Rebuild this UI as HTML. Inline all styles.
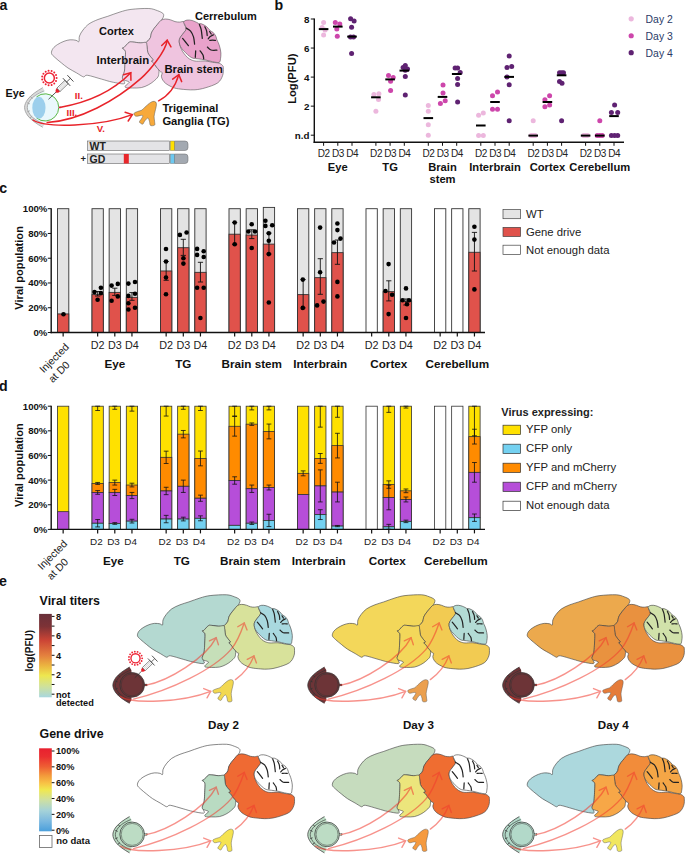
<!DOCTYPE html><html><head><meta charset="utf-8"><style>html,body{margin:0;padding:0;background:#fff;}svg{display:block;}</style></head><body><svg width="685" height="854" viewBox="0 0 685 854" font-family="Liberation Sans, sans-serif"><rect width="685" height="854" fill="#fff"/><text x="-0.60" y="10.30" font-size="14.2" font-weight="bold" text-anchor="start" fill="#111" >a</text><text x="274.60" y="10.00" font-size="14.2" font-weight="bold" text-anchor="start" fill="#111" >b</text><text x="-0.80" y="193.40" font-size="14.2" font-weight="bold" text-anchor="start" fill="#111" >c</text><text x="-0.90" y="391.20" font-size="14.2" font-weight="bold" text-anchor="start" fill="#111" >d</text><text x="-0.90" y="585.80" font-size="14.2" font-weight="bold" text-anchor="start" fill="#111" >e</text><path d="M51.50,53.40 C51.17,51.90 51.98,49.98 53.00,48.50 C54.02,47.02 55.77,45.70 57.60,44.50 C59.43,43.30 61.92,42.08 64.00,41.30 C66.08,40.52 68.10,39.97 70.10,39.80 C72.10,39.63 74.53,40.00 76.00,40.30 C77.47,40.60 78.32,42.32 78.90,41.60 C79.48,40.88 78.82,37.93 79.50,36.00 C80.18,34.07 81.42,32.02 83.00,30.00 C84.58,27.98 86.50,25.65 89.00,23.90 C91.50,22.15 94.87,20.77 98.00,19.50 C101.13,18.23 104.13,17.55 107.80,16.30 C111.47,15.05 116.13,13.15 120.00,12.00 C123.87,10.85 126.20,9.98 131.00,9.40 C135.80,8.82 144.38,8.28 148.80,8.50 C153.22,8.72 155.17,9.90 157.50,10.70 C159.83,11.50 161.78,12.42 162.80,13.30 C163.82,14.18 163.75,14.97 163.60,16.00 C163.45,17.03 162.92,18.12 161.90,19.50 C160.88,20.88 158.82,22.78 157.50,24.30 C156.18,25.82 155.02,27.15 154.00,28.60 C152.98,30.05 151.98,31.53 151.40,33.00 C150.82,34.47 151.08,36.08 150.50,37.40 C149.92,38.72 148.77,40.02 147.90,40.90 C147.03,41.78 146.55,42.37 145.30,42.70 C144.05,43.03 142.53,43.02 140.40,42.90 C138.27,42.78 134.40,42.08 132.50,42.00 C130.60,41.92 130.38,41.52 129.00,42.40 C127.62,43.28 125.30,46.35 124.20,47.30 C123.10,48.25 122.33,47.67 122.40,48.10 C122.47,48.53 124.08,49.17 124.60,49.90 C125.12,50.63 125.42,50.60 125.50,52.50 C125.58,54.40 125.25,58.38 125.10,61.30 C124.95,64.22 124.82,67.97 124.60,70.00 C124.38,72.03 124.17,72.33 123.80,73.50 C123.43,74.67 122.48,75.97 122.40,77.00 C122.32,78.03 123.03,78.57 123.30,79.70 C123.57,80.83 125.88,83.42 124.00,83.80 C122.12,84.18 115.75,82.78 112.00,82.00 C108.25,81.22 105.55,80.22 101.50,79.10 C97.45,77.98 90.53,75.73 87.70,75.30 C84.87,74.87 85.33,76.28 84.50,76.50 C83.67,76.72 84.05,77.22 82.70,76.60 C81.35,75.98 78.85,74.23 76.40,72.80 C73.95,71.37 70.52,69.67 68.00,68.00 C65.48,66.33 63.47,64.55 61.30,62.80 C59.13,61.05 56.63,59.07 55.00,57.50 C53.37,55.93 51.83,54.90 51.50,53.40 Z" fill="#f3e6f0" stroke="#555" stroke-width="0.6"/><path d="M161.00,20.30 C162.32,19.42 163.78,19.07 165.40,19.00 C167.02,18.93 169.10,19.47 170.70,19.90 C172.30,20.33 173.55,21.23 175.00,21.60 C176.45,21.97 177.93,22.10 179.40,22.10 C180.87,22.10 182.97,21.20 183.80,21.60 C184.63,22.00 184.00,23.28 184.40,24.50 C184.80,25.72 186.27,27.57 186.20,28.90 C186.13,30.23 184.85,31.28 184.00,32.50 C183.15,33.72 181.88,34.98 181.10,36.20 C180.32,37.42 179.55,38.47 179.30,39.80 C179.05,41.13 179.23,42.58 179.60,44.20 C179.97,45.82 180.77,47.95 181.50,49.50 C182.23,51.05 183.00,52.17 184.00,53.50 C185.00,54.83 186.25,56.42 187.50,57.50 C188.75,58.58 190.00,59.38 191.50,60.00 C193.00,60.62 194.22,61.03 196.50,61.20 C198.78,61.37 202.53,60.82 205.20,61.00 C207.87,61.18 210.18,61.93 212.50,62.30 C214.82,62.67 217.43,62.67 219.10,63.20 C220.77,63.73 221.80,64.73 222.50,65.50 C223.20,66.27 223.27,66.17 223.30,67.80 C223.33,69.43 223.63,72.78 222.70,75.30 C221.77,77.82 220.63,80.80 217.70,82.90 C214.77,85.00 208.88,86.75 205.10,87.90 C201.32,89.05 198.18,89.52 195.00,89.80 C191.82,90.08 189.08,89.82 186.00,89.60 C182.92,89.38 178.98,89.00 176.50,88.50 C174.02,88.00 172.88,87.43 171.10,86.60 C169.32,85.77 167.20,84.60 165.80,83.50 C164.40,82.40 163.43,81.22 162.70,80.00 C161.97,78.78 161.47,77.42 161.40,76.20 C161.33,74.98 162.45,73.43 162.30,72.70 C162.15,71.97 161.08,72.25 160.50,71.80 C159.92,71.35 159.52,70.80 158.80,70.00 C158.08,69.20 157.08,68.17 156.20,67.00 C155.32,65.83 154.32,63.98 153.50,63.00 C152.68,62.02 151.37,61.60 151.30,61.10 C151.23,60.60 153.32,60.85 153.10,60.00 C152.88,59.15 150.88,57.25 150.00,56.00 C149.12,54.75 148.30,54.10 147.80,52.50 C147.30,50.90 147.28,48.08 147.00,46.40 C146.72,44.72 145.95,43.32 146.10,42.40 C146.25,41.48 147.17,41.73 147.90,40.90 C148.63,40.07 149.92,38.72 150.50,37.40 C151.08,36.08 150.82,34.47 151.40,33.00 C151.98,31.53 152.98,30.05 154.00,28.60 C155.02,27.15 156.33,25.68 157.50,24.30 C158.67,22.92 159.68,21.18 161.00,20.30 Z" fill="#efc4df" stroke="#555" stroke-width="0.6"/><path d="M122.40,48.10 C122.33,47.67 123.10,48.25 124.20,47.30 C125.30,46.35 127.62,43.28 129.00,42.40 C130.38,41.52 130.60,41.92 132.50,42.00 C134.40,42.08 138.13,42.83 140.40,42.90 C142.67,42.97 145.00,41.82 146.10,42.40 C147.20,42.98 146.72,44.72 147.00,46.40 C147.28,48.08 147.30,50.90 147.80,52.50 C148.30,54.10 149.12,54.75 150.00,56.00 C150.88,57.25 152.88,59.15 153.10,60.00 C153.32,60.85 151.23,60.60 151.30,61.10 C151.37,61.60 152.68,62.02 153.50,63.00 C154.32,63.98 155.32,65.83 156.20,67.00 C157.08,68.17 158.37,68.92 158.80,70.00 C159.23,71.08 158.95,72.33 158.80,73.50 C158.65,74.67 158.78,75.68 157.90,77.00 C157.02,78.32 155.10,80.08 153.50,81.40 C151.90,82.72 150.33,83.87 148.30,84.90 C146.27,85.93 143.93,87.08 141.30,87.60 C138.67,88.12 135.05,88.00 132.50,88.00 C129.95,88.00 127.17,87.97 126.00,87.60 C124.83,87.23 125.00,86.62 125.50,85.80 C126.00,84.98 128.57,83.43 129.00,82.70 C129.43,81.97 129.05,81.90 128.10,81.40 C127.15,80.90 124.25,80.43 123.30,79.70 C122.35,78.97 122.32,78.03 122.40,77.00 C122.48,75.97 123.43,74.67 123.80,73.50 C124.17,72.33 124.38,72.03 124.60,70.00 C124.82,67.97 124.95,64.22 125.10,61.30 C125.25,58.38 125.58,54.40 125.50,52.50 C125.42,50.60 125.12,50.63 124.60,49.90 C124.08,49.17 122.47,48.53 122.40,48.10 Z" fill="#f2d4e7" stroke="#555" stroke-width="0.6"/><path d="M183.70,21.90 C184.03,21.08 185.60,20.33 187.00,20.10 C188.40,19.87 190.28,20.02 192.10,20.50 C193.92,20.98 196.82,22.45 197.90,23.00 C198.98,23.55 198.00,23.67 198.60,23.80 C199.20,23.93 200.15,23.32 201.50,23.80 C202.85,24.28 205.23,25.55 206.70,26.70 C208.17,27.85 209.22,29.73 210.30,30.70 C211.38,31.67 212.28,31.58 213.20,32.50 C214.12,33.42 215.18,34.98 215.80,36.20 C216.42,37.42 216.48,38.72 216.90,39.80 C217.32,40.88 217.82,41.48 218.30,42.70 C218.78,43.92 219.37,45.38 219.80,47.10 C220.23,48.82 220.78,51.05 220.90,53.00 C221.02,54.95 220.80,57.23 220.50,58.80 C220.20,60.37 220.43,61.92 219.10,62.40 C217.77,62.88 214.82,62.12 212.50,61.70 C210.18,61.28 207.63,60.38 205.20,59.90 C202.77,59.42 199.93,59.08 197.90,58.80 C195.87,58.52 194.40,58.62 193.00,58.20 C191.60,57.78 190.75,57.23 189.50,56.30 C188.25,55.37 186.78,53.88 185.50,52.60 C184.22,51.32 182.78,50.00 181.80,48.60 C180.82,47.20 180.02,45.67 179.60,44.20 C179.18,42.73 179.05,41.13 179.30,39.80 C179.55,38.47 180.32,37.42 181.10,36.20 C181.88,34.98 183.15,33.72 184.00,32.50 C184.85,31.28 186.03,30.15 186.20,28.90 C186.37,27.65 185.42,26.17 185.00,25.00 C184.58,23.83 183.37,22.72 183.70,21.90 Z" fill="#e9a2cb" stroke="#555" stroke-width="0.6"/><path d="M186.20,28.10 C186.93,28.60 189.38,29.63 190.60,31.10 C191.82,32.57 192.83,34.72 193.50,36.90 C194.17,39.08 194.42,42.98 194.60,44.20" fill="none" stroke="#222" stroke-width="1.25" stroke-linecap="round"/><path d="M182.60,38.40 C183.08,39.00 184.53,40.78 185.50,42.00 C186.47,43.22 187.92,45.08 188.40,45.70" fill="none" stroke="#222" stroke-width="1.25" stroke-linecap="round"/><path d="M199.40,24.50 C199.70,25.35 200.72,27.28 201.20,29.60 C201.68,31.92 202.12,36.93 202.30,38.40" fill="none" stroke="#222" stroke-width="1.25" stroke-linecap="round"/><path d="M209.80,40.40 C210.25,40.37 211.57,40.20 212.50,40.20 C213.43,40.20 214.92,40.37 215.40,40.40" fill="none" stroke="#222" stroke-width="1.25" stroke-linecap="round"/><path d="M207.40,47.10 C208.00,47.58 209.42,49.48 211.00,50.00 C212.58,50.52 215.92,50.17 216.90,50.20" fill="none" stroke="#222" stroke-width="1.25" stroke-linecap="round"/><path d="M195.70,50.80 C195.63,51.88 195.37,56.22 195.30,57.30" fill="none" stroke="#222" stroke-width="1.25" stroke-linecap="round"/><path d="M200.10,50.80 C200.58,51.52 202.40,53.77 203.00,55.10 C203.60,56.43 203.58,58.18 203.70,58.80" fill="none" stroke="#222" stroke-width="1.25" stroke-linecap="round"/><path d="M209.60,31.50 C209.87,31.92 210.93,33.58 211.20,34.00" fill="none" stroke="#222" stroke-width="1.25" stroke-linecap="round"/><path d="M204.80,26.80 C205.10,27.47 206.20,29.35 206.60,30.80 C207.00,32.25 207.10,34.72 207.20,35.50" fill="none" stroke="#222" stroke-width="1.25" stroke-linecap="round"/><path d="M213.50,34.80 C212.95,35.10 211.08,35.93 210.20,36.60 C209.32,37.27 208.53,38.43 208.20,38.80" fill="none" stroke="#222" stroke-width="1.25" stroke-linecap="round"/><path d="M134.40,112.90 C135.08,112.38 136.97,111.77 138.20,111.30 C139.43,110.83 140.68,110.78 141.80,110.10 C142.92,109.42 143.62,108.35 144.90,107.20 C146.18,106.05 148.15,104.17 149.50,103.20 C150.85,102.23 151.95,101.58 153.00,101.40 C154.05,101.22 155.23,101.47 155.80,102.10 C156.37,102.73 156.52,103.67 156.40,105.20 C156.28,106.73 155.48,109.43 155.10,111.30 C154.72,113.17 154.18,114.70 154.10,116.40 C154.02,118.10 154.52,120.05 154.60,121.50 C154.68,122.95 155.28,124.45 154.60,125.10 C153.92,125.75 151.35,126.00 150.50,125.40 C149.65,124.80 149.85,122.65 149.50,121.50 C149.15,120.35 148.83,119.00 148.40,118.50 C147.97,118.00 147.57,118.00 146.90,118.50 C146.23,119.00 145.08,120.57 144.40,121.50 C143.72,122.43 143.48,123.83 142.80,124.10 C142.12,124.37 140.85,123.53 140.30,123.10 C139.75,122.67 139.33,122.18 139.50,121.50 C139.67,120.82 140.75,119.93 141.30,119.00 C141.85,118.07 142.88,116.50 142.80,115.90 C142.72,115.30 141.73,115.35 140.80,115.40 C139.87,115.45 138.13,116.12 137.20,116.20 C136.27,116.28 135.72,116.20 135.20,115.90 C134.68,115.60 134.23,114.90 134.10,114.40 C133.97,113.90 133.72,113.42 134.40,112.90 Z" fill="#f7a93b" stroke="#555" stroke-width="0.5"/><path d="M42.8,87.6 C37,91 31,95 28,99 C25.5,102.5 24.6,105 24.6,107.4 C24.6,110 25.5,112.5 28,116 C31,120 37,124 42.8,127.3 L44.8,124 L46,107 L44.8,90.8 Z" fill="#eef8fb"/><path d="M43.5,89.2 C37.5,92.2 31.7,96 29.1,99.5 C26.9,102.8 25.9,105 25.9,107.4 C25.9,110 26.9,112.2 29.1,115.5 C31.7,119 37.5,122.8 43.5,125.6" fill="none" stroke="#dadada" stroke-width="2.6"/><path d="M42.8,87.6 C37,91 31,95 28,99 C25.5,102.5 24.6,105 24.6,107.4 C24.6,110 25.5,112.5 28,116 C31,120 37,124 42.8,127.3" fill="none" stroke="#999" stroke-width="0.8"/><path d="M44.2,90.9 C38,93.3 32.5,97 30.3,100 C28.3,103 27.3,105 27.3,107.4 C27.3,110 28.3,112 30.3,115 C32.5,118 38,121.5 44.2,123.9" fill="none" stroke="#999" stroke-width="0.8"/><path d="M30.5,96.8 L32.6,98.6 M27.3,102.8 L29.8,103.8 M27.3,111.8 L29.8,110.8 M30,118 L32.2,116.2" stroke="#999" stroke-width="0.8"/><circle cx="45.3" cy="107.4" r="13.6" fill="#eaf8fc"/><path d="M36.5,96.9 A13.6,13.6 0 1,1 36.5,117.9" fill="none" stroke="#5cb848" stroke-width="1"/><ellipse cx="38.9" cy="107.7" rx="6.6" ry="11" fill="#9ccfec"/><rect x="58.6" y="106.4" width="2.6" height="1.8" fill="#aaa"/><g><circle cx="49.35" cy="78.0" r="5.0" fill="none" stroke="#ee2233" stroke-width="1.5"/><circle cx="56.65" cy="78.00" r="1.0" fill="#ee2233"/><circle cx="56.02" cy="80.97" r="1.0" fill="#ee2233"/><circle cx="54.23" cy="83.42" r="1.0" fill="#ee2233"/><circle cx="51.61" cy="84.94" r="1.0" fill="#ee2233"/><circle cx="48.59" cy="85.26" r="1.0" fill="#ee2233"/><circle cx="45.70" cy="84.32" r="1.0" fill="#ee2233"/><circle cx="43.44" cy="82.29" r="1.0" fill="#ee2233"/><circle cx="42.21" cy="79.52" r="1.0" fill="#ee2233"/><circle cx="42.21" cy="76.48" r="1.0" fill="#ee2233"/><circle cx="43.44" cy="73.71" r="1.0" fill="#ee2233"/><circle cx="45.70" cy="71.68" r="1.0" fill="#ee2233"/><circle cx="48.59" cy="70.74" r="1.0" fill="#ee2233"/><circle cx="51.61" cy="71.06" r="1.0" fill="#ee2233"/><circle cx="54.23" cy="72.58" r="1.0" fill="#ee2233"/><circle cx="56.02" cy="75.03" r="1.0" fill="#ee2233"/></g><g transform="translate(48.5,99.3) rotate(-43.70)"><line x1="0" y1="0" x2="10.5" y2="0" stroke="#333" stroke-width="0.75"/><path d="M10,0 Q11,-2.3 13.8,-2.3 L13.8,2.3 Q11,2.3 10,0 Z" fill="#e8202a"/><rect x="13.8" y="-2.3" width="11.2" height="4.6" fill="#fafafa" stroke="#444" stroke-width="0.6"/><line x1="15" y1="-0.8" x2="24" y2="-0.8" stroke="#aaa" stroke-width="0.45"/><line x1="15" y1="0.8" x2="24" y2="0.8" stroke="#aaa" stroke-width="0.45"/><line x1="25" y1="-5.3" x2="25" y2="5.3" stroke="#444" stroke-width="0.9"/><line x1="25" y1="0" x2="30.3" y2="0" stroke="#444" stroke-width="0.8"/><line x1="30.3" y1="-4.4" x2="30.3" y2="4.4" stroke="#444" stroke-width="0.9"/></g><path d="M59.6,107.4 C85,103 112,92 130.8,72.7" fill="none" stroke="#e8232a" stroke-width="1.5" stroke-linecap="round"/><path d="M123.46,74.66 L130.80,72.70 L130.93,80.30" fill="none" stroke="#e8232a" stroke-width="1.5" stroke-linecap="round" stroke-linejoin="miter"/><path d="M47.2,122.6 C80,120.5 116,100.5 141,78.4 C148.5,71.8 165.5,52 167.2,40.3" fill="none" stroke="#e8232a" stroke-width="1.5" stroke-linecap="round"/><path d="M161.71,45.55 L167.20,40.30 L170.97,46.90" fill="none" stroke="#e8232a" stroke-width="1.5" stroke-linecap="round" stroke-linejoin="miter"/><path d="M33,120 C45,128 100,127 132.3,114.6" fill="none" stroke="#e8232a" stroke-width="1.5" stroke-linecap="round"/><path d="M125.10,112.18 L132.30,114.60 L128.21,121.01" fill="none" stroke="#e8232a" stroke-width="1.5" stroke-linecap="round" stroke-linejoin="miter"/><path d="M158.6,100.8 C168,96 175,88 178.8,74.6" fill="none" stroke="#e8232a" stroke-width="1.5" stroke-linecap="round"/><path d="M172.66,79.09 L178.80,74.60 L181.67,81.64" fill="none" stroke="#e8232a" stroke-width="1.5" stroke-linecap="round" stroke-linejoin="miter"/><text x="99.00" y="34.50" font-size="11.0" font-weight="bold" text-anchor="start" fill="#111" >Cortex</text><text x="96.60" y="64.40" font-size="11.4" font-weight="bold" text-anchor="start" fill="#111" >Interbrain</text><text x="195.00" y="19.50" font-size="11.0" font-weight="bold" text-anchor="start" fill="#111" >Cerrebulum</text><text x="164.40" y="73.40" font-size="11.3" font-weight="bold" text-anchor="start" fill="#111" >Brain stem</text><text x="5.50" y="97.00" font-size="10.8" font-weight="bold" text-anchor="start" fill="#111" >Eye</text><text x="162.40" y="112.30" font-size="11.2" font-weight="bold" text-anchor="start" fill="#111" >Trigeminal</text><text x="162.40" y="124.60" font-size="11.2" font-weight="bold" text-anchor="start" fill="#111" >Ganglia (TG)</text><text x="74.80" y="98.60" font-size="9.6" font-weight="bold" text-anchor="start" fill="#e8232a" >II.</text><text x="66.60" y="116.10" font-size="9.6" font-weight="bold" text-anchor="start" fill="#e8232a" >III.</text><text x="96.80" y="132.30" font-size="9.6" font-weight="bold" text-anchor="start" fill="#e8232a" >V.</text><path d="M174.5,141 L185,141 Q188,141 188,144 L188,147.5 Q188,150.5 185,150.5 L174.5,150.5 Z" fill="#a3a9b1" stroke="#666" stroke-width="0.5"/><rect x="87.5" y="141" width="82" height="9.5" fill="#e3e3e6" stroke="#666" stroke-width="0.6"/><rect x="170.3" y="141" width="4.2" height="9.5" fill="#ffe000" stroke="#666" stroke-width="0.4"/><text x="89.50" y="149.60" font-size="10.5" font-weight="bold" text-anchor="start" fill="#222" >WT</text><path d="M174.5,154 L185,154 Q188,154 188,157 L188,160.5 Q188,163.5 185,163.5 L174.5,163.5 Z" fill="#a3a9b1" stroke="#666" stroke-width="0.5"/><rect x="87.5" y="154" width="82" height="9.5" fill="#e3e3e6" stroke="#666" stroke-width="0.6"/><rect x="170.3" y="154" width="4.2" height="9.5" fill="#6cc8f0" stroke="#666" stroke-width="0.4"/><rect x="123.8" y="154" width="5" height="9.5" fill="#e8272b"/><text x="89.50" y="162.60" font-size="10.5" font-weight="bold" text-anchor="start" fill="#222" >GD</text><text x="80.60" y="162.00" font-size="9.5" font-weight="bold" text-anchor="start" fill="#222" >+</text><line x1="314.3" y1="18.50" x2="314.3" y2="142.9" stroke="#111" stroke-width="1.4"/><line x1="313.6" y1="142.2" x2="624" y2="142.2" stroke="#111" stroke-width="1.4"/><line x1="310.8" y1="19.00" x2="314.3" y2="19.00" stroke="#111" stroke-width="1"/><text x="309.50" y="22.50" font-size="9.8" font-weight="bold" text-anchor="end" fill="#111" >8</text><line x1="310.8" y1="48.05" x2="314.3" y2="48.05" stroke="#111" stroke-width="1"/><text x="309.50" y="51.55" font-size="9.8" font-weight="bold" text-anchor="end" fill="#111" >6</text><line x1="310.8" y1="77.10" x2="314.3" y2="77.10" stroke="#111" stroke-width="1"/><text x="309.50" y="80.60" font-size="9.8" font-weight="bold" text-anchor="end" fill="#111" >4</text><line x1="310.8" y1="106.15" x2="314.3" y2="106.15" stroke="#111" stroke-width="1"/><text x="309.50" y="109.65" font-size="9.8" font-weight="bold" text-anchor="end" fill="#111" >2</text><line x1="310.8" y1="135.20" x2="314.3" y2="135.20" stroke="#111" stroke-width="1"/><text x="309.50" y="138.70" font-size="9.8" font-weight="bold" text-anchor="end" fill="#111" >n.d</text><text x="0.00" y="0.00" font-size="11.2" font-weight="bold" text-anchor="middle" fill="#111" transform="translate(296.0,78.7) rotate(-90)">Log(PFU)</text><line x1="323.60" y1="142.2" x2="323.60" y2="145.8" stroke="#111" stroke-width="1"/><text x="323.80" y="157.10" font-size="10" text-anchor="middle" fill="#222" letter-spacing="-0.4">D2</text><line x1="337.80" y1="142.2" x2="337.80" y2="145.8" stroke="#111" stroke-width="1"/><text x="338.00" y="157.10" font-size="10" text-anchor="middle" fill="#222" letter-spacing="-0.4">D3</text><line x1="352.00" y1="142.2" x2="352.00" y2="145.8" stroke="#111" stroke-width="1"/><text x="352.20" y="157.10" font-size="10" text-anchor="middle" fill="#222" letter-spacing="-0.4">D4</text><text x="337.80" y="170.70" font-size="11.2" font-weight="bold" text-anchor="middle" fill="#111" >Eye</text><line x1="375.90" y1="142.2" x2="375.90" y2="145.8" stroke="#111" stroke-width="1"/><text x="376.10" y="157.10" font-size="10" text-anchor="middle" fill="#222" letter-spacing="-0.4">D2</text><line x1="390.10" y1="142.2" x2="390.10" y2="145.8" stroke="#111" stroke-width="1"/><text x="390.30" y="157.10" font-size="10" text-anchor="middle" fill="#222" letter-spacing="-0.4">D3</text><line x1="404.30" y1="142.2" x2="404.30" y2="145.8" stroke="#111" stroke-width="1"/><text x="404.50" y="157.10" font-size="10" text-anchor="middle" fill="#222" letter-spacing="-0.4">D4</text><text x="390.10" y="170.70" font-size="11.2" font-weight="bold" text-anchor="middle" fill="#111" >TG</text><line x1="428.30" y1="142.2" x2="428.30" y2="145.8" stroke="#111" stroke-width="1"/><text x="428.50" y="157.10" font-size="10" text-anchor="middle" fill="#222" letter-spacing="-0.4">D2</text><line x1="442.50" y1="142.2" x2="442.50" y2="145.8" stroke="#111" stroke-width="1"/><text x="442.70" y="157.10" font-size="10" text-anchor="middle" fill="#222" letter-spacing="-0.4">D3</text><line x1="456.70" y1="142.2" x2="456.70" y2="145.8" stroke="#111" stroke-width="1"/><text x="456.90" y="157.10" font-size="10" text-anchor="middle" fill="#222" letter-spacing="-0.4">D4</text><text x="442.50" y="170.70" font-size="11.2" font-weight="bold" text-anchor="middle" fill="#111" >Brain</text><line x1="480.80" y1="142.2" x2="480.80" y2="145.8" stroke="#111" stroke-width="1"/><text x="481.00" y="157.10" font-size="10" text-anchor="middle" fill="#222" letter-spacing="-0.4">D2</text><line x1="495.00" y1="142.2" x2="495.00" y2="145.8" stroke="#111" stroke-width="1"/><text x="495.20" y="157.10" font-size="10" text-anchor="middle" fill="#222" letter-spacing="-0.4">D3</text><line x1="509.20" y1="142.2" x2="509.20" y2="145.8" stroke="#111" stroke-width="1"/><text x="509.40" y="157.10" font-size="10" text-anchor="middle" fill="#222" letter-spacing="-0.4">D4</text><text x="495.00" y="170.70" font-size="11.2" font-weight="bold" text-anchor="middle" fill="#111" >Interbrain</text><line x1="533.20" y1="142.2" x2="533.20" y2="145.8" stroke="#111" stroke-width="1"/><text x="533.40" y="157.10" font-size="10" text-anchor="middle" fill="#222" letter-spacing="-0.4">D2</text><line x1="547.40" y1="142.2" x2="547.40" y2="145.8" stroke="#111" stroke-width="1"/><text x="547.60" y="157.10" font-size="10" text-anchor="middle" fill="#222" letter-spacing="-0.4">D3</text><line x1="561.60" y1="142.2" x2="561.60" y2="145.8" stroke="#111" stroke-width="1"/><text x="561.80" y="157.10" font-size="10" text-anchor="middle" fill="#222" letter-spacing="-0.4">D4</text><text x="547.40" y="170.70" font-size="11.2" font-weight="bold" text-anchor="middle" fill="#111" >Cortex</text><line x1="585.60" y1="142.2" x2="585.60" y2="145.8" stroke="#111" stroke-width="1"/><text x="585.80" y="157.10" font-size="10" text-anchor="middle" fill="#222" letter-spacing="-0.4">D2</text><line x1="599.80" y1="142.2" x2="599.80" y2="145.8" stroke="#111" stroke-width="1"/><text x="600.00" y="157.10" font-size="10" text-anchor="middle" fill="#222" letter-spacing="-0.4">D3</text><line x1="614.00" y1="142.2" x2="614.00" y2="145.8" stroke="#111" stroke-width="1"/><text x="614.20" y="157.10" font-size="10" text-anchor="middle" fill="#222" letter-spacing="-0.4">D4</text><text x="599.80" y="170.70" font-size="11.2" font-weight="bold" text-anchor="middle" fill="#111" >Cerebellum</text><text x="442.50" y="183.10" font-size="11.2" font-weight="bold" text-anchor="middle" fill="#111" >stem</text><circle cx="323.60" cy="22.60" r="2.5" fill="#ecb7dd"/><circle cx="322.10" cy="27.60" r="2.5" fill="#ecb7dd"/><circle cx="325.10" cy="30.10" r="2.5" fill="#ecb7dd"/><circle cx="323.60" cy="35.10" r="2.5" fill="#ecb7dd"/><line x1="318.80" y1="29.10" x2="328.40" y2="29.10" stroke="#000" stroke-width="2.0"/><circle cx="335.30" cy="22.60" r="2.5" fill="#cd46ab"/><circle cx="339.80" cy="24.00" r="2.5" fill="#cd46ab"/><circle cx="336.80" cy="29.00" r="2.5" fill="#cd46ab"/><circle cx="337.30" cy="36.30" r="2.5" fill="#cd46ab"/><line x1="333.00" y1="26.60" x2="342.60" y2="26.60" stroke="#000" stroke-width="2.0"/><circle cx="350.60" cy="18.80" r="2.5" fill="#5f2272"/><circle cx="354.10" cy="21.00" r="2.5" fill="#5f2272"/><circle cx="351.60" cy="27.30" r="2.5" fill="#5f2272"/><circle cx="350.50" cy="37.00" r="2.5" fill="#5f2272"/><circle cx="353.50" cy="37.00" r="2.5" fill="#5f2272"/><circle cx="351.60" cy="53.50" r="2.5" fill="#5f2272"/><line x1="347.20" y1="36.60" x2="356.80" y2="36.60" stroke="#000" stroke-width="2.0"/><circle cx="373.90" cy="94.40" r="2.5" fill="#ecb7dd"/><circle cx="378.90" cy="93.70" r="2.5" fill="#ecb7dd"/><circle cx="378.50" cy="99.50" r="2.5" fill="#ecb7dd"/><circle cx="375.90" cy="111.20" r="2.5" fill="#ecb7dd"/><line x1="371.10" y1="97.30" x2="380.70" y2="97.30" stroke="#000" stroke-width="2.0"/><circle cx="388.50" cy="75.40" r="2.5" fill="#cd46ab"/><circle cx="393.20" cy="77.60" r="2.5" fill="#cd46ab"/><circle cx="390.60" cy="81.30" r="2.5" fill="#cd46ab"/><circle cx="390.60" cy="90.50" r="2.5" fill="#cd46ab"/><line x1="385.30" y1="79.40" x2="394.90" y2="79.40" stroke="#000" stroke-width="2.0"/><circle cx="403.10" cy="67.40" r="2.5" fill="#5f2272"/><circle cx="405.30" cy="65.50" r="2.5" fill="#5f2272"/><circle cx="407.50" cy="68.90" r="2.5" fill="#5f2272"/><circle cx="405.30" cy="70.30" r="2.5" fill="#5f2272"/><circle cx="405.30" cy="76.60" r="2.5" fill="#5f2272"/><circle cx="405.30" cy="95.10" r="2.5" fill="#5f2272"/><line x1="399.50" y1="70.60" x2="409.10" y2="70.60" stroke="#000" stroke-width="2.0"/><circle cx="428.30" cy="105.40" r="2.5" fill="#ecb7dd"/><circle cx="428.30" cy="111.20" r="2.5" fill="#ecb7dd"/><circle cx="428.30" cy="124.80" r="2.5" fill="#ecb7dd"/><circle cx="428.30" cy="135.30" r="2.5" fill="#ecb7dd"/><line x1="423.50" y1="118.10" x2="433.10" y2="118.10" stroke="#000" stroke-width="2.0"/><circle cx="443.00" cy="84.90" r="2.5" fill="#cd46ab"/><circle cx="443.00" cy="93.00" r="2.5" fill="#cd46ab"/><circle cx="445.20" cy="100.70" r="2.5" fill="#cd46ab"/><circle cx="440.40" cy="103.60" r="2.5" fill="#cd46ab"/><line x1="437.70" y1="96.90" x2="447.30" y2="96.90" stroke="#000" stroke-width="2.0"/><circle cx="455.10" cy="68.10" r="2.5" fill="#5f2272"/><circle cx="457.60" cy="68.10" r="2.5" fill="#5f2272"/><circle cx="460.20" cy="72.50" r="2.5" fill="#5f2272"/><circle cx="457.60" cy="78.60" r="2.5" fill="#5f2272"/><circle cx="457.60" cy="84.60" r="2.5" fill="#5f2272"/><circle cx="457.60" cy="102.00" r="2.5" fill="#5f2272"/><line x1="451.90" y1="74.00" x2="461.50" y2="74.00" stroke="#000" stroke-width="2.0"/><circle cx="478.60" cy="115.20" r="2.5" fill="#ecb7dd"/><circle cx="483.30" cy="113.00" r="2.5" fill="#ecb7dd"/><circle cx="478.60" cy="135.60" r="2.5" fill="#ecb7dd"/><circle cx="483.30" cy="135.60" r="2.5" fill="#ecb7dd"/><line x1="476.00" y1="125.50" x2="485.60" y2="125.50" stroke="#000" stroke-width="2.0"/><circle cx="492.50" cy="95.70" r="2.5" fill="#cd46ab"/><circle cx="497.50" cy="92.00" r="2.5" fill="#cd46ab"/><circle cx="492.50" cy="109.20" r="2.5" fill="#cd46ab"/><circle cx="497.50" cy="109.20" r="2.5" fill="#cd46ab"/><line x1="490.20" y1="102.00" x2="499.80" y2="102.00" stroke="#000" stroke-width="2.0"/><circle cx="509.20" cy="55.90" r="2.5" fill="#5f2272"/><circle cx="507.00" cy="67.50" r="2.5" fill="#5f2272"/><circle cx="511.70" cy="66.50" r="2.5" fill="#5f2272"/><circle cx="507.00" cy="76.90" r="2.5" fill="#5f2272"/><circle cx="509.20" cy="84.70" r="2.5" fill="#5f2272"/><circle cx="509.20" cy="120.80" r="2.5" fill="#5f2272"/><line x1="504.40" y1="76.90" x2="514.00" y2="76.90" stroke="#000" stroke-width="2.0"/><circle cx="533.20" cy="120.80" r="2.5" fill="#ecb7dd"/><circle cx="531.20" cy="135.60" r="2.5" fill="#ecb7dd"/><circle cx="533.20" cy="135.60" r="2.5" fill="#ecb7dd"/><circle cx="535.20" cy="135.60" r="2.5" fill="#ecb7dd"/><line x1="528.40" y1="135.60" x2="538.00" y2="135.60" stroke="#000" stroke-width="2.0"/><circle cx="544.90" cy="99.80" r="2.5" fill="#cd46ab"/><circle cx="549.60" cy="95.70" r="2.5" fill="#cd46ab"/><circle cx="544.90" cy="106.70" r="2.5" fill="#cd46ab"/><circle cx="549.60" cy="105.10" r="2.5" fill="#cd46ab"/><line x1="542.60" y1="102.00" x2="552.20" y2="102.00" stroke="#000" stroke-width="2.0"/><circle cx="559.50" cy="72.80" r="2.5" fill="#5f2272"/><circle cx="563.50" cy="72.80" r="2.5" fill="#5f2272"/><circle cx="559.50" cy="81.60" r="2.5" fill="#5f2272"/><circle cx="562.00" cy="83.20" r="2.5" fill="#5f2272"/><circle cx="561.60" cy="120.80" r="2.5" fill="#5f2272"/><circle cx="561.60" cy="72.80" r="2.5" fill="#5f2272"/><line x1="556.80" y1="75.30" x2="566.40" y2="75.30" stroke="#000" stroke-width="2.0"/><circle cx="583.60" cy="135.60" r="2.5" fill="#ecb7dd"/><circle cx="585.60" cy="135.60" r="2.5" fill="#ecb7dd"/><circle cx="587.60" cy="135.60" r="2.5" fill="#ecb7dd"/><line x1="580.80" y1="135.60" x2="590.40" y2="135.60" stroke="#000" stroke-width="2.0"/><circle cx="599.80" cy="120.80" r="2.5" fill="#cd46ab"/><circle cx="597.20" cy="135.60" r="2.5" fill="#cd46ab"/><circle cx="599.80" cy="135.60" r="2.5" fill="#cd46ab"/><circle cx="602.20" cy="135.60" r="2.5" fill="#cd46ab"/><line x1="595.00" y1="135.60" x2="604.60" y2="135.60" stroke="#000" stroke-width="2.0"/><circle cx="614.60" cy="105.10" r="2.5" fill="#5f2272"/><circle cx="611.40" cy="112.40" r="2.5" fill="#5f2272"/><circle cx="617.70" cy="112.40" r="2.5" fill="#5f2272"/><circle cx="611.40" cy="135.60" r="2.5" fill="#5f2272"/><circle cx="617.70" cy="135.60" r="2.5" fill="#5f2272"/><circle cx="614.60" cy="135.60" r="2.5" fill="#5f2272"/><line x1="609.20" y1="116.10" x2="618.80" y2="116.10" stroke="#000" stroke-width="2.0"/><circle cx="631.2" cy="18.80" r="2.6" fill="#ecb7dd"/><text x="645.60" y="22.60" font-size="10.4" text-anchor="start" fill="#2b3a67" >Day 2</text><circle cx="631.2" cy="35.75" r="2.6" fill="#cd46ab"/><text x="645.60" y="39.55" font-size="10.4" text-anchor="start" fill="#2b3a67" >Day 3</text><circle cx="631.2" cy="52.70" r="2.6" fill="#5f2272"/><text x="645.60" y="56.50" font-size="10.4" text-anchor="start" fill="#2b3a67" >Day 4</text><rect x="57.50" y="208.70" width="11.3" height="123.80" fill="#e4e4e4" stroke="#333" stroke-width="0.9"/><rect x="57.50" y="313.93" width="11.3" height="18.57" fill="#e0524b" stroke="#333" stroke-width="0.9"/><rect x="92.00" y="208.70" width="11.3" height="123.80" fill="#e4e4e4" stroke="#333" stroke-width="0.9"/><rect x="92.00" y="294.62" width="11.3" height="37.88" fill="#e0524b" stroke="#333" stroke-width="0.9"/><rect x="109.15" y="208.70" width="11.3" height="123.80" fill="#e4e4e4" stroke="#333" stroke-width="0.9"/><rect x="109.15" y="292.39" width="11.3" height="40.11" fill="#e0524b" stroke="#333" stroke-width="0.9"/><rect x="126.30" y="208.70" width="11.3" height="123.80" fill="#e4e4e4" stroke="#333" stroke-width="0.9"/><rect x="126.30" y="297.34" width="11.3" height="35.16" fill="#e0524b" stroke="#333" stroke-width="0.9"/><rect x="160.50" y="208.70" width="11.3" height="123.80" fill="#e4e4e4" stroke="#333" stroke-width="0.9"/><rect x="160.50" y="270.97" width="11.3" height="61.53" fill="#e0524b" stroke="#333" stroke-width="0.9"/><rect x="177.65" y="208.70" width="11.3" height="123.80" fill="#e4e4e4" stroke="#333" stroke-width="0.9"/><rect x="177.65" y="247.70" width="11.3" height="84.80" fill="#e0524b" stroke="#333" stroke-width="0.9"/><rect x="194.80" y="208.70" width="11.3" height="123.80" fill="#e4e4e4" stroke="#333" stroke-width="0.9"/><rect x="194.80" y="272.33" width="11.3" height="60.17" fill="#e0524b" stroke="#333" stroke-width="0.9"/><rect x="229.00" y="208.70" width="11.3" height="123.80" fill="#e4e4e4" stroke="#333" stroke-width="0.9"/><rect x="229.00" y="234.20" width="11.3" height="98.30" fill="#e0524b" stroke="#333" stroke-width="0.9"/><rect x="246.15" y="208.70" width="11.3" height="123.80" fill="#e4e4e4" stroke="#333" stroke-width="0.9"/><rect x="246.15" y="235.07" width="11.3" height="97.43" fill="#e0524b" stroke="#333" stroke-width="0.9"/><rect x="263.30" y="207.40" width="11.3" height="125.10" fill="#e4e4e4" stroke="#333" stroke-width="0.9"/><rect x="263.30" y="244.11" width="11.3" height="88.39" fill="#e0524b" stroke="#333" stroke-width="0.9"/><rect x="297.50" y="208.70" width="11.3" height="123.80" fill="#e4e4e4" stroke="#333" stroke-width="0.9"/><rect x="297.50" y="294.62" width="11.3" height="37.88" fill="#e0524b" stroke="#333" stroke-width="0.9"/><rect x="314.65" y="208.70" width="11.3" height="123.80" fill="#e4e4e4" stroke="#333" stroke-width="0.9"/><rect x="314.65" y="277.66" width="11.3" height="54.84" fill="#e0524b" stroke="#333" stroke-width="0.9"/><rect x="331.80" y="208.70" width="11.3" height="123.80" fill="#e4e4e4" stroke="#333" stroke-width="0.9"/><rect x="331.80" y="252.65" width="11.3" height="79.85" fill="#e0524b" stroke="#333" stroke-width="0.9"/><rect x="366.00" y="208.70" width="11.3" height="123.80" fill="#fff" stroke="#333" stroke-width="0.9"/><rect x="383.15" y="208.70" width="11.3" height="123.80" fill="#e4e4e4" stroke="#333" stroke-width="0.9"/><rect x="383.15" y="291.65" width="11.3" height="40.85" fill="#e0524b" stroke="#333" stroke-width="0.9"/><rect x="400.30" y="208.70" width="11.3" height="123.80" fill="#e4e4e4" stroke="#333" stroke-width="0.9"/><rect x="400.30" y="301.55" width="11.3" height="30.95" fill="#e0524b" stroke="#333" stroke-width="0.9"/><rect x="434.50" y="208.70" width="11.3" height="123.80" fill="#fff" stroke="#333" stroke-width="0.9"/><rect x="451.65" y="208.70" width="11.3" height="123.80" fill="#fff" stroke="#333" stroke-width="0.9"/><rect x="468.80" y="208.70" width="11.3" height="123.80" fill="#e4e4e4" stroke="#333" stroke-width="0.9"/><rect x="468.80" y="252.28" width="11.3" height="80.22" fill="#e0524b" stroke="#333" stroke-width="0.9"/><circle cx="63.50" cy="314.30" r="2.3" fill="#000"/><line x1="97.65" y1="291.50" x2="97.65" y2="296.00" stroke="#111" stroke-width="0.9"/><line x1="95.05" y1="291.50" x2="100.25" y2="291.50" stroke="#111" stroke-width="0.9"/><line x1="95.05" y1="296.00" x2="100.25" y2="296.00" stroke="#111" stroke-width="0.9"/><circle cx="94.50" cy="292.10" r="2.3" fill="#000"/><circle cx="100.90" cy="287.70" r="2.3" fill="#000"/><circle cx="100.90" cy="293.10" r="2.3" fill="#000"/><circle cx="97.60" cy="299.70" r="2.3" fill="#000"/><line x1="114.80" y1="288.20" x2="114.80" y2="295.40" stroke="#111" stroke-width="0.9"/><line x1="112.20" y1="288.20" x2="117.40" y2="288.20" stroke="#111" stroke-width="0.9"/><line x1="112.20" y1="295.40" x2="117.40" y2="295.40" stroke="#111" stroke-width="0.9"/><circle cx="111.60" cy="285.60" r="2.3" fill="#000"/><circle cx="117.80" cy="283.90" r="2.3" fill="#000"/><circle cx="117.80" cy="296.40" r="2.3" fill="#000"/><circle cx="111.60" cy="300.80" r="2.3" fill="#000"/><line x1="131.95" y1="292.60" x2="131.95" y2="300.30" stroke="#111" stroke-width="0.9"/><line x1="129.35" y1="292.60" x2="134.55" y2="292.60" stroke="#111" stroke-width="0.9"/><line x1="129.35" y1="300.30" x2="134.55" y2="300.30" stroke="#111" stroke-width="0.9"/><circle cx="128.40" cy="283.60" r="2.3" fill="#000"/><circle cx="135.00" cy="282.00" r="2.3" fill="#000"/><circle cx="128.40" cy="295.90" r="2.3" fill="#000"/><circle cx="135.00" cy="293.80" r="2.3" fill="#000"/><circle cx="128.40" cy="303.30" r="2.3" fill="#000"/><circle cx="135.00" cy="307.70" r="2.3" fill="#000"/><circle cx="128.40" cy="309.50" r="2.3" fill="#000"/><line x1="166.15" y1="261.50" x2="166.15" y2="280.30" stroke="#111" stroke-width="0.9"/><line x1="163.55" y1="261.50" x2="168.75" y2="261.50" stroke="#111" stroke-width="0.9"/><line x1="163.55" y1="280.30" x2="168.75" y2="280.30" stroke="#111" stroke-width="0.9"/><circle cx="166.00" cy="249.00" r="2.3" fill="#000"/><circle cx="166.00" cy="261.50" r="2.3" fill="#000"/><circle cx="166.00" cy="277.50" r="2.3" fill="#000"/><circle cx="166.00" cy="294.30" r="2.3" fill="#000"/><line x1="183.30" y1="239.30" x2="183.30" y2="255.40" stroke="#111" stroke-width="0.9"/><line x1="180.70" y1="239.30" x2="185.90" y2="239.30" stroke="#111" stroke-width="0.9"/><line x1="180.70" y1="255.40" x2="185.90" y2="255.40" stroke="#111" stroke-width="0.9"/><circle cx="179.90" cy="234.90" r="2.3" fill="#000"/><circle cx="186.60" cy="232.50" r="2.3" fill="#000"/><circle cx="183.40" cy="258.20" r="2.3" fill="#000"/><circle cx="183.40" cy="263.60" r="2.3" fill="#000"/><line x1="200.45" y1="262.30" x2="200.45" y2="282.00" stroke="#111" stroke-width="0.9"/><line x1="197.85" y1="262.30" x2="203.05" y2="262.30" stroke="#111" stroke-width="0.9"/><line x1="197.85" y1="282.00" x2="203.05" y2="282.00" stroke="#111" stroke-width="0.9"/><circle cx="197.10" cy="248.90" r="2.3" fill="#000"/><circle cx="203.70" cy="251.30" r="2.3" fill="#000"/><circle cx="197.10" cy="254.90" r="2.3" fill="#000"/><circle cx="203.70" cy="257.00" r="2.3" fill="#000"/><circle cx="197.10" cy="287.70" r="2.3" fill="#000"/><circle cx="203.70" cy="287.70" r="2.3" fill="#000"/><circle cx="200.40" cy="318.00" r="2.3" fill="#000"/><line x1="234.65" y1="222.50" x2="234.65" y2="244.20" stroke="#111" stroke-width="0.9"/><line x1="232.05" y1="222.50" x2="237.25" y2="222.50" stroke="#111" stroke-width="0.9"/><line x1="232.05" y1="244.20" x2="237.25" y2="244.20" stroke="#111" stroke-width="0.9"/><circle cx="234.70" cy="222.50" r="2.3" fill="#000"/><circle cx="234.70" cy="244.20" r="2.3" fill="#000"/><line x1="251.80" y1="229.80" x2="251.80" y2="238.60" stroke="#111" stroke-width="0.9"/><line x1="249.20" y1="229.80" x2="254.40" y2="229.80" stroke="#111" stroke-width="0.9"/><line x1="249.20" y1="238.60" x2="254.40" y2="238.60" stroke="#111" stroke-width="0.9"/><circle cx="251.70" cy="224.20" r="2.3" fill="#000"/><circle cx="248.30" cy="231.50" r="2.3" fill="#000"/><circle cx="255.00" cy="231.50" r="2.3" fill="#000"/><circle cx="251.70" cy="248.00" r="2.3" fill="#000"/><line x1="268.95" y1="233.00" x2="268.95" y2="254.00" stroke="#111" stroke-width="0.9"/><line x1="266.35" y1="233.00" x2="271.55" y2="233.00" stroke="#111" stroke-width="0.9"/><line x1="266.35" y1="254.00" x2="271.55" y2="254.00" stroke="#111" stroke-width="0.9"/><circle cx="265.40" cy="220.80" r="2.3" fill="#000"/><circle cx="272.20" cy="225.20" r="2.3" fill="#000"/><circle cx="265.40" cy="225.90" r="2.3" fill="#000"/><circle cx="268.80" cy="233.20" r="2.3" fill="#000"/><circle cx="268.80" cy="240.80" r="2.3" fill="#000"/><circle cx="268.80" cy="254.10" r="2.3" fill="#000"/><circle cx="268.80" cy="302.50" r="2.3" fill="#000"/><line x1="303.15" y1="279.60" x2="303.15" y2="307.90" stroke="#111" stroke-width="0.9"/><line x1="300.55" y1="279.60" x2="305.75" y2="279.60" stroke="#111" stroke-width="0.9"/><line x1="300.55" y1="307.90" x2="305.75" y2="307.90" stroke="#111" stroke-width="0.9"/><circle cx="302.80" cy="279.60" r="2.3" fill="#000"/><circle cx="302.80" cy="307.90" r="2.3" fill="#000"/><line x1="320.30" y1="258.70" x2="320.30" y2="294.30" stroke="#111" stroke-width="0.9"/><line x1="317.70" y1="258.70" x2="322.90" y2="258.70" stroke="#111" stroke-width="0.9"/><line x1="317.70" y1="294.30" x2="322.90" y2="294.30" stroke="#111" stroke-width="0.9"/><circle cx="320.10" cy="227.60" r="2.3" fill="#000"/><circle cx="320.10" cy="272.20" r="2.3" fill="#000"/><circle cx="317.10" cy="305.40" r="2.3" fill="#000"/><circle cx="323.50" cy="301.60" r="2.3" fill="#000"/><line x1="337.45" y1="240.00" x2="337.45" y2="264.30" stroke="#111" stroke-width="0.9"/><line x1="334.85" y1="240.00" x2="340.05" y2="240.00" stroke="#111" stroke-width="0.9"/><line x1="334.85" y1="264.30" x2="340.05" y2="264.30" stroke="#111" stroke-width="0.9"/><circle cx="337.40" cy="223.50" r="2.3" fill="#000"/><circle cx="337.40" cy="230.10" r="2.3" fill="#000"/><circle cx="340.50" cy="238.60" r="2.3" fill="#000"/><circle cx="334.00" cy="242.50" r="2.3" fill="#000"/><circle cx="337.40" cy="281.90" r="2.3" fill="#000"/><circle cx="337.40" cy="296.40" r="2.3" fill="#000"/><line x1="388.80" y1="280.80" x2="388.80" y2="300.90" stroke="#111" stroke-width="0.9"/><line x1="386.20" y1="280.80" x2="391.40" y2="280.80" stroke="#111" stroke-width="0.9"/><line x1="386.20" y1="300.90" x2="391.40" y2="300.90" stroke="#111" stroke-width="0.9"/><circle cx="388.60" cy="264.10" r="2.3" fill="#000"/><circle cx="385.50" cy="291.00" r="2.3" fill="#000"/><circle cx="392.10" cy="294.70" r="2.3" fill="#000"/><circle cx="388.60" cy="314.10" r="2.3" fill="#000"/><line x1="405.95" y1="299.00" x2="405.95" y2="305.00" stroke="#111" stroke-width="0.9"/><line x1="403.35" y1="299.00" x2="408.55" y2="299.00" stroke="#111" stroke-width="0.9"/><line x1="403.35" y1="305.00" x2="408.55" y2="305.00" stroke="#111" stroke-width="0.9"/><circle cx="406.00" cy="288.40" r="2.3" fill="#000"/><circle cx="402.50" cy="300.30" r="2.3" fill="#000"/><circle cx="409.00" cy="300.30" r="2.3" fill="#000"/><circle cx="407.00" cy="304.30" r="2.3" fill="#000"/><circle cx="406.00" cy="318.00" r="2.3" fill="#000"/><line x1="474.45" y1="232.40" x2="474.45" y2="271.00" stroke="#111" stroke-width="0.9"/><line x1="471.85" y1="232.40" x2="477.05" y2="232.40" stroke="#111" stroke-width="0.9"/><line x1="471.85" y1="271.00" x2="477.05" y2="271.00" stroke="#111" stroke-width="0.9"/><circle cx="474.40" cy="226.70" r="2.3" fill="#000"/><circle cx="474.40" cy="239.60" r="2.3" fill="#000"/><circle cx="474.40" cy="289.40" r="2.3" fill="#000"/><line x1="51.2" y1="208.20" x2="51.2" y2="333.20" stroke="#111" stroke-width="1.4"/><line x1="50.5" y1="332.50" x2="485" y2="332.50" stroke="#111" stroke-width="1.4"/><line x1="47.8" y1="332.50" x2="51.2" y2="332.50" stroke="#111" stroke-width="1"/><text x="47.40" y="335.90" font-size="9.6" font-weight="bold" text-anchor="end" fill="#111" >0%</text><line x1="47.8" y1="307.74" x2="51.2" y2="307.74" stroke="#111" stroke-width="1"/><text x="47.40" y="311.14" font-size="9.6" font-weight="bold" text-anchor="end" fill="#111" >20%</text><line x1="47.8" y1="282.98" x2="51.2" y2="282.98" stroke="#111" stroke-width="1"/><text x="47.40" y="286.38" font-size="9.6" font-weight="bold" text-anchor="end" fill="#111" >40%</text><line x1="47.8" y1="258.22" x2="51.2" y2="258.22" stroke="#111" stroke-width="1"/><text x="47.40" y="261.62" font-size="9.6" font-weight="bold" text-anchor="end" fill="#111" >60%</text><line x1="47.8" y1="233.46" x2="51.2" y2="233.46" stroke="#111" stroke-width="1"/><text x="47.40" y="236.86" font-size="9.6" font-weight="bold" text-anchor="end" fill="#111" >80%</text><line x1="47.8" y1="208.70" x2="51.2" y2="208.70" stroke="#111" stroke-width="1"/><text x="47.40" y="212.10" font-size="9.6" font-weight="bold" text-anchor="end" fill="#111" >100%</text><text x="0.00" y="0.00" font-size="11.1" font-weight="bold" text-anchor="middle" fill="#111" transform="translate(22.6,267.90) rotate(-90)">Viral population</text><line x1="63.15" y1="332.50" x2="63.15" y2="336.50" stroke="#111" stroke-width="1.2"/><line x1="97.65" y1="332.50" x2="97.65" y2="336.50" stroke="#111" stroke-width="1.2"/><text x="97.65" y="349.00" font-size="10.8" text-anchor="middle" fill="#222" >D2</text><line x1="114.80" y1="332.50" x2="114.80" y2="336.50" stroke="#111" stroke-width="1.2"/><text x="114.80" y="349.00" font-size="10.8" text-anchor="middle" fill="#222" >D3</text><line x1="131.95" y1="332.50" x2="131.95" y2="336.50" stroke="#111" stroke-width="1.2"/><text x="131.95" y="349.00" font-size="10.8" text-anchor="middle" fill="#222" >D4</text><line x1="166.15" y1="332.50" x2="166.15" y2="336.50" stroke="#111" stroke-width="1.2"/><text x="166.15" y="349.00" font-size="10.8" text-anchor="middle" fill="#222" >D2</text><line x1="183.30" y1="332.50" x2="183.30" y2="336.50" stroke="#111" stroke-width="1.2"/><text x="183.30" y="349.00" font-size="10.8" text-anchor="middle" fill="#222" >D3</text><line x1="200.45" y1="332.50" x2="200.45" y2="336.50" stroke="#111" stroke-width="1.2"/><text x="200.45" y="349.00" font-size="10.8" text-anchor="middle" fill="#222" >D4</text><line x1="234.65" y1="332.50" x2="234.65" y2="336.50" stroke="#111" stroke-width="1.2"/><text x="234.65" y="349.00" font-size="10.8" text-anchor="middle" fill="#222" >D2</text><line x1="251.80" y1="332.50" x2="251.80" y2="336.50" stroke="#111" stroke-width="1.2"/><text x="251.80" y="349.00" font-size="10.8" text-anchor="middle" fill="#222" >D3</text><line x1="268.95" y1="332.50" x2="268.95" y2="336.50" stroke="#111" stroke-width="1.2"/><text x="268.95" y="349.00" font-size="10.8" text-anchor="middle" fill="#222" >D4</text><line x1="303.15" y1="332.50" x2="303.15" y2="336.50" stroke="#111" stroke-width="1.2"/><text x="303.15" y="349.00" font-size="10.8" text-anchor="middle" fill="#222" >D2</text><line x1="320.30" y1="332.50" x2="320.30" y2="336.50" stroke="#111" stroke-width="1.2"/><text x="320.30" y="349.00" font-size="10.8" text-anchor="middle" fill="#222" >D3</text><line x1="337.45" y1="332.50" x2="337.45" y2="336.50" stroke="#111" stroke-width="1.2"/><text x="337.45" y="349.00" font-size="10.8" text-anchor="middle" fill="#222" >D4</text><line x1="371.65" y1="332.50" x2="371.65" y2="336.50" stroke="#111" stroke-width="1.2"/><text x="371.65" y="349.00" font-size="10.8" text-anchor="middle" fill="#222" >D2</text><line x1="388.80" y1="332.50" x2="388.80" y2="336.50" stroke="#111" stroke-width="1.2"/><text x="388.80" y="349.00" font-size="10.8" text-anchor="middle" fill="#222" >D3</text><line x1="405.95" y1="332.50" x2="405.95" y2="336.50" stroke="#111" stroke-width="1.2"/><text x="405.95" y="349.00" font-size="10.8" text-anchor="middle" fill="#222" >D4</text><line x1="440.15" y1="332.50" x2="440.15" y2="336.50" stroke="#111" stroke-width="1.2"/><text x="440.15" y="349.00" font-size="10.8" text-anchor="middle" fill="#222" >D2</text><line x1="457.30" y1="332.50" x2="457.30" y2="336.50" stroke="#111" stroke-width="1.2"/><text x="457.30" y="349.00" font-size="10.8" text-anchor="middle" fill="#222" >D3</text><line x1="474.45" y1="332.50" x2="474.45" y2="336.50" stroke="#111" stroke-width="1.2"/><text x="474.45" y="349.00" font-size="10.8" text-anchor="middle" fill="#222" >D4</text><text x="114.80" y="367.70" font-size="11.7" font-weight="bold" text-anchor="middle" fill="#111" >Eye</text><text x="183.30" y="367.70" font-size="11.7" font-weight="bold" text-anchor="middle" fill="#111" >TG</text><text x="251.80" y="367.70" font-size="11.7" font-weight="bold" text-anchor="middle" fill="#111" >Brain stem</text><text x="320.30" y="367.70" font-size="11.7" font-weight="bold" text-anchor="middle" fill="#111" >Interbrain</text><text x="388.80" y="367.70" font-size="11.7" font-weight="bold" text-anchor="middle" fill="#111" >Cortex</text><text x="457.30" y="367.70" font-size="11.7" font-weight="bold" text-anchor="middle" fill="#111" >Cerebellum</text><text x="0.00" y="0.00" font-size="10.5" text-anchor="end" fill="#222" transform="translate(69.70,347.60) rotate(-45)">Injected</text><text x="0.00" y="0.00" font-size="10.5" text-anchor="end" fill="#222" transform="translate(70.50,365.50) rotate(-45)">at D0</text><rect x="503" y="209.50" width="17.6" height="9.2" fill="#e4e4e4" stroke="#444" stroke-width="0.7"/><text x="526.00" y="218.10" font-size="11.3" text-anchor="start" fill="#222" >WT</text><rect x="503" y="227.35" width="17.6" height="9.2" fill="#e0524b" stroke="#444" stroke-width="0.7"/><text x="526.00" y="235.95" font-size="11.3" text-anchor="start" fill="#222" >Gene drive</text><rect x="503" y="245.20" width="17.6" height="9.2" fill="#fff" stroke="#444" stroke-width="0.7"/><text x="526.00" y="253.80" font-size="11.3" text-anchor="start" fill="#222" >Not enough data</text><rect x="57.50" y="406.20" width="11.3" height="123.20" fill="#ffe100" stroke="#333" stroke-width="0.8"/><rect x="57.50" y="511.66" width="11.3" height="17.74" fill="#b64ed9" stroke="#333" stroke-width="0.8"/><rect x="92.00" y="406.20" width="11.3" height="123.20" fill="#ffe100" stroke="#333" stroke-width="0.8"/><rect x="92.00" y="483.45" width="11.3" height="8.99" fill="#ff8b00" stroke="#333" stroke-width="0.8"/><rect x="92.00" y="492.44" width="11.3" height="30.80" fill="#b64ed9" stroke="#333" stroke-width="0.8"/><rect x="92.00" y="523.24" width="11.3" height="6.16" fill="#74d1f1" stroke="#333" stroke-width="0.8"/><line x1="97.65" y1="519.54" x2="97.65" y2="526.94" stroke="#111" stroke-width="0.8"/><line x1="95.25" y1="519.54" x2="100.05" y2="519.54" stroke="#111" stroke-width="0.8"/><line x1="95.25" y1="526.94" x2="100.05" y2="526.94" stroke="#111" stroke-width="0.8"/><line x1="97.65" y1="490.59" x2="97.65" y2="494.29" stroke="#111" stroke-width="0.8"/><line x1="95.25" y1="490.59" x2="100.05" y2="490.59" stroke="#111" stroke-width="0.8"/><line x1="95.25" y1="494.29" x2="100.05" y2="494.29" stroke="#111" stroke-width="0.8"/><line x1="97.65" y1="482.46" x2="97.65" y2="484.43" stroke="#111" stroke-width="0.8"/><line x1="95.25" y1="482.46" x2="100.05" y2="482.46" stroke="#111" stroke-width="0.8"/><line x1="95.25" y1="484.43" x2="100.05" y2="484.43" stroke="#111" stroke-width="0.8"/><line x1="97.65" y1="406.20" x2="97.65" y2="410.51" stroke="#111" stroke-width="0.8"/><line x1="95.25" y1="406.20" x2="100.05" y2="406.20" stroke="#111" stroke-width="0.8"/><line x1="95.25" y1="410.51" x2="100.05" y2="410.51" stroke="#111" stroke-width="0.8"/><rect x="109.15" y="406.20" width="11.3" height="123.20" fill="#ffe100" stroke="#333" stroke-width="0.8"/><rect x="109.15" y="482.58" width="11.3" height="9.86" fill="#ff8b00" stroke="#333" stroke-width="0.8"/><rect x="109.15" y="492.44" width="11.3" height="31.05" fill="#b64ed9" stroke="#333" stroke-width="0.8"/><rect x="109.15" y="523.49" width="11.3" height="5.91" fill="#74d1f1" stroke="#333" stroke-width="0.8"/><line x1="114.80" y1="522.62" x2="114.80" y2="524.35" stroke="#111" stroke-width="0.8"/><line x1="112.40" y1="522.62" x2="117.20" y2="522.62" stroke="#111" stroke-width="0.8"/><line x1="112.40" y1="524.35" x2="117.20" y2="524.35" stroke="#111" stroke-width="0.8"/><line x1="114.80" y1="489.36" x2="114.80" y2="495.52" stroke="#111" stroke-width="0.8"/><line x1="112.40" y1="489.36" x2="117.20" y2="489.36" stroke="#111" stroke-width="0.8"/><line x1="112.40" y1="495.52" x2="117.20" y2="495.52" stroke="#111" stroke-width="0.8"/><line x1="114.80" y1="480.12" x2="114.80" y2="485.05" stroke="#111" stroke-width="0.8"/><line x1="112.40" y1="480.12" x2="117.20" y2="480.12" stroke="#111" stroke-width="0.8"/><line x1="112.40" y1="485.05" x2="117.20" y2="485.05" stroke="#111" stroke-width="0.8"/><line x1="114.80" y1="406.20" x2="114.80" y2="409.28" stroke="#111" stroke-width="0.8"/><line x1="112.40" y1="406.20" x2="117.20" y2="406.20" stroke="#111" stroke-width="0.8"/><line x1="112.40" y1="409.28" x2="117.20" y2="409.28" stroke="#111" stroke-width="0.8"/><rect x="126.30" y="406.20" width="11.3" height="123.20" fill="#ffe100" stroke="#333" stroke-width="0.8"/><rect x="126.30" y="485.05" width="11.3" height="10.47" fill="#ff8b00" stroke="#333" stroke-width="0.8"/><rect x="126.30" y="495.52" width="11.3" height="25.63" fill="#b64ed9" stroke="#333" stroke-width="0.8"/><rect x="126.30" y="521.15" width="11.3" height="8.25" fill="#74d1f1" stroke="#333" stroke-width="0.8"/><line x1="131.95" y1="519.30" x2="131.95" y2="522.99" stroke="#111" stroke-width="0.8"/><line x1="129.55" y1="519.30" x2="134.35" y2="519.30" stroke="#111" stroke-width="0.8"/><line x1="129.55" y1="522.99" x2="134.35" y2="522.99" stroke="#111" stroke-width="0.8"/><line x1="131.95" y1="492.44" x2="131.95" y2="498.60" stroke="#111" stroke-width="0.8"/><line x1="129.55" y1="492.44" x2="134.35" y2="492.44" stroke="#111" stroke-width="0.8"/><line x1="129.55" y1="498.60" x2="134.35" y2="498.60" stroke="#111" stroke-width="0.8"/><line x1="131.95" y1="483.20" x2="131.95" y2="486.90" stroke="#111" stroke-width="0.8"/><line x1="129.55" y1="483.20" x2="134.35" y2="483.20" stroke="#111" stroke-width="0.8"/><line x1="129.55" y1="486.90" x2="134.35" y2="486.90" stroke="#111" stroke-width="0.8"/><line x1="131.95" y1="406.20" x2="131.95" y2="411.13" stroke="#111" stroke-width="0.8"/><line x1="129.55" y1="406.20" x2="134.35" y2="406.20" stroke="#111" stroke-width="0.8"/><line x1="129.55" y1="411.13" x2="134.35" y2="411.13" stroke="#111" stroke-width="0.8"/><rect x="160.50" y="406.20" width="11.3" height="123.20" fill="#ffe100" stroke="#333" stroke-width="0.8"/><rect x="160.50" y="457.33" width="11.3" height="33.63" fill="#ff8b00" stroke="#333" stroke-width="0.8"/><rect x="160.50" y="490.96" width="11.3" height="28.09" fill="#b64ed9" stroke="#333" stroke-width="0.8"/><rect x="160.50" y="519.05" width="11.3" height="10.35" fill="#74d1f1" stroke="#333" stroke-width="0.8"/><line x1="166.15" y1="515.36" x2="166.15" y2="522.75" stroke="#111" stroke-width="0.8"/><line x1="163.75" y1="515.36" x2="168.55" y2="515.36" stroke="#111" stroke-width="0.8"/><line x1="163.75" y1="522.75" x2="168.55" y2="522.75" stroke="#111" stroke-width="0.8"/><line x1="166.15" y1="487.27" x2="166.15" y2="494.66" stroke="#111" stroke-width="0.8"/><line x1="163.75" y1="487.27" x2="168.55" y2="487.27" stroke="#111" stroke-width="0.8"/><line x1="163.75" y1="494.66" x2="168.55" y2="494.66" stroke="#111" stroke-width="0.8"/><line x1="166.15" y1="451.17" x2="166.15" y2="463.49" stroke="#111" stroke-width="0.8"/><line x1="163.75" y1="451.17" x2="168.55" y2="451.17" stroke="#111" stroke-width="0.8"/><line x1="163.75" y1="463.49" x2="168.55" y2="463.49" stroke="#111" stroke-width="0.8"/><line x1="166.15" y1="406.20" x2="166.15" y2="416.06" stroke="#111" stroke-width="0.8"/><line x1="163.75" y1="406.20" x2="168.55" y2="406.20" stroke="#111" stroke-width="0.8"/><line x1="163.75" y1="416.06" x2="168.55" y2="416.06" stroke="#111" stroke-width="0.8"/><rect x="177.65" y="406.20" width="11.3" height="123.20" fill="#ffe100" stroke="#333" stroke-width="0.8"/><rect x="177.65" y="434.17" width="11.3" height="52.11" fill="#ff8b00" stroke="#333" stroke-width="0.8"/><rect x="177.65" y="486.28" width="11.3" height="32.77" fill="#b64ed9" stroke="#333" stroke-width="0.8"/><rect x="177.65" y="519.05" width="11.3" height="10.35" fill="#74d1f1" stroke="#333" stroke-width="0.8"/><line x1="183.30" y1="517.20" x2="183.30" y2="520.90" stroke="#111" stroke-width="0.8"/><line x1="180.90" y1="517.20" x2="185.70" y2="517.20" stroke="#111" stroke-width="0.8"/><line x1="180.90" y1="520.90" x2="185.70" y2="520.90" stroke="#111" stroke-width="0.8"/><line x1="183.30" y1="480.12" x2="183.30" y2="492.44" stroke="#111" stroke-width="0.8"/><line x1="180.90" y1="480.12" x2="185.70" y2="480.12" stroke="#111" stroke-width="0.8"/><line x1="180.90" y1="492.44" x2="185.70" y2="492.44" stroke="#111" stroke-width="0.8"/><line x1="183.30" y1="430.47" x2="183.30" y2="437.86" stroke="#111" stroke-width="0.8"/><line x1="180.90" y1="430.47" x2="185.70" y2="430.47" stroke="#111" stroke-width="0.8"/><line x1="180.90" y1="437.86" x2="185.70" y2="437.86" stroke="#111" stroke-width="0.8"/><line x1="183.30" y1="406.20" x2="183.30" y2="409.28" stroke="#111" stroke-width="0.8"/><line x1="180.90" y1="406.20" x2="185.70" y2="406.20" stroke="#111" stroke-width="0.8"/><line x1="180.90" y1="409.28" x2="185.70" y2="409.28" stroke="#111" stroke-width="0.8"/><rect x="194.80" y="406.20" width="11.3" height="123.20" fill="#ffe100" stroke="#333" stroke-width="0.8"/><rect x="194.80" y="458.44" width="11.3" height="39.79" fill="#ff8b00" stroke="#333" stroke-width="0.8"/><rect x="194.80" y="498.23" width="11.3" height="20.08" fill="#b64ed9" stroke="#333" stroke-width="0.8"/><rect x="194.80" y="518.31" width="11.3" height="11.09" fill="#74d1f1" stroke="#333" stroke-width="0.8"/><line x1="200.45" y1="515.85" x2="200.45" y2="520.78" stroke="#111" stroke-width="0.8"/><line x1="198.05" y1="515.85" x2="202.85" y2="515.85" stroke="#111" stroke-width="0.8"/><line x1="198.05" y1="520.78" x2="202.85" y2="520.78" stroke="#111" stroke-width="0.8"/><line x1="200.45" y1="495.15" x2="200.45" y2="501.31" stroke="#111" stroke-width="0.8"/><line x1="198.05" y1="495.15" x2="202.85" y2="495.15" stroke="#111" stroke-width="0.8"/><line x1="198.05" y1="501.31" x2="202.85" y2="501.31" stroke="#111" stroke-width="0.8"/><line x1="200.45" y1="451.04" x2="200.45" y2="465.83" stroke="#111" stroke-width="0.8"/><line x1="198.05" y1="451.04" x2="202.85" y2="451.04" stroke="#111" stroke-width="0.8"/><line x1="198.05" y1="465.83" x2="202.85" y2="465.83" stroke="#111" stroke-width="0.8"/><line x1="200.45" y1="406.20" x2="200.45" y2="410.51" stroke="#111" stroke-width="0.8"/><line x1="198.05" y1="406.20" x2="202.85" y2="406.20" stroke="#111" stroke-width="0.8"/><line x1="198.05" y1="410.51" x2="202.85" y2="410.51" stroke="#111" stroke-width="0.8"/><rect x="229.00" y="406.20" width="11.3" height="123.20" fill="#ffe100" stroke="#333" stroke-width="0.8"/><rect x="229.00" y="426.28" width="11.3" height="54.21" fill="#ff8b00" stroke="#333" stroke-width="0.8"/><rect x="229.00" y="480.49" width="11.3" height="44.84" fill="#b64ed9" stroke="#333" stroke-width="0.8"/><rect x="229.00" y="525.33" width="11.3" height="4.07" fill="#74d1f1" stroke="#333" stroke-width="0.8"/><line x1="234.65" y1="476.79" x2="234.65" y2="484.19" stroke="#111" stroke-width="0.8"/><line x1="232.25" y1="476.79" x2="237.05" y2="476.79" stroke="#111" stroke-width="0.8"/><line x1="232.25" y1="484.19" x2="237.05" y2="484.19" stroke="#111" stroke-width="0.8"/><line x1="234.65" y1="416.43" x2="234.65" y2="436.14" stroke="#111" stroke-width="0.8"/><line x1="232.25" y1="416.43" x2="237.05" y2="416.43" stroke="#111" stroke-width="0.8"/><line x1="232.25" y1="436.14" x2="237.05" y2="436.14" stroke="#111" stroke-width="0.8"/><line x1="234.65" y1="406.20" x2="234.65" y2="416.06" stroke="#111" stroke-width="0.8"/><line x1="232.25" y1="406.20" x2="237.05" y2="406.20" stroke="#111" stroke-width="0.8"/><line x1="232.25" y1="416.06" x2="237.05" y2="416.06" stroke="#111" stroke-width="0.8"/><rect x="246.15" y="406.20" width="11.3" height="123.20" fill="#ffe100" stroke="#333" stroke-width="0.8"/><rect x="246.15" y="424.19" width="11.3" height="64.56" fill="#ff8b00" stroke="#333" stroke-width="0.8"/><rect x="246.15" y="488.74" width="11.3" height="34.50" fill="#b64ed9" stroke="#333" stroke-width="0.8"/><rect x="246.15" y="523.24" width="11.3" height="6.16" fill="#74d1f1" stroke="#333" stroke-width="0.8"/><line x1="251.80" y1="522.01" x2="251.80" y2="524.47" stroke="#111" stroke-width="0.8"/><line x1="249.40" y1="522.01" x2="254.20" y2="522.01" stroke="#111" stroke-width="0.8"/><line x1="249.40" y1="524.47" x2="254.20" y2="524.47" stroke="#111" stroke-width="0.8"/><line x1="251.80" y1="485.05" x2="251.80" y2="492.44" stroke="#111" stroke-width="0.8"/><line x1="249.40" y1="485.05" x2="254.20" y2="485.05" stroke="#111" stroke-width="0.8"/><line x1="249.40" y1="492.44" x2="254.20" y2="492.44" stroke="#111" stroke-width="0.8"/><line x1="251.80" y1="422.96" x2="251.80" y2="425.42" stroke="#111" stroke-width="0.8"/><line x1="249.40" y1="422.96" x2="254.20" y2="422.96" stroke="#111" stroke-width="0.8"/><line x1="249.40" y1="425.42" x2="254.20" y2="425.42" stroke="#111" stroke-width="0.8"/><line x1="251.80" y1="406.20" x2="251.80" y2="409.90" stroke="#111" stroke-width="0.8"/><line x1="249.40" y1="406.20" x2="254.20" y2="406.20" stroke="#111" stroke-width="0.8"/><line x1="249.40" y1="409.90" x2="254.20" y2="409.90" stroke="#111" stroke-width="0.8"/><rect x="263.30" y="406.20" width="11.3" height="123.20" fill="#ffe100" stroke="#333" stroke-width="0.8"/><rect x="263.30" y="431.46" width="11.3" height="56.06" fill="#ff8b00" stroke="#333" stroke-width="0.8"/><rect x="263.30" y="487.51" width="11.3" height="32.89" fill="#b64ed9" stroke="#333" stroke-width="0.8"/><rect x="263.30" y="520.41" width="11.3" height="8.99" fill="#74d1f1" stroke="#333" stroke-width="0.8"/><line x1="268.95" y1="514.25" x2="268.95" y2="526.57" stroke="#111" stroke-width="0.8"/><line x1="266.55" y1="514.25" x2="271.35" y2="514.25" stroke="#111" stroke-width="0.8"/><line x1="266.55" y1="526.57" x2="271.35" y2="526.57" stroke="#111" stroke-width="0.8"/><line x1="268.95" y1="485.05" x2="268.95" y2="489.98" stroke="#111" stroke-width="0.8"/><line x1="266.55" y1="485.05" x2="271.35" y2="485.05" stroke="#111" stroke-width="0.8"/><line x1="266.55" y1="489.98" x2="271.35" y2="489.98" stroke="#111" stroke-width="0.8"/><line x1="268.95" y1="424.06" x2="268.95" y2="438.85" stroke="#111" stroke-width="0.8"/><line x1="266.55" y1="424.06" x2="271.35" y2="424.06" stroke="#111" stroke-width="0.8"/><line x1="266.55" y1="438.85" x2="271.35" y2="438.85" stroke="#111" stroke-width="0.8"/><line x1="268.95" y1="406.20" x2="268.95" y2="409.90" stroke="#111" stroke-width="0.8"/><line x1="266.55" y1="406.20" x2="271.35" y2="406.20" stroke="#111" stroke-width="0.8"/><line x1="266.55" y1="409.90" x2="271.35" y2="409.90" stroke="#111" stroke-width="0.8"/><rect x="297.50" y="406.20" width="11.3" height="123.20" fill="#ffe100" stroke="#333" stroke-width="0.8"/><rect x="297.50" y="473.34" width="11.3" height="21.19" fill="#ff8b00" stroke="#333" stroke-width="0.8"/><rect x="297.50" y="494.53" width="11.3" height="34.87" fill="#b64ed9" stroke="#333" stroke-width="0.8"/><line x1="303.15" y1="470.88" x2="303.15" y2="475.81" stroke="#111" stroke-width="0.8"/><line x1="300.75" y1="470.88" x2="305.55" y2="470.88" stroke="#111" stroke-width="0.8"/><line x1="300.75" y1="475.81" x2="305.55" y2="475.81" stroke="#111" stroke-width="0.8"/><rect x="314.65" y="406.20" width="11.3" height="123.20" fill="#ffe100" stroke="#333" stroke-width="0.8"/><rect x="314.65" y="458.44" width="11.3" height="27.47" fill="#ff8b00" stroke="#333" stroke-width="0.8"/><rect x="314.65" y="485.91" width="11.3" height="28.71" fill="#b64ed9" stroke="#333" stroke-width="0.8"/><rect x="314.65" y="514.62" width="11.3" height="14.78" fill="#74d1f1" stroke="#333" stroke-width="0.8"/><line x1="320.30" y1="509.69" x2="320.30" y2="519.54" stroke="#111" stroke-width="0.8"/><line x1="317.90" y1="509.69" x2="322.70" y2="509.69" stroke="#111" stroke-width="0.8"/><line x1="317.90" y1="519.54" x2="322.70" y2="519.54" stroke="#111" stroke-width="0.8"/><line x1="320.30" y1="469.89" x2="320.30" y2="501.93" stroke="#111" stroke-width="0.8"/><line x1="317.90" y1="469.89" x2="322.70" y2="469.89" stroke="#111" stroke-width="0.8"/><line x1="317.90" y1="501.93" x2="322.70" y2="501.93" stroke="#111" stroke-width="0.8"/><line x1="320.30" y1="453.51" x2="320.30" y2="463.36" stroke="#111" stroke-width="0.8"/><line x1="317.90" y1="453.51" x2="322.70" y2="453.51" stroke="#111" stroke-width="0.8"/><line x1="317.90" y1="463.36" x2="322.70" y2="463.36" stroke="#111" stroke-width="0.8"/><line x1="320.30" y1="406.20" x2="320.30" y2="427.14" stroke="#111" stroke-width="0.8"/><line x1="317.90" y1="406.20" x2="322.70" y2="406.20" stroke="#111" stroke-width="0.8"/><line x1="317.90" y1="427.14" x2="322.70" y2="427.14" stroke="#111" stroke-width="0.8"/><rect x="331.80" y="406.20" width="11.3" height="123.20" fill="#ffe100" stroke="#333" stroke-width="0.8"/><rect x="331.80" y="445.62" width="11.3" height="46.45" fill="#ff8b00" stroke="#333" stroke-width="0.8"/><rect x="331.80" y="492.07" width="11.3" height="34.00" fill="#b64ed9" stroke="#333" stroke-width="0.8"/><rect x="331.80" y="526.07" width="11.3" height="3.33" fill="#74d1f1" stroke="#333" stroke-width="0.8"/><line x1="337.45" y1="525.46" x2="337.45" y2="526.69" stroke="#111" stroke-width="0.8"/><line x1="335.05" y1="525.46" x2="339.85" y2="525.46" stroke="#111" stroke-width="0.8"/><line x1="335.05" y1="526.69" x2="339.85" y2="526.69" stroke="#111" stroke-width="0.8"/><line x1="337.45" y1="482.21" x2="337.45" y2="501.93" stroke="#111" stroke-width="0.8"/><line x1="335.05" y1="482.21" x2="339.85" y2="482.21" stroke="#111" stroke-width="0.8"/><line x1="335.05" y1="501.93" x2="339.85" y2="501.93" stroke="#111" stroke-width="0.8"/><line x1="337.45" y1="433.30" x2="337.45" y2="457.94" stroke="#111" stroke-width="0.8"/><line x1="335.05" y1="433.30" x2="339.85" y2="433.30" stroke="#111" stroke-width="0.8"/><line x1="335.05" y1="457.94" x2="339.85" y2="457.94" stroke="#111" stroke-width="0.8"/><line x1="337.45" y1="406.20" x2="337.45" y2="417.29" stroke="#111" stroke-width="0.8"/><line x1="335.05" y1="406.20" x2="339.85" y2="406.20" stroke="#111" stroke-width="0.8"/><line x1="335.05" y1="417.29" x2="339.85" y2="417.29" stroke="#111" stroke-width="0.8"/><rect x="366.00" y="406.20" width="11.3" height="123.20" fill="#fff" stroke="#333" stroke-width="0.8"/><rect x="383.15" y="406.20" width="11.3" height="123.20" fill="#ffe100" stroke="#333" stroke-width="0.8"/><rect x="383.15" y="484.56" width="11.3" height="12.94" fill="#ff8b00" stroke="#333" stroke-width="0.8"/><rect x="383.15" y="497.49" width="11.3" height="29.32" fill="#b64ed9" stroke="#333" stroke-width="0.8"/><rect x="383.15" y="526.81" width="11.3" height="2.59" fill="#74d1f1" stroke="#333" stroke-width="0.8"/><line x1="388.80" y1="524.35" x2="388.80" y2="529.28" stroke="#111" stroke-width="0.8"/><line x1="386.40" y1="524.35" x2="391.20" y2="524.35" stroke="#111" stroke-width="0.8"/><line x1="386.40" y1="529.28" x2="391.20" y2="529.28" stroke="#111" stroke-width="0.8"/><line x1="388.80" y1="485.17" x2="388.80" y2="509.81" stroke="#111" stroke-width="0.8"/><line x1="386.40" y1="485.17" x2="391.20" y2="485.17" stroke="#111" stroke-width="0.8"/><line x1="386.40" y1="509.81" x2="391.20" y2="509.81" stroke="#111" stroke-width="0.8"/><line x1="388.80" y1="480.86" x2="388.80" y2="488.25" stroke="#111" stroke-width="0.8"/><line x1="386.40" y1="480.86" x2="391.20" y2="480.86" stroke="#111" stroke-width="0.8"/><line x1="386.40" y1="488.25" x2="391.20" y2="488.25" stroke="#111" stroke-width="0.8"/><line x1="388.80" y1="406.20" x2="388.80" y2="412.36" stroke="#111" stroke-width="0.8"/><line x1="386.40" y1="406.20" x2="391.20" y2="406.20" stroke="#111" stroke-width="0.8"/><line x1="386.40" y1="412.36" x2="391.20" y2="412.36" stroke="#111" stroke-width="0.8"/><rect x="400.30" y="406.20" width="11.3" height="123.20" fill="#ffe100" stroke="#333" stroke-width="0.8"/><rect x="400.30" y="490.84" width="11.3" height="8.62" fill="#ff8b00" stroke="#333" stroke-width="0.8"/><rect x="400.30" y="499.46" width="11.3" height="21.93" fill="#b64ed9" stroke="#333" stroke-width="0.8"/><rect x="400.30" y="521.39" width="11.3" height="8.01" fill="#74d1f1" stroke="#333" stroke-width="0.8"/><line x1="405.95" y1="520.16" x2="405.95" y2="522.62" stroke="#111" stroke-width="0.8"/><line x1="403.55" y1="520.16" x2="408.35" y2="520.16" stroke="#111" stroke-width="0.8"/><line x1="403.55" y1="522.62" x2="408.35" y2="522.62" stroke="#111" stroke-width="0.8"/><line x1="405.95" y1="497.00" x2="405.95" y2="501.93" stroke="#111" stroke-width="0.8"/><line x1="403.55" y1="497.00" x2="408.35" y2="497.00" stroke="#111" stroke-width="0.8"/><line x1="403.55" y1="501.93" x2="408.35" y2="501.93" stroke="#111" stroke-width="0.8"/><line x1="405.95" y1="488.99" x2="405.95" y2="492.69" stroke="#111" stroke-width="0.8"/><line x1="403.55" y1="488.99" x2="408.35" y2="488.99" stroke="#111" stroke-width="0.8"/><line x1="403.55" y1="492.69" x2="408.35" y2="492.69" stroke="#111" stroke-width="0.8"/><line x1="405.95" y1="406.20" x2="405.95" y2="408.05" stroke="#111" stroke-width="0.8"/><line x1="403.55" y1="406.20" x2="408.35" y2="406.20" stroke="#111" stroke-width="0.8"/><line x1="403.55" y1="408.05" x2="408.35" y2="408.05" stroke="#111" stroke-width="0.8"/><rect x="434.50" y="406.20" width="11.3" height="123.20" fill="#fff" stroke="#333" stroke-width="0.8"/><rect x="451.65" y="406.20" width="11.3" height="123.20" fill="#fff" stroke="#333" stroke-width="0.8"/><rect x="468.80" y="406.20" width="11.3" height="123.20" fill="#ffe100" stroke="#333" stroke-width="0.8"/><rect x="468.80" y="436.63" width="11.3" height="35.73" fill="#ff8b00" stroke="#333" stroke-width="0.8"/><rect x="468.80" y="472.36" width="11.3" height="45.34" fill="#b64ed9" stroke="#333" stroke-width="0.8"/><rect x="468.80" y="517.70" width="11.3" height="11.70" fill="#74d1f1" stroke="#333" stroke-width="0.8"/><line x1="474.45" y1="514.00" x2="474.45" y2="521.39" stroke="#111" stroke-width="0.8"/><line x1="472.05" y1="514.00" x2="476.85" y2="514.00" stroke="#111" stroke-width="0.8"/><line x1="472.05" y1="521.39" x2="476.85" y2="521.39" stroke="#111" stroke-width="0.8"/><line x1="474.45" y1="462.50" x2="474.45" y2="482.21" stroke="#111" stroke-width="0.8"/><line x1="472.05" y1="462.50" x2="476.85" y2="462.50" stroke="#111" stroke-width="0.8"/><line x1="472.05" y1="482.21" x2="476.85" y2="482.21" stroke="#111" stroke-width="0.8"/><line x1="474.45" y1="429.24" x2="474.45" y2="444.02" stroke="#111" stroke-width="0.8"/><line x1="472.05" y1="429.24" x2="476.85" y2="429.24" stroke="#111" stroke-width="0.8"/><line x1="472.05" y1="444.02" x2="476.85" y2="444.02" stroke="#111" stroke-width="0.8"/><line x1="474.45" y1="406.20" x2="474.45" y2="435.77" stroke="#111" stroke-width="0.8"/><line x1="472.05" y1="406.20" x2="476.85" y2="406.20" stroke="#111" stroke-width="0.8"/><line x1="472.05" y1="435.77" x2="476.85" y2="435.77" stroke="#111" stroke-width="0.8"/><line x1="51.2" y1="405.70" x2="51.2" y2="530.10" stroke="#111" stroke-width="1.4"/><line x1="50.5" y1="529.40" x2="485" y2="529.40" stroke="#111" stroke-width="1.4"/><line x1="47.8" y1="529.40" x2="51.2" y2="529.40" stroke="#111" stroke-width="1"/><text x="47.40" y="532.80" font-size="9.6" font-weight="bold" text-anchor="end" fill="#111" >0%</text><line x1="47.8" y1="504.76" x2="51.2" y2="504.76" stroke="#111" stroke-width="1"/><text x="47.40" y="508.16" font-size="9.6" font-weight="bold" text-anchor="end" fill="#111" >20%</text><line x1="47.8" y1="480.12" x2="51.2" y2="480.12" stroke="#111" stroke-width="1"/><text x="47.40" y="483.52" font-size="9.6" font-weight="bold" text-anchor="end" fill="#111" >40%</text><line x1="47.8" y1="455.48" x2="51.2" y2="455.48" stroke="#111" stroke-width="1"/><text x="47.40" y="458.88" font-size="9.6" font-weight="bold" text-anchor="end" fill="#111" >60%</text><line x1="47.8" y1="430.84" x2="51.2" y2="430.84" stroke="#111" stroke-width="1"/><text x="47.40" y="434.24" font-size="9.6" font-weight="bold" text-anchor="end" fill="#111" >80%</text><line x1="47.8" y1="406.20" x2="51.2" y2="406.20" stroke="#111" stroke-width="1"/><text x="47.40" y="409.60" font-size="9.6" font-weight="bold" text-anchor="end" fill="#111" >100%</text><text x="0.00" y="0.00" font-size="11.1" font-weight="bold" text-anchor="middle" fill="#111" transform="translate(22.6,465.10) rotate(-90)">Viral population</text><line x1="63.15" y1="529.40" x2="63.15" y2="533.40" stroke="#111" stroke-width="1.2"/><line x1="97.65" y1="529.40" x2="97.65" y2="533.40" stroke="#111" stroke-width="1.2"/><text x="96.35" y="545.10" font-size="9.9" text-anchor="middle" fill="#222" >D2</text><line x1="114.80" y1="529.40" x2="114.80" y2="533.40" stroke="#111" stroke-width="1.2"/><text x="113.50" y="545.10" font-size="9.9" text-anchor="middle" fill="#222" >D3</text><line x1="131.95" y1="529.40" x2="131.95" y2="533.40" stroke="#111" stroke-width="1.2"/><text x="130.65" y="545.10" font-size="9.9" text-anchor="middle" fill="#222" >D4</text><line x1="166.15" y1="529.40" x2="166.15" y2="533.40" stroke="#111" stroke-width="1.2"/><text x="164.85" y="545.10" font-size="9.9" text-anchor="middle" fill="#222" >D2</text><line x1="183.30" y1="529.40" x2="183.30" y2="533.40" stroke="#111" stroke-width="1.2"/><text x="182.00" y="545.10" font-size="9.9" text-anchor="middle" fill="#222" >D3</text><line x1="200.45" y1="529.40" x2="200.45" y2="533.40" stroke="#111" stroke-width="1.2"/><text x="199.15" y="545.10" font-size="9.9" text-anchor="middle" fill="#222" >D4</text><line x1="234.65" y1="529.40" x2="234.65" y2="533.40" stroke="#111" stroke-width="1.2"/><text x="233.35" y="545.10" font-size="9.9" text-anchor="middle" fill="#222" >D2</text><line x1="251.80" y1="529.40" x2="251.80" y2="533.40" stroke="#111" stroke-width="1.2"/><text x="250.50" y="545.10" font-size="9.9" text-anchor="middle" fill="#222" >D3</text><line x1="268.95" y1="529.40" x2="268.95" y2="533.40" stroke="#111" stroke-width="1.2"/><text x="267.65" y="545.10" font-size="9.9" text-anchor="middle" fill="#222" >D4</text><line x1="303.15" y1="529.40" x2="303.15" y2="533.40" stroke="#111" stroke-width="1.2"/><text x="301.85" y="545.10" font-size="9.9" text-anchor="middle" fill="#222" >D2</text><line x1="320.30" y1="529.40" x2="320.30" y2="533.40" stroke="#111" stroke-width="1.2"/><text x="319.00" y="545.10" font-size="9.9" text-anchor="middle" fill="#222" >D3</text><line x1="337.45" y1="529.40" x2="337.45" y2="533.40" stroke="#111" stroke-width="1.2"/><text x="336.15" y="545.10" font-size="9.9" text-anchor="middle" fill="#222" >D4</text><line x1="371.65" y1="529.40" x2="371.65" y2="533.40" stroke="#111" stroke-width="1.2"/><text x="370.35" y="545.10" font-size="9.9" text-anchor="middle" fill="#222" >D2</text><line x1="388.80" y1="529.40" x2="388.80" y2="533.40" stroke="#111" stroke-width="1.2"/><text x="387.50" y="545.10" font-size="9.9" text-anchor="middle" fill="#222" >D3</text><line x1="405.95" y1="529.40" x2="405.95" y2="533.40" stroke="#111" stroke-width="1.2"/><text x="404.65" y="545.10" font-size="9.9" text-anchor="middle" fill="#222" >D4</text><line x1="440.15" y1="529.40" x2="440.15" y2="533.40" stroke="#111" stroke-width="1.2"/><text x="438.85" y="545.10" font-size="9.9" text-anchor="middle" fill="#222" >D2</text><line x1="457.30" y1="529.40" x2="457.30" y2="533.40" stroke="#111" stroke-width="1.2"/><text x="456.00" y="545.10" font-size="9.9" text-anchor="middle" fill="#222" >D3</text><line x1="474.45" y1="529.40" x2="474.45" y2="533.40" stroke="#111" stroke-width="1.2"/><text x="473.15" y="545.10" font-size="9.9" text-anchor="middle" fill="#222" >D4</text><text x="113.30" y="564.60" font-size="11.7" font-weight="bold" text-anchor="middle" fill="#111" >Eye</text><text x="181.80" y="564.60" font-size="11.7" font-weight="bold" text-anchor="middle" fill="#111" >TG</text><text x="250.30" y="564.60" font-size="11.7" font-weight="bold" text-anchor="middle" fill="#111" >Brain stem</text><text x="318.80" y="564.60" font-size="11.7" font-weight="bold" text-anchor="middle" fill="#111" >Interbrain</text><text x="387.30" y="564.60" font-size="11.7" font-weight="bold" text-anchor="middle" fill="#111" >Cortex</text><text x="455.80" y="564.60" font-size="11.7" font-weight="bold" text-anchor="middle" fill="#111" >Cerebellum</text><text x="0.00" y="0.00" font-size="10.5" text-anchor="end" fill="#222" transform="translate(68.00,544.40) rotate(-45)">Injected</text><text x="0.00" y="0.00" font-size="10.5" text-anchor="end" fill="#222" transform="translate(69.00,562.70) rotate(-45)">at D0</text><text x="501.30" y="415.60" font-size="11.0" font-weight="bold" text-anchor="start" fill="#222" >Virus expressing:</text><rect x="503" y="425.20" width="17.6" height="9.3" fill="#ffe100" stroke="#333" stroke-width="0.7"/><text x="526.00" y="432.80" font-size="11.3" text-anchor="start" fill="#222" >YFP only</text><rect x="503" y="444.20" width="17.6" height="9.3" fill="#74d1f1" stroke="#333" stroke-width="0.7"/><text x="526.00" y="451.80" font-size="11.3" text-anchor="start" fill="#222" >CFP only</text><rect x="503" y="463.20" width="17.6" height="9.3" fill="#ff8b00" stroke="#333" stroke-width="0.7"/><text x="526.00" y="470.80" font-size="11.3" text-anchor="start" fill="#222" >YFP and mCherry</text><rect x="503" y="482.20" width="17.6" height="9.3" fill="#b64ed9" stroke="#333" stroke-width="0.7"/><text x="526.00" y="489.80" font-size="11.3" text-anchor="start" fill="#222" >CFP and mCherry</text><rect x="503" y="501.20" width="17.6" height="9.3" fill="#fff" stroke="#333" stroke-width="0.7"/><text x="526.00" y="508.80" font-size="11.3" text-anchor="start" fill="#222" >Not enough data</text><g transform="translate(90.40,587.00) scale(0.914)"><path d="M51.50,53.40 C51.17,51.90 51.98,49.98 53.00,48.50 C54.02,47.02 55.77,45.70 57.60,44.50 C59.43,43.30 61.92,42.08 64.00,41.30 C66.08,40.52 68.10,39.97 70.10,39.80 C72.10,39.63 74.53,40.00 76.00,40.30 C77.47,40.60 78.32,42.32 78.90,41.60 C79.48,40.88 78.82,37.93 79.50,36.00 C80.18,34.07 81.42,32.02 83.00,30.00 C84.58,27.98 86.50,25.65 89.00,23.90 C91.50,22.15 94.87,20.77 98.00,19.50 C101.13,18.23 104.13,17.55 107.80,16.30 C111.47,15.05 116.13,13.15 120.00,12.00 C123.87,10.85 126.20,9.98 131.00,9.40 C135.80,8.82 144.38,8.28 148.80,8.50 C153.22,8.72 155.17,9.90 157.50,10.70 C159.83,11.50 161.78,12.42 162.80,13.30 C163.82,14.18 163.75,14.97 163.60,16.00 C163.45,17.03 162.92,18.12 161.90,19.50 C160.88,20.88 158.82,22.78 157.50,24.30 C156.18,25.82 155.02,27.15 154.00,28.60 C152.98,30.05 151.98,31.53 151.40,33.00 C150.82,34.47 151.08,36.08 150.50,37.40 C149.92,38.72 148.77,40.02 147.90,40.90 C147.03,41.78 146.55,42.37 145.30,42.70 C144.05,43.03 142.53,43.02 140.40,42.90 C138.27,42.78 134.40,42.08 132.50,42.00 C130.60,41.92 130.38,41.52 129.00,42.40 C127.62,43.28 125.30,46.35 124.20,47.30 C123.10,48.25 122.33,47.67 122.40,48.10 C122.47,48.53 124.08,49.17 124.60,49.90 C125.12,50.63 125.42,50.60 125.50,52.50 C125.58,54.40 125.25,58.38 125.10,61.30 C124.95,64.22 124.82,67.97 124.60,70.00 C124.38,72.03 124.17,72.33 123.80,73.50 C123.43,74.67 122.48,75.97 122.40,77.00 C122.32,78.03 123.03,78.57 123.30,79.70 C123.57,80.83 125.88,83.42 124.00,83.80 C122.12,84.18 115.75,82.78 112.00,82.00 C108.25,81.22 105.55,80.22 101.50,79.10 C97.45,77.98 90.53,75.73 87.70,75.30 C84.87,74.87 85.33,76.28 84.50,76.50 C83.67,76.72 84.05,77.22 82.70,76.60 C81.35,75.98 78.85,74.23 76.40,72.80 C73.95,71.37 70.52,69.67 68.00,68.00 C65.48,66.33 63.47,64.55 61.30,62.80 C59.13,61.05 56.63,59.07 55.00,57.50 C53.37,55.93 51.83,54.90 51.50,53.40 Z" fill="#b4d9d1" stroke="#444" stroke-width="0.7"/><path d="M161.00,20.30 C162.32,19.42 163.78,19.07 165.40,19.00 C167.02,18.93 169.10,19.47 170.70,19.90 C172.30,20.33 173.55,21.23 175.00,21.60 C176.45,21.97 177.93,22.10 179.40,22.10 C180.87,22.10 182.97,21.20 183.80,21.60 C184.63,22.00 184.00,23.28 184.40,24.50 C184.80,25.72 186.27,27.57 186.20,28.90 C186.13,30.23 184.85,31.28 184.00,32.50 C183.15,33.72 181.88,34.98 181.10,36.20 C180.32,37.42 179.55,38.47 179.30,39.80 C179.05,41.13 179.23,42.58 179.60,44.20 C179.97,45.82 180.77,47.95 181.50,49.50 C182.23,51.05 183.00,52.17 184.00,53.50 C185.00,54.83 186.25,56.42 187.50,57.50 C188.75,58.58 190.00,59.38 191.50,60.00 C193.00,60.62 194.22,61.03 196.50,61.20 C198.78,61.37 202.53,60.82 205.20,61.00 C207.87,61.18 210.18,61.93 212.50,62.30 C214.82,62.67 217.43,62.67 219.10,63.20 C220.77,63.73 221.80,64.73 222.50,65.50 C223.20,66.27 223.27,66.17 223.30,67.80 C223.33,69.43 223.63,72.78 222.70,75.30 C221.77,77.82 220.63,80.80 217.70,82.90 C214.77,85.00 208.88,86.75 205.10,87.90 C201.32,89.05 198.18,89.52 195.00,89.80 C191.82,90.08 189.08,89.82 186.00,89.60 C182.92,89.38 178.98,89.00 176.50,88.50 C174.02,88.00 172.88,87.43 171.10,86.60 C169.32,85.77 167.20,84.60 165.80,83.50 C164.40,82.40 163.43,81.22 162.70,80.00 C161.97,78.78 161.47,77.42 161.40,76.20 C161.33,74.98 162.45,73.43 162.30,72.70 C162.15,71.97 161.08,72.25 160.50,71.80 C159.92,71.35 159.52,70.80 158.80,70.00 C158.08,69.20 157.08,68.17 156.20,67.00 C155.32,65.83 154.32,63.98 153.50,63.00 C152.68,62.02 151.37,61.60 151.30,61.10 C151.23,60.60 153.32,60.85 153.10,60.00 C152.88,59.15 150.88,57.25 150.00,56.00 C149.12,54.75 148.30,54.10 147.80,52.50 C147.30,50.90 147.28,48.08 147.00,46.40 C146.72,44.72 145.95,43.32 146.10,42.40 C146.25,41.48 147.17,41.73 147.90,40.90 C148.63,40.07 149.92,38.72 150.50,37.40 C151.08,36.08 150.82,34.47 151.40,33.00 C151.98,31.53 152.98,30.05 154.00,28.60 C155.02,27.15 156.33,25.68 157.50,24.30 C158.67,22.92 159.68,21.18 161.00,20.30 Z" fill="#d8e29b" stroke="#444" stroke-width="0.7"/><path d="M122.40,48.10 C122.33,47.67 123.10,48.25 124.20,47.30 C125.30,46.35 127.62,43.28 129.00,42.40 C130.38,41.52 130.60,41.92 132.50,42.00 C134.40,42.08 138.13,42.83 140.40,42.90 C142.67,42.97 145.00,41.82 146.10,42.40 C147.20,42.98 146.72,44.72 147.00,46.40 C147.28,48.08 147.30,50.90 147.80,52.50 C148.30,54.10 149.12,54.75 150.00,56.00 C150.88,57.25 152.88,59.15 153.10,60.00 C153.32,60.85 151.23,60.60 151.30,61.10 C151.37,61.60 152.68,62.02 153.50,63.00 C154.32,63.98 155.32,65.83 156.20,67.00 C157.08,68.17 158.37,68.92 158.80,70.00 C159.23,71.08 158.95,72.33 158.80,73.50 C158.65,74.67 158.78,75.68 157.90,77.00 C157.02,78.32 155.10,80.08 153.50,81.40 C151.90,82.72 150.33,83.87 148.30,84.90 C146.27,85.93 143.93,87.08 141.30,87.60 C138.67,88.12 135.05,88.00 132.50,88.00 C129.95,88.00 127.17,87.97 126.00,87.60 C124.83,87.23 125.00,86.62 125.50,85.80 C126.00,84.98 128.57,83.43 129.00,82.70 C129.43,81.97 129.05,81.90 128.10,81.40 C127.15,80.90 124.25,80.43 123.30,79.70 C122.35,78.97 122.32,78.03 122.40,77.00 C122.48,75.97 123.43,74.67 123.80,73.50 C124.17,72.33 124.38,72.03 124.60,70.00 C124.82,67.97 124.95,64.22 125.10,61.30 C125.25,58.38 125.58,54.40 125.50,52.50 C125.42,50.60 125.12,50.63 124.60,49.90 C124.08,49.17 122.47,48.53 122.40,48.10 Z" fill="#c6dfb9" stroke="#444" stroke-width="0.7"/><path d="M183.70,21.90 C184.03,21.08 185.60,20.33 187.00,20.10 C188.40,19.87 190.28,20.02 192.10,20.50 C193.92,20.98 196.82,22.45 197.90,23.00 C198.98,23.55 198.00,23.67 198.60,23.80 C199.20,23.93 200.15,23.32 201.50,23.80 C202.85,24.28 205.23,25.55 206.70,26.70 C208.17,27.85 209.22,29.73 210.30,30.70 C211.38,31.67 212.28,31.58 213.20,32.50 C214.12,33.42 215.18,34.98 215.80,36.20 C216.42,37.42 216.48,38.72 216.90,39.80 C217.32,40.88 217.82,41.48 218.30,42.70 C218.78,43.92 219.37,45.38 219.80,47.10 C220.23,48.82 220.78,51.05 220.90,53.00 C221.02,54.95 220.80,57.23 220.50,58.80 C220.20,60.37 220.43,61.92 219.10,62.40 C217.77,62.88 214.82,62.12 212.50,61.70 C210.18,61.28 207.63,60.38 205.20,59.90 C202.77,59.42 199.93,59.08 197.90,58.80 C195.87,58.52 194.40,58.62 193.00,58.20 C191.60,57.78 190.75,57.23 189.50,56.30 C188.25,55.37 186.78,53.88 185.50,52.60 C184.22,51.32 182.78,50.00 181.80,48.60 C180.82,47.20 180.02,45.67 179.60,44.20 C179.18,42.73 179.05,41.13 179.30,39.80 C179.55,38.47 180.32,37.42 181.10,36.20 C181.88,34.98 183.15,33.72 184.00,32.50 C184.85,31.28 186.03,30.15 186.20,28.90 C186.37,27.65 185.42,26.17 185.00,25.00 C184.58,23.83 183.37,22.72 183.70,21.90 Z" fill="#a9d9df" stroke="#444" stroke-width="0.7"/><path d="M186.20,28.10 C186.93,28.60 189.38,29.63 190.60,31.10 C191.82,32.57 192.83,34.72 193.50,36.90 C194.17,39.08 194.42,42.98 194.60,44.20" fill="none" stroke="#222" stroke-width="1.3" stroke-linecap="round"/><path d="M182.60,38.40 C183.08,39.00 184.53,40.78 185.50,42.00 C186.47,43.22 187.92,45.08 188.40,45.70" fill="none" stroke="#222" stroke-width="1.3" stroke-linecap="round"/><path d="M199.40,24.50 C199.70,25.35 200.72,27.28 201.20,29.60 C201.68,31.92 202.12,36.93 202.30,38.40" fill="none" stroke="#222" stroke-width="1.3" stroke-linecap="round"/><path d="M209.80,40.40 C210.25,40.37 211.57,40.20 212.50,40.20 C213.43,40.20 214.92,40.37 215.40,40.40" fill="none" stroke="#222" stroke-width="1.3" stroke-linecap="round"/><path d="M207.40,47.10 C208.00,47.58 209.42,49.48 211.00,50.00 C212.58,50.52 215.92,50.17 216.90,50.20" fill="none" stroke="#222" stroke-width="1.3" stroke-linecap="round"/><path d="M195.70,50.80 C195.63,51.88 195.37,56.22 195.30,57.30" fill="none" stroke="#222" stroke-width="1.3" stroke-linecap="round"/><path d="M200.10,50.80 C200.58,51.52 202.40,53.77 203.00,55.10 C203.60,56.43 203.58,58.18 203.70,58.80" fill="none" stroke="#222" stroke-width="1.3" stroke-linecap="round"/><path d="M209.60,31.50 C209.87,31.92 210.93,33.58 211.20,34.00" fill="none" stroke="#222" stroke-width="1.3" stroke-linecap="round"/><path d="M204.80,26.80 C205.10,27.47 206.20,29.35 206.60,30.80 C207.00,32.25 207.10,34.72 207.20,35.50" fill="none" stroke="#222" stroke-width="1.3" stroke-linecap="round"/><path d="M213.50,34.80 C212.95,35.10 211.08,35.93 210.20,36.60 C209.32,37.27 208.53,38.43 208.20,38.80" fill="none" stroke="#222" stroke-width="1.3" stroke-linecap="round"/><path d="M134.40,112.90 C135.08,112.38 136.97,111.77 138.20,111.30 C139.43,110.83 140.68,110.78 141.80,110.10 C142.92,109.42 143.62,108.35 144.90,107.20 C146.18,106.05 148.15,104.17 149.50,103.20 C150.85,102.23 151.95,101.58 153.00,101.40 C154.05,101.22 155.23,101.47 155.80,102.10 C156.37,102.73 156.52,103.67 156.40,105.20 C156.28,106.73 155.48,109.43 155.10,111.30 C154.72,113.17 154.18,114.70 154.10,116.40 C154.02,118.10 154.52,120.05 154.60,121.50 C154.68,122.95 155.28,124.45 154.60,125.10 C153.92,125.75 151.35,126.00 150.50,125.40 C149.65,124.80 149.85,122.65 149.50,121.50 C149.15,120.35 148.83,119.00 148.40,118.50 C147.97,118.00 147.57,118.00 146.90,118.50 C146.23,119.00 145.08,120.57 144.40,121.50 C143.72,122.43 143.48,123.83 142.80,124.10 C142.12,124.37 140.85,123.53 140.30,123.10 C139.75,122.67 139.33,122.18 139.50,121.50 C139.67,120.82 140.75,119.93 141.30,119.00 C141.85,118.07 142.88,116.50 142.80,115.90 C142.72,115.30 141.73,115.35 140.80,115.40 C139.87,115.45 138.13,116.12 137.20,116.20 C136.27,116.28 135.72,116.20 135.20,115.90 C134.68,115.60 134.23,114.90 134.10,114.40 C133.97,113.90 133.72,113.42 134.40,112.90 Z" fill="#f2d851" stroke="#555" stroke-width="0.5"/><path d="M42.8,87.6 C37,91 31,95 28,99 C25.5,102.5 24.6,105 24.6,107.4 C24.6,110 25.5,112.5 28,116 C31,120 37,124 42.8,127.3 L44.8,124 L46,107 L44.8,90.8 Z" fill="#6d3437"/><path d="M42.8,87.6 C37,91 31,95 28,99 C25.5,102.5 24.6,105 24.6,107.4 C24.6,110 25.5,112.5 28,116 C31,120 37,124 42.8,127.3" fill="none" stroke="#333" stroke-width="0.8"/><path d="M44.2,90.9 C38,93.3 32.5,97 30.3,100 C28.3,103 27.3,105 27.3,107.4 C27.3,110 28.3,112 30.3,115 C32.5,118 38,121.5 44.2,123.9" fill="none" stroke="#333" stroke-width="0.7"/><path d="M30.5,96.8 L32.6,98.6 M27.3,102.8 L29.8,103.8 M27.3,111.8 L29.8,110.8 M30,118 L32.2,116.2" stroke="#333" stroke-width="0.9"/><circle cx="45.7" cy="107.1" r="13.5" fill="#6d3437" stroke="#333" stroke-width="0.8"/><circle cx="45.7" cy="107.1" r="12.0" fill="none" stroke="#333" stroke-width="0.5"/><rect x="59.2" y="106.2" width="2.8" height="2" fill="#6d3437" stroke="#333" stroke-width="0.4"/><g><circle cx="49.35" cy="78.0" r="5.0" fill="none" stroke="#ee2233" stroke-width="1.5"/><circle cx="56.65" cy="78.00" r="1.0" fill="#ee2233"/><circle cx="56.02" cy="80.97" r="1.0" fill="#ee2233"/><circle cx="54.23" cy="83.42" r="1.0" fill="#ee2233"/><circle cx="51.61" cy="84.94" r="1.0" fill="#ee2233"/><circle cx="48.59" cy="85.26" r="1.0" fill="#ee2233"/><circle cx="45.70" cy="84.32" r="1.0" fill="#ee2233"/><circle cx="43.44" cy="82.29" r="1.0" fill="#ee2233"/><circle cx="42.21" cy="79.52" r="1.0" fill="#ee2233"/><circle cx="42.21" cy="76.48" r="1.0" fill="#ee2233"/><circle cx="43.44" cy="73.71" r="1.0" fill="#ee2233"/><circle cx="45.70" cy="71.68" r="1.0" fill="#ee2233"/><circle cx="48.59" cy="70.74" r="1.0" fill="#ee2233"/><circle cx="51.61" cy="71.06" r="1.0" fill="#ee2233"/><circle cx="54.23" cy="72.58" r="1.0" fill="#ee2233"/><circle cx="56.02" cy="75.03" r="1.0" fill="#ee2233"/></g><g transform="translate(48.5,99.3) rotate(-43.70)"><line x1="0" y1="0" x2="10.5" y2="0" stroke="#333" stroke-width="0.75"/><path d="M10,0 Q11,-2.3 13.8,-2.3 L13.8,2.3 Q11,2.3 10,0 Z" fill="#e8202a"/><rect x="13.8" y="-2.3" width="11.2" height="4.6" fill="#fafafa" stroke="#444" stroke-width="0.6"/><line x1="15" y1="-0.8" x2="24" y2="-0.8" stroke="#aaa" stroke-width="0.45"/><line x1="15" y1="0.8" x2="24" y2="0.8" stroke="#aaa" stroke-width="0.45"/><line x1="25" y1="-5.3" x2="25" y2="5.3" stroke="#444" stroke-width="0.9"/><line x1="25" y1="0" x2="30.3" y2="0" stroke="#444" stroke-width="0.8"/><line x1="30.3" y1="-4.4" x2="30.3" y2="4.4" stroke="#444" stroke-width="0.9"/></g><g opacity="0.55"><path d="M61,107.4 C85,103 126,78 137.6,55.4" fill="none" stroke="#f23a2e" stroke-width="1.5" stroke-linecap="round"/><path d="M130.21,58.95 L137.60,55.40 L140.09,63.21" fill="none" stroke="#f23a2e" stroke-width="1.5" stroke-linecap="round" stroke-linejoin="miter"/><path d="M47.2,122.6 C88,113 135,90 153.9,68.2 C158.5,62.9 164,52 168.3,39.4" fill="none" stroke="#f23a2e" stroke-width="1.5" stroke-linecap="round"/><path d="M161.21,43.52 L168.30,39.40 L171.39,46.99" fill="none" stroke="#f23a2e" stroke-width="1.5" stroke-linecap="round" stroke-linejoin="miter"/><path d="M33,120 C45,128 100,126.5 131.6,114.1" fill="none" stroke="#f23a2e" stroke-width="1.5" stroke-linecap="round"/><path d="M123.95,111.14 L131.60,114.10 L127.60,121.26" fill="none" stroke="#f23a2e" stroke-width="1.5" stroke-linecap="round" stroke-linejoin="miter"/><path d="M158.7,101.3 C166,96 174,88 178.9,75.4" fill="none" stroke="#f23a2e" stroke-width="1.5" stroke-linecap="round"/><path d="M171.64,79.22 L178.90,75.40 L181.67,83.12" fill="none" stroke="#f23a2e" stroke-width="1.5" stroke-linecap="round" stroke-linejoin="miter"/></g></g><g transform="translate(285.30,587.00) scale(0.914)"><path d="M51.50,53.40 C51.17,51.90 51.98,49.98 53.00,48.50 C54.02,47.02 55.77,45.70 57.60,44.50 C59.43,43.30 61.92,42.08 64.00,41.30 C66.08,40.52 68.10,39.97 70.10,39.80 C72.10,39.63 74.53,40.00 76.00,40.30 C77.47,40.60 78.32,42.32 78.90,41.60 C79.48,40.88 78.82,37.93 79.50,36.00 C80.18,34.07 81.42,32.02 83.00,30.00 C84.58,27.98 86.50,25.65 89.00,23.90 C91.50,22.15 94.87,20.77 98.00,19.50 C101.13,18.23 104.13,17.55 107.80,16.30 C111.47,15.05 116.13,13.15 120.00,12.00 C123.87,10.85 126.20,9.98 131.00,9.40 C135.80,8.82 144.38,8.28 148.80,8.50 C153.22,8.72 155.17,9.90 157.50,10.70 C159.83,11.50 161.78,12.42 162.80,13.30 C163.82,14.18 163.75,14.97 163.60,16.00 C163.45,17.03 162.92,18.12 161.90,19.50 C160.88,20.88 158.82,22.78 157.50,24.30 C156.18,25.82 155.02,27.15 154.00,28.60 C152.98,30.05 151.98,31.53 151.40,33.00 C150.82,34.47 151.08,36.08 150.50,37.40 C149.92,38.72 148.77,40.02 147.90,40.90 C147.03,41.78 146.55,42.37 145.30,42.70 C144.05,43.03 142.53,43.02 140.40,42.90 C138.27,42.78 134.40,42.08 132.50,42.00 C130.60,41.92 130.38,41.52 129.00,42.40 C127.62,43.28 125.30,46.35 124.20,47.30 C123.10,48.25 122.33,47.67 122.40,48.10 C122.47,48.53 124.08,49.17 124.60,49.90 C125.12,50.63 125.42,50.60 125.50,52.50 C125.58,54.40 125.25,58.38 125.10,61.30 C124.95,64.22 124.82,67.97 124.60,70.00 C124.38,72.03 124.17,72.33 123.80,73.50 C123.43,74.67 122.48,75.97 122.40,77.00 C122.32,78.03 123.03,78.57 123.30,79.70 C123.57,80.83 125.88,83.42 124.00,83.80 C122.12,84.18 115.75,82.78 112.00,82.00 C108.25,81.22 105.55,80.22 101.50,79.10 C97.45,77.98 90.53,75.73 87.70,75.30 C84.87,74.87 85.33,76.28 84.50,76.50 C83.67,76.72 84.05,77.22 82.70,76.60 C81.35,75.98 78.85,74.23 76.40,72.80 C73.95,71.37 70.52,69.67 68.00,68.00 C65.48,66.33 63.47,64.55 61.30,62.80 C59.13,61.05 56.63,59.07 55.00,57.50 C53.37,55.93 51.83,54.90 51.50,53.40 Z" fill="#f3d75a" stroke="#444" stroke-width="0.7"/><path d="M161.00,20.30 C162.32,19.42 163.78,19.07 165.40,19.00 C167.02,18.93 169.10,19.47 170.70,19.90 C172.30,20.33 173.55,21.23 175.00,21.60 C176.45,21.97 177.93,22.10 179.40,22.10 C180.87,22.10 182.97,21.20 183.80,21.60 C184.63,22.00 184.00,23.28 184.40,24.50 C184.80,25.72 186.27,27.57 186.20,28.90 C186.13,30.23 184.85,31.28 184.00,32.50 C183.15,33.72 181.88,34.98 181.10,36.20 C180.32,37.42 179.55,38.47 179.30,39.80 C179.05,41.13 179.23,42.58 179.60,44.20 C179.97,45.82 180.77,47.95 181.50,49.50 C182.23,51.05 183.00,52.17 184.00,53.50 C185.00,54.83 186.25,56.42 187.50,57.50 C188.75,58.58 190.00,59.38 191.50,60.00 C193.00,60.62 194.22,61.03 196.50,61.20 C198.78,61.37 202.53,60.82 205.20,61.00 C207.87,61.18 210.18,61.93 212.50,62.30 C214.82,62.67 217.43,62.67 219.10,63.20 C220.77,63.73 221.80,64.73 222.50,65.50 C223.20,66.27 223.27,66.17 223.30,67.80 C223.33,69.43 223.63,72.78 222.70,75.30 C221.77,77.82 220.63,80.80 217.70,82.90 C214.77,85.00 208.88,86.75 205.10,87.90 C201.32,89.05 198.18,89.52 195.00,89.80 C191.82,90.08 189.08,89.82 186.00,89.60 C182.92,89.38 178.98,89.00 176.50,88.50 C174.02,88.00 172.88,87.43 171.10,86.60 C169.32,85.77 167.20,84.60 165.80,83.50 C164.40,82.40 163.43,81.22 162.70,80.00 C161.97,78.78 161.47,77.42 161.40,76.20 C161.33,74.98 162.45,73.43 162.30,72.70 C162.15,71.97 161.08,72.25 160.50,71.80 C159.92,71.35 159.52,70.80 158.80,70.00 C158.08,69.20 157.08,68.17 156.20,67.00 C155.32,65.83 154.32,63.98 153.50,63.00 C152.68,62.02 151.37,61.60 151.30,61.10 C151.23,60.60 153.32,60.85 153.10,60.00 C152.88,59.15 150.88,57.25 150.00,56.00 C149.12,54.75 148.30,54.10 147.80,52.50 C147.30,50.90 147.28,48.08 147.00,46.40 C146.72,44.72 145.95,43.32 146.10,42.40 C146.25,41.48 147.17,41.73 147.90,40.90 C148.63,40.07 149.92,38.72 150.50,37.40 C151.08,36.08 150.82,34.47 151.40,33.00 C151.98,31.53 152.98,30.05 154.00,28.60 C155.02,27.15 156.33,25.68 157.50,24.30 C158.67,22.92 159.68,21.18 161.00,20.30 Z" fill="#f2cb52" stroke="#444" stroke-width="0.7"/><path d="M122.40,48.10 C122.33,47.67 123.10,48.25 124.20,47.30 C125.30,46.35 127.62,43.28 129.00,42.40 C130.38,41.52 130.60,41.92 132.50,42.00 C134.40,42.08 138.13,42.83 140.40,42.90 C142.67,42.97 145.00,41.82 146.10,42.40 C147.20,42.98 146.72,44.72 147.00,46.40 C147.28,48.08 147.30,50.90 147.80,52.50 C148.30,54.10 149.12,54.75 150.00,56.00 C150.88,57.25 152.88,59.15 153.10,60.00 C153.32,60.85 151.23,60.60 151.30,61.10 C151.37,61.60 152.68,62.02 153.50,63.00 C154.32,63.98 155.32,65.83 156.20,67.00 C157.08,68.17 158.37,68.92 158.80,70.00 C159.23,71.08 158.95,72.33 158.80,73.50 C158.65,74.67 158.78,75.68 157.90,77.00 C157.02,78.32 155.10,80.08 153.50,81.40 C151.90,82.72 150.33,83.87 148.30,84.90 C146.27,85.93 143.93,87.08 141.30,87.60 C138.67,88.12 135.05,88.00 132.50,88.00 C129.95,88.00 127.17,87.97 126.00,87.60 C124.83,87.23 125.00,86.62 125.50,85.80 C126.00,84.98 128.57,83.43 129.00,82.70 C129.43,81.97 129.05,81.90 128.10,81.40 C127.15,80.90 124.25,80.43 123.30,79.70 C122.35,78.97 122.32,78.03 122.40,77.00 C122.48,75.97 123.43,74.67 123.80,73.50 C124.17,72.33 124.38,72.03 124.60,70.00 C124.82,67.97 124.95,64.22 125.10,61.30 C125.25,58.38 125.58,54.40 125.50,52.50 C125.42,50.60 125.12,50.63 124.60,49.90 C124.08,49.17 122.47,48.53 122.40,48.10 Z" fill="#f3d75a" stroke="#444" stroke-width="0.7"/><path d="M183.70,21.90 C184.03,21.08 185.60,20.33 187.00,20.10 C188.40,19.87 190.28,20.02 192.10,20.50 C193.92,20.98 196.82,22.45 197.90,23.00 C198.98,23.55 198.00,23.67 198.60,23.80 C199.20,23.93 200.15,23.32 201.50,23.80 C202.85,24.28 205.23,25.55 206.70,26.70 C208.17,27.85 209.22,29.73 210.30,30.70 C211.38,31.67 212.28,31.58 213.20,32.50 C214.12,33.42 215.18,34.98 215.80,36.20 C216.42,37.42 216.48,38.72 216.90,39.80 C217.32,40.88 217.82,41.48 218.30,42.70 C218.78,43.92 219.37,45.38 219.80,47.10 C220.23,48.82 220.78,51.05 220.90,53.00 C221.02,54.95 220.80,57.23 220.50,58.80 C220.20,60.37 220.43,61.92 219.10,62.40 C217.77,62.88 214.82,62.12 212.50,61.70 C210.18,61.28 207.63,60.38 205.20,59.90 C202.77,59.42 199.93,59.08 197.90,58.80 C195.87,58.52 194.40,58.62 193.00,58.20 C191.60,57.78 190.75,57.23 189.50,56.30 C188.25,55.37 186.78,53.88 185.50,52.60 C184.22,51.32 182.78,50.00 181.80,48.60 C180.82,47.20 180.02,45.67 179.60,44.20 C179.18,42.73 179.05,41.13 179.30,39.80 C179.55,38.47 180.32,37.42 181.10,36.20 C181.88,34.98 183.15,33.72 184.00,32.50 C184.85,31.28 186.03,30.15 186.20,28.90 C186.37,27.65 185.42,26.17 185.00,25.00 C184.58,23.83 183.37,22.72 183.70,21.90 Z" fill="#b3dcd5" stroke="#444" stroke-width="0.7"/><path d="M186.20,28.10 C186.93,28.60 189.38,29.63 190.60,31.10 C191.82,32.57 192.83,34.72 193.50,36.90 C194.17,39.08 194.42,42.98 194.60,44.20" fill="none" stroke="#222" stroke-width="1.3" stroke-linecap="round"/><path d="M182.60,38.40 C183.08,39.00 184.53,40.78 185.50,42.00 C186.47,43.22 187.92,45.08 188.40,45.70" fill="none" stroke="#222" stroke-width="1.3" stroke-linecap="round"/><path d="M199.40,24.50 C199.70,25.35 200.72,27.28 201.20,29.60 C201.68,31.92 202.12,36.93 202.30,38.40" fill="none" stroke="#222" stroke-width="1.3" stroke-linecap="round"/><path d="M209.80,40.40 C210.25,40.37 211.57,40.20 212.50,40.20 C213.43,40.20 214.92,40.37 215.40,40.40" fill="none" stroke="#222" stroke-width="1.3" stroke-linecap="round"/><path d="M207.40,47.10 C208.00,47.58 209.42,49.48 211.00,50.00 C212.58,50.52 215.92,50.17 216.90,50.20" fill="none" stroke="#222" stroke-width="1.3" stroke-linecap="round"/><path d="M195.70,50.80 C195.63,51.88 195.37,56.22 195.30,57.30" fill="none" stroke="#222" stroke-width="1.3" stroke-linecap="round"/><path d="M200.10,50.80 C200.58,51.52 202.40,53.77 203.00,55.10 C203.60,56.43 203.58,58.18 203.70,58.80" fill="none" stroke="#222" stroke-width="1.3" stroke-linecap="round"/><path d="M209.60,31.50 C209.87,31.92 210.93,33.58 211.20,34.00" fill="none" stroke="#222" stroke-width="1.3" stroke-linecap="round"/><path d="M204.80,26.80 C205.10,27.47 206.20,29.35 206.60,30.80 C207.00,32.25 207.10,34.72 207.20,35.50" fill="none" stroke="#222" stroke-width="1.3" stroke-linecap="round"/><path d="M213.50,34.80 C212.95,35.10 211.08,35.93 210.20,36.60 C209.32,37.27 208.53,38.43 208.20,38.80" fill="none" stroke="#222" stroke-width="1.3" stroke-linecap="round"/><path d="M134.40,112.90 C135.08,112.38 136.97,111.77 138.20,111.30 C139.43,110.83 140.68,110.78 141.80,110.10 C142.92,109.42 143.62,108.35 144.90,107.20 C146.18,106.05 148.15,104.17 149.50,103.20 C150.85,102.23 151.95,101.58 153.00,101.40 C154.05,101.22 155.23,101.47 155.80,102.10 C156.37,102.73 156.52,103.67 156.40,105.20 C156.28,106.73 155.48,109.43 155.10,111.30 C154.72,113.17 154.18,114.70 154.10,116.40 C154.02,118.10 154.52,120.05 154.60,121.50 C154.68,122.95 155.28,124.45 154.60,125.10 C153.92,125.75 151.35,126.00 150.50,125.40 C149.65,124.80 149.85,122.65 149.50,121.50 C149.15,120.35 148.83,119.00 148.40,118.50 C147.97,118.00 147.57,118.00 146.90,118.50 C146.23,119.00 145.08,120.57 144.40,121.50 C143.72,122.43 143.48,123.83 142.80,124.10 C142.12,124.37 140.85,123.53 140.30,123.10 C139.75,122.67 139.33,122.18 139.50,121.50 C139.67,120.82 140.75,119.93 141.30,119.00 C141.85,118.07 142.88,116.50 142.80,115.90 C142.72,115.30 141.73,115.35 140.80,115.40 C139.87,115.45 138.13,116.12 137.20,116.20 C136.27,116.28 135.72,116.20 135.20,115.90 C134.68,115.60 134.23,114.90 134.10,114.40 C133.97,113.90 133.72,113.42 134.40,112.90 Z" fill="#eba04f" stroke="#555" stroke-width="0.5"/><path d="M42.8,87.6 C37,91 31,95 28,99 C25.5,102.5 24.6,105 24.6,107.4 C24.6,110 25.5,112.5 28,116 C31,120 37,124 42.8,127.3 L44.8,124 L46,107 L44.8,90.8 Z" fill="#6d3437"/><path d="M42.8,87.6 C37,91 31,95 28,99 C25.5,102.5 24.6,105 24.6,107.4 C24.6,110 25.5,112.5 28,116 C31,120 37,124 42.8,127.3" fill="none" stroke="#333" stroke-width="0.8"/><path d="M44.2,90.9 C38,93.3 32.5,97 30.3,100 C28.3,103 27.3,105 27.3,107.4 C27.3,110 28.3,112 30.3,115 C32.5,118 38,121.5 44.2,123.9" fill="none" stroke="#333" stroke-width="0.7"/><path d="M30.5,96.8 L32.6,98.6 M27.3,102.8 L29.8,103.8 M27.3,111.8 L29.8,110.8 M30,118 L32.2,116.2" stroke="#333" stroke-width="0.9"/><circle cx="45.7" cy="107.1" r="13.5" fill="#6d3437" stroke="#333" stroke-width="0.8"/><circle cx="45.7" cy="107.1" r="12.0" fill="none" stroke="#333" stroke-width="0.5"/><rect x="59.2" y="106.2" width="2.8" height="2" fill="#6d3437" stroke="#333" stroke-width="0.4"/><g opacity="0.55"><path d="M61,107.4 C85,103 126,78 137.6,55.4" fill="none" stroke="#f23a2e" stroke-width="1.5" stroke-linecap="round"/><path d="M130.21,58.95 L137.60,55.40 L140.09,63.21" fill="none" stroke="#f23a2e" stroke-width="1.5" stroke-linecap="round" stroke-linejoin="miter"/><path d="M47.2,122.6 C88,113 135,90 153.9,68.2 C158.5,62.9 164,52 168.3,39.4" fill="none" stroke="#f23a2e" stroke-width="1.5" stroke-linecap="round"/><path d="M161.21,43.52 L168.30,39.40 L171.39,46.99" fill="none" stroke="#f23a2e" stroke-width="1.5" stroke-linecap="round" stroke-linejoin="miter"/><path d="M33,120 C45,128 100,126.5 131.6,114.1" fill="none" stroke="#f23a2e" stroke-width="1.5" stroke-linecap="round"/><path d="M123.95,111.14 L131.60,114.10 L127.60,121.26" fill="none" stroke="#f23a2e" stroke-width="1.5" stroke-linecap="round" stroke-linejoin="miter"/><path d="M158.7,101.3 C166,96 174,88 178.9,75.4" fill="none" stroke="#f23a2e" stroke-width="1.5" stroke-linecap="round"/><path d="M171.64,79.22 L178.90,75.40 L181.67,83.12" fill="none" stroke="#f23a2e" stroke-width="1.5" stroke-linecap="round" stroke-linejoin="miter"/></g></g><g transform="translate(480.20,587.00) scale(0.914)"><path d="M51.50,53.40 C51.17,51.90 51.98,49.98 53.00,48.50 C54.02,47.02 55.77,45.70 57.60,44.50 C59.43,43.30 61.92,42.08 64.00,41.30 C66.08,40.52 68.10,39.97 70.10,39.80 C72.10,39.63 74.53,40.00 76.00,40.30 C77.47,40.60 78.32,42.32 78.90,41.60 C79.48,40.88 78.82,37.93 79.50,36.00 C80.18,34.07 81.42,32.02 83.00,30.00 C84.58,27.98 86.50,25.65 89.00,23.90 C91.50,22.15 94.87,20.77 98.00,19.50 C101.13,18.23 104.13,17.55 107.80,16.30 C111.47,15.05 116.13,13.15 120.00,12.00 C123.87,10.85 126.20,9.98 131.00,9.40 C135.80,8.82 144.38,8.28 148.80,8.50 C153.22,8.72 155.17,9.90 157.50,10.70 C159.83,11.50 161.78,12.42 162.80,13.30 C163.82,14.18 163.75,14.97 163.60,16.00 C163.45,17.03 162.92,18.12 161.90,19.50 C160.88,20.88 158.82,22.78 157.50,24.30 C156.18,25.82 155.02,27.15 154.00,28.60 C152.98,30.05 151.98,31.53 151.40,33.00 C150.82,34.47 151.08,36.08 150.50,37.40 C149.92,38.72 148.77,40.02 147.90,40.90 C147.03,41.78 146.55,42.37 145.30,42.70 C144.05,43.03 142.53,43.02 140.40,42.90 C138.27,42.78 134.40,42.08 132.50,42.00 C130.60,41.92 130.38,41.52 129.00,42.40 C127.62,43.28 125.30,46.35 124.20,47.30 C123.10,48.25 122.33,47.67 122.40,48.10 C122.47,48.53 124.08,49.17 124.60,49.90 C125.12,50.63 125.42,50.60 125.50,52.50 C125.58,54.40 125.25,58.38 125.10,61.30 C124.95,64.22 124.82,67.97 124.60,70.00 C124.38,72.03 124.17,72.33 123.80,73.50 C123.43,74.67 122.48,75.97 122.40,77.00 C122.32,78.03 123.03,78.57 123.30,79.70 C123.57,80.83 125.88,83.42 124.00,83.80 C122.12,84.18 115.75,82.78 112.00,82.00 C108.25,81.22 105.55,80.22 101.50,79.10 C97.45,77.98 90.53,75.73 87.70,75.30 C84.87,74.87 85.33,76.28 84.50,76.50 C83.67,76.72 84.05,77.22 82.70,76.60 C81.35,75.98 78.85,74.23 76.40,72.80 C73.95,71.37 70.52,69.67 68.00,68.00 C65.48,66.33 63.47,64.55 61.30,62.80 C59.13,61.05 56.63,59.07 55.00,57.50 C53.37,55.93 51.83,54.90 51.50,53.40 Z" fill="#eca94d" stroke="#444" stroke-width="0.7"/><path d="M161.00,20.30 C162.32,19.42 163.78,19.07 165.40,19.00 C167.02,18.93 169.10,19.47 170.70,19.90 C172.30,20.33 173.55,21.23 175.00,21.60 C176.45,21.97 177.93,22.10 179.40,22.10 C180.87,22.10 182.97,21.20 183.80,21.60 C184.63,22.00 184.00,23.28 184.40,24.50 C184.80,25.72 186.27,27.57 186.20,28.90 C186.13,30.23 184.85,31.28 184.00,32.50 C183.15,33.72 181.88,34.98 181.10,36.20 C180.32,37.42 179.55,38.47 179.30,39.80 C179.05,41.13 179.23,42.58 179.60,44.20 C179.97,45.82 180.77,47.95 181.50,49.50 C182.23,51.05 183.00,52.17 184.00,53.50 C185.00,54.83 186.25,56.42 187.50,57.50 C188.75,58.58 190.00,59.38 191.50,60.00 C193.00,60.62 194.22,61.03 196.50,61.20 C198.78,61.37 202.53,60.82 205.20,61.00 C207.87,61.18 210.18,61.93 212.50,62.30 C214.82,62.67 217.43,62.67 219.10,63.20 C220.77,63.73 221.80,64.73 222.50,65.50 C223.20,66.27 223.27,66.17 223.30,67.80 C223.33,69.43 223.63,72.78 222.70,75.30 C221.77,77.82 220.63,80.80 217.70,82.90 C214.77,85.00 208.88,86.75 205.10,87.90 C201.32,89.05 198.18,89.52 195.00,89.80 C191.82,90.08 189.08,89.82 186.00,89.60 C182.92,89.38 178.98,89.00 176.50,88.50 C174.02,88.00 172.88,87.43 171.10,86.60 C169.32,85.77 167.20,84.60 165.80,83.50 C164.40,82.40 163.43,81.22 162.70,80.00 C161.97,78.78 161.47,77.42 161.40,76.20 C161.33,74.98 162.45,73.43 162.30,72.70 C162.15,71.97 161.08,72.25 160.50,71.80 C159.92,71.35 159.52,70.80 158.80,70.00 C158.08,69.20 157.08,68.17 156.20,67.00 C155.32,65.83 154.32,63.98 153.50,63.00 C152.68,62.02 151.37,61.60 151.30,61.10 C151.23,60.60 153.32,60.85 153.10,60.00 C152.88,59.15 150.88,57.25 150.00,56.00 C149.12,54.75 148.30,54.10 147.80,52.50 C147.30,50.90 147.28,48.08 147.00,46.40 C146.72,44.72 145.95,43.32 146.10,42.40 C146.25,41.48 147.17,41.73 147.90,40.90 C148.63,40.07 149.92,38.72 150.50,37.40 C151.08,36.08 150.82,34.47 151.40,33.00 C151.98,31.53 152.98,30.05 154.00,28.60 C155.02,27.15 156.33,25.68 157.50,24.30 C158.67,22.92 159.68,21.18 161.00,20.30 Z" fill="#e9913f" stroke="#444" stroke-width="0.7"/><path d="M122.40,48.10 C122.33,47.67 123.10,48.25 124.20,47.30 C125.30,46.35 127.62,43.28 129.00,42.40 C130.38,41.52 130.60,41.92 132.50,42.00 C134.40,42.08 138.13,42.83 140.40,42.90 C142.67,42.97 145.00,41.82 146.10,42.40 C147.20,42.98 146.72,44.72 147.00,46.40 C147.28,48.08 147.30,50.90 147.80,52.50 C148.30,54.10 149.12,54.75 150.00,56.00 C150.88,57.25 152.88,59.15 153.10,60.00 C153.32,60.85 151.23,60.60 151.30,61.10 C151.37,61.60 152.68,62.02 153.50,63.00 C154.32,63.98 155.32,65.83 156.20,67.00 C157.08,68.17 158.37,68.92 158.80,70.00 C159.23,71.08 158.95,72.33 158.80,73.50 C158.65,74.67 158.78,75.68 157.90,77.00 C157.02,78.32 155.10,80.08 153.50,81.40 C151.90,82.72 150.33,83.87 148.30,84.90 C146.27,85.93 143.93,87.08 141.30,87.60 C138.67,88.12 135.05,88.00 132.50,88.00 C129.95,88.00 127.17,87.97 126.00,87.60 C124.83,87.23 125.00,86.62 125.50,85.80 C126.00,84.98 128.57,83.43 129.00,82.70 C129.43,81.97 129.05,81.90 128.10,81.40 C127.15,80.90 124.25,80.43 123.30,79.70 C122.35,78.97 122.32,78.03 122.40,77.00 C122.48,75.97 123.43,74.67 123.80,73.50 C124.17,72.33 124.38,72.03 124.60,70.00 C124.82,67.97 124.95,64.22 125.10,61.30 C125.25,58.38 125.58,54.40 125.50,52.50 C125.42,50.60 125.12,50.63 124.60,49.90 C124.08,49.17 122.47,48.53 122.40,48.10 Z" fill="#e9923f" stroke="#444" stroke-width="0.7"/><path d="M183.70,21.90 C184.03,21.08 185.60,20.33 187.00,20.10 C188.40,19.87 190.28,20.02 192.10,20.50 C193.92,20.98 196.82,22.45 197.90,23.00 C198.98,23.55 198.00,23.67 198.60,23.80 C199.20,23.93 200.15,23.32 201.50,23.80 C202.85,24.28 205.23,25.55 206.70,26.70 C208.17,27.85 209.22,29.73 210.30,30.70 C211.38,31.67 212.28,31.58 213.20,32.50 C214.12,33.42 215.18,34.98 215.80,36.20 C216.42,37.42 216.48,38.72 216.90,39.80 C217.32,40.88 217.82,41.48 218.30,42.70 C218.78,43.92 219.37,45.38 219.80,47.10 C220.23,48.82 220.78,51.05 220.90,53.00 C221.02,54.95 220.80,57.23 220.50,58.80 C220.20,60.37 220.43,61.92 219.10,62.40 C217.77,62.88 214.82,62.12 212.50,61.70 C210.18,61.28 207.63,60.38 205.20,59.90 C202.77,59.42 199.93,59.08 197.90,58.80 C195.87,58.52 194.40,58.62 193.00,58.20 C191.60,57.78 190.75,57.23 189.50,56.30 C188.25,55.37 186.78,53.88 185.50,52.60 C184.22,51.32 182.78,50.00 181.80,48.60 C180.82,47.20 180.02,45.67 179.60,44.20 C179.18,42.73 179.05,41.13 179.30,39.80 C179.55,38.47 180.32,37.42 181.10,36.20 C181.88,34.98 183.15,33.72 184.00,32.50 C184.85,31.28 186.03,30.15 186.20,28.90 C186.37,27.65 185.42,26.17 185.00,25.00 C184.58,23.83 183.37,22.72 183.70,21.90 Z" fill="#d1e2aa" stroke="#444" stroke-width="0.7"/><path d="M186.20,28.10 C186.93,28.60 189.38,29.63 190.60,31.10 C191.82,32.57 192.83,34.72 193.50,36.90 C194.17,39.08 194.42,42.98 194.60,44.20" fill="none" stroke="#222" stroke-width="1.3" stroke-linecap="round"/><path d="M182.60,38.40 C183.08,39.00 184.53,40.78 185.50,42.00 C186.47,43.22 187.92,45.08 188.40,45.70" fill="none" stroke="#222" stroke-width="1.3" stroke-linecap="round"/><path d="M199.40,24.50 C199.70,25.35 200.72,27.28 201.20,29.60 C201.68,31.92 202.12,36.93 202.30,38.40" fill="none" stroke="#222" stroke-width="1.3" stroke-linecap="round"/><path d="M209.80,40.40 C210.25,40.37 211.57,40.20 212.50,40.20 C213.43,40.20 214.92,40.37 215.40,40.40" fill="none" stroke="#222" stroke-width="1.3" stroke-linecap="round"/><path d="M207.40,47.10 C208.00,47.58 209.42,49.48 211.00,50.00 C212.58,50.52 215.92,50.17 216.90,50.20" fill="none" stroke="#222" stroke-width="1.3" stroke-linecap="round"/><path d="M195.70,50.80 C195.63,51.88 195.37,56.22 195.30,57.30" fill="none" stroke="#222" stroke-width="1.3" stroke-linecap="round"/><path d="M200.10,50.80 C200.58,51.52 202.40,53.77 203.00,55.10 C203.60,56.43 203.58,58.18 203.70,58.80" fill="none" stroke="#222" stroke-width="1.3" stroke-linecap="round"/><path d="M209.60,31.50 C209.87,31.92 210.93,33.58 211.20,34.00" fill="none" stroke="#222" stroke-width="1.3" stroke-linecap="round"/><path d="M204.80,26.80 C205.10,27.47 206.20,29.35 206.60,30.80 C207.00,32.25 207.10,34.72 207.20,35.50" fill="none" stroke="#222" stroke-width="1.3" stroke-linecap="round"/><path d="M213.50,34.80 C212.95,35.10 211.08,35.93 210.20,36.60 C209.32,37.27 208.53,38.43 208.20,38.80" fill="none" stroke="#222" stroke-width="1.3" stroke-linecap="round"/><path d="M134.40,112.90 C135.08,112.38 136.97,111.77 138.20,111.30 C139.43,110.83 140.68,110.78 141.80,110.10 C142.92,109.42 143.62,108.35 144.90,107.20 C146.18,106.05 148.15,104.17 149.50,103.20 C150.85,102.23 151.95,101.58 153.00,101.40 C154.05,101.22 155.23,101.47 155.80,102.10 C156.37,102.73 156.52,103.67 156.40,105.20 C156.28,106.73 155.48,109.43 155.10,111.30 C154.72,113.17 154.18,114.70 154.10,116.40 C154.02,118.10 154.52,120.05 154.60,121.50 C154.68,122.95 155.28,124.45 154.60,125.10 C153.92,125.75 151.35,126.00 150.50,125.40 C149.65,124.80 149.85,122.65 149.50,121.50 C149.15,120.35 148.83,119.00 148.40,118.50 C147.97,118.00 147.57,118.00 146.90,118.50 C146.23,119.00 145.08,120.57 144.40,121.50 C143.72,122.43 143.48,123.83 142.80,124.10 C142.12,124.37 140.85,123.53 140.30,123.10 C139.75,122.67 139.33,122.18 139.50,121.50 C139.67,120.82 140.75,119.93 141.30,119.00 C141.85,118.07 142.88,116.50 142.80,115.90 C142.72,115.30 141.73,115.35 140.80,115.40 C139.87,115.45 138.13,116.12 137.20,116.20 C136.27,116.28 135.72,116.20 135.20,115.90 C134.68,115.60 134.23,114.90 134.10,114.40 C133.97,113.90 133.72,113.42 134.40,112.90 Z" fill="#e57c3a" stroke="#555" stroke-width="0.5"/><path d="M42.8,87.6 C37,91 31,95 28,99 C25.5,102.5 24.6,105 24.6,107.4 C24.6,110 25.5,112.5 28,116 C31,120 37,124 42.8,127.3 L44.8,124 L46,107 L44.8,90.8 Z" fill="#6d3437"/><path d="M42.8,87.6 C37,91 31,95 28,99 C25.5,102.5 24.6,105 24.6,107.4 C24.6,110 25.5,112.5 28,116 C31,120 37,124 42.8,127.3" fill="none" stroke="#333" stroke-width="0.8"/><path d="M44.2,90.9 C38,93.3 32.5,97 30.3,100 C28.3,103 27.3,105 27.3,107.4 C27.3,110 28.3,112 30.3,115 C32.5,118 38,121.5 44.2,123.9" fill="none" stroke="#333" stroke-width="0.7"/><path d="M30.5,96.8 L32.6,98.6 M27.3,102.8 L29.8,103.8 M27.3,111.8 L29.8,110.8 M30,118 L32.2,116.2" stroke="#333" stroke-width="0.9"/><circle cx="45.7" cy="107.1" r="13.5" fill="#6d3437" stroke="#333" stroke-width="0.8"/><circle cx="45.7" cy="107.1" r="12.0" fill="none" stroke="#333" stroke-width="0.5"/><rect x="59.2" y="106.2" width="2.8" height="2" fill="#6d3437" stroke="#333" stroke-width="0.4"/><g opacity="0.55"><path d="M61,107.4 C85,103 126,78 137.6,55.4" fill="none" stroke="#f23a2e" stroke-width="1.5" stroke-linecap="round"/><path d="M130.21,58.95 L137.60,55.40 L140.09,63.21" fill="none" stroke="#f23a2e" stroke-width="1.5" stroke-linecap="round" stroke-linejoin="miter"/><path d="M47.2,122.6 C88,113 135,90 153.9,68.2 C158.5,62.9 164,52 168.3,39.4" fill="none" stroke="#f23a2e" stroke-width="1.5" stroke-linecap="round"/><path d="M161.21,43.52 L168.30,39.40 L171.39,46.99" fill="none" stroke="#f23a2e" stroke-width="1.5" stroke-linecap="round" stroke-linejoin="miter"/><path d="M33,120 C45,128 100,126.5 131.6,114.1" fill="none" stroke="#f23a2e" stroke-width="1.5" stroke-linecap="round"/><path d="M123.95,111.14 L131.60,114.10 L127.60,121.26" fill="none" stroke="#f23a2e" stroke-width="1.5" stroke-linecap="round" stroke-linejoin="miter"/><path d="M158.7,101.3 C166,96 174,88 178.9,75.4" fill="none" stroke="#f23a2e" stroke-width="1.5" stroke-linecap="round"/><path d="M171.64,79.22 L178.90,75.40 L181.67,83.12" fill="none" stroke="#f23a2e" stroke-width="1.5" stroke-linecap="round" stroke-linejoin="miter"/></g></g><g transform="translate(90.40,736.50) scale(0.914)"><path d="M51.50,53.40 C51.17,51.90 51.98,49.98 53.00,48.50 C54.02,47.02 55.77,45.70 57.60,44.50 C59.43,43.30 61.92,42.08 64.00,41.30 C66.08,40.52 68.10,39.97 70.10,39.80 C72.10,39.63 74.53,40.00 76.00,40.30 C77.47,40.60 78.32,42.32 78.90,41.60 C79.48,40.88 78.82,37.93 79.50,36.00 C80.18,34.07 81.42,32.02 83.00,30.00 C84.58,27.98 86.50,25.65 89.00,23.90 C91.50,22.15 94.87,20.77 98.00,19.50 C101.13,18.23 104.13,17.55 107.80,16.30 C111.47,15.05 116.13,13.15 120.00,12.00 C123.87,10.85 126.20,9.98 131.00,9.40 C135.80,8.82 144.38,8.28 148.80,8.50 C153.22,8.72 155.17,9.90 157.50,10.70 C159.83,11.50 161.78,12.42 162.80,13.30 C163.82,14.18 163.75,14.97 163.60,16.00 C163.45,17.03 162.92,18.12 161.90,19.50 C160.88,20.88 158.82,22.78 157.50,24.30 C156.18,25.82 155.02,27.15 154.00,28.60 C152.98,30.05 151.98,31.53 151.40,33.00 C150.82,34.47 151.08,36.08 150.50,37.40 C149.92,38.72 148.77,40.02 147.90,40.90 C147.03,41.78 146.55,42.37 145.30,42.70 C144.05,43.03 142.53,43.02 140.40,42.90 C138.27,42.78 134.40,42.08 132.50,42.00 C130.60,41.92 130.38,41.52 129.00,42.40 C127.62,43.28 125.30,46.35 124.20,47.30 C123.10,48.25 122.33,47.67 122.40,48.10 C122.47,48.53 124.08,49.17 124.60,49.90 C125.12,50.63 125.42,50.60 125.50,52.50 C125.58,54.40 125.25,58.38 125.10,61.30 C124.95,64.22 124.82,67.97 124.60,70.00 C124.38,72.03 124.17,72.33 123.80,73.50 C123.43,74.67 122.48,75.97 122.40,77.00 C122.32,78.03 123.03,78.57 123.30,79.70 C123.57,80.83 125.88,83.42 124.00,83.80 C122.12,84.18 115.75,82.78 112.00,82.00 C108.25,81.22 105.55,80.22 101.50,79.10 C97.45,77.98 90.53,75.73 87.70,75.30 C84.87,74.87 85.33,76.28 84.50,76.50 C83.67,76.72 84.05,77.22 82.70,76.60 C81.35,75.98 78.85,74.23 76.40,72.80 C73.95,71.37 70.52,69.67 68.00,68.00 C65.48,66.33 63.47,64.55 61.30,62.80 C59.13,61.05 56.63,59.07 55.00,57.50 C53.37,55.93 51.83,54.90 51.50,53.40 Z" fill="#ffffff" stroke="#444" stroke-width="0.7"/><path d="M161.00,20.30 C162.32,19.42 163.78,19.07 165.40,19.00 C167.02,18.93 169.10,19.47 170.70,19.90 C172.30,20.33 173.55,21.23 175.00,21.60 C176.45,21.97 177.93,22.10 179.40,22.10 C180.87,22.10 182.97,21.20 183.80,21.60 C184.63,22.00 184.00,23.28 184.40,24.50 C184.80,25.72 186.27,27.57 186.20,28.90 C186.13,30.23 184.85,31.28 184.00,32.50 C183.15,33.72 181.88,34.98 181.10,36.20 C180.32,37.42 179.55,38.47 179.30,39.80 C179.05,41.13 179.23,42.58 179.60,44.20 C179.97,45.82 180.77,47.95 181.50,49.50 C182.23,51.05 183.00,52.17 184.00,53.50 C185.00,54.83 186.25,56.42 187.50,57.50 C188.75,58.58 190.00,59.38 191.50,60.00 C193.00,60.62 194.22,61.03 196.50,61.20 C198.78,61.37 202.53,60.82 205.20,61.00 C207.87,61.18 210.18,61.93 212.50,62.30 C214.82,62.67 217.43,62.67 219.10,63.20 C220.77,63.73 221.80,64.73 222.50,65.50 C223.20,66.27 223.27,66.17 223.30,67.80 C223.33,69.43 223.63,72.78 222.70,75.30 C221.77,77.82 220.63,80.80 217.70,82.90 C214.77,85.00 208.88,86.75 205.10,87.90 C201.32,89.05 198.18,89.52 195.00,89.80 C191.82,90.08 189.08,89.82 186.00,89.60 C182.92,89.38 178.98,89.00 176.50,88.50 C174.02,88.00 172.88,87.43 171.10,86.60 C169.32,85.77 167.20,84.60 165.80,83.50 C164.40,82.40 163.43,81.22 162.70,80.00 C161.97,78.78 161.47,77.42 161.40,76.20 C161.33,74.98 162.45,73.43 162.30,72.70 C162.15,71.97 161.08,72.25 160.50,71.80 C159.92,71.35 159.52,70.80 158.80,70.00 C158.08,69.20 157.08,68.17 156.20,67.00 C155.32,65.83 154.32,63.98 153.50,63.00 C152.68,62.02 151.37,61.60 151.30,61.10 C151.23,60.60 153.32,60.85 153.10,60.00 C152.88,59.15 150.88,57.25 150.00,56.00 C149.12,54.75 148.30,54.10 147.80,52.50 C147.30,50.90 147.28,48.08 147.00,46.40 C146.72,44.72 145.95,43.32 146.10,42.40 C146.25,41.48 147.17,41.73 147.90,40.90 C148.63,40.07 149.92,38.72 150.50,37.40 C151.08,36.08 150.82,34.47 151.40,33.00 C151.98,31.53 152.98,30.05 154.00,28.60 C155.02,27.15 156.33,25.68 157.50,24.30 C158.67,22.92 159.68,21.18 161.00,20.30 Z" fill="#ef6a33" stroke="#444" stroke-width="0.7"/><path d="M122.40,48.10 C122.33,47.67 123.10,48.25 124.20,47.30 C125.30,46.35 127.62,43.28 129.00,42.40 C130.38,41.52 130.60,41.92 132.50,42.00 C134.40,42.08 138.13,42.83 140.40,42.90 C142.67,42.97 145.00,41.82 146.10,42.40 C147.20,42.98 146.72,44.72 147.00,46.40 C147.28,48.08 147.30,50.90 147.80,52.50 C148.30,54.10 149.12,54.75 150.00,56.00 C150.88,57.25 152.88,59.15 153.10,60.00 C153.32,60.85 151.23,60.60 151.30,61.10 C151.37,61.60 152.68,62.02 153.50,63.00 C154.32,63.98 155.32,65.83 156.20,67.00 C157.08,68.17 158.37,68.92 158.80,70.00 C159.23,71.08 158.95,72.33 158.80,73.50 C158.65,74.67 158.78,75.68 157.90,77.00 C157.02,78.32 155.10,80.08 153.50,81.40 C151.90,82.72 150.33,83.87 148.30,84.90 C146.27,85.93 143.93,87.08 141.30,87.60 C138.67,88.12 135.05,88.00 132.50,88.00 C129.95,88.00 127.17,87.97 126.00,87.60 C124.83,87.23 125.00,86.62 125.50,85.80 C126.00,84.98 128.57,83.43 129.00,82.70 C129.43,81.97 129.05,81.90 128.10,81.40 C127.15,80.90 124.25,80.43 123.30,79.70 C122.35,78.97 122.32,78.03 122.40,77.00 C122.48,75.97 123.43,74.67 123.80,73.50 C124.17,72.33 124.38,72.03 124.60,70.00 C124.82,67.97 124.95,64.22 125.10,61.30 C125.25,58.38 125.58,54.40 125.50,52.50 C125.42,50.60 125.12,50.63 124.60,49.90 C124.08,49.17 122.47,48.53 122.40,48.10 Z" fill="#b9dbc2" stroke="#444" stroke-width="0.7"/><path d="M183.70,21.90 C184.03,21.08 185.60,20.33 187.00,20.10 C188.40,19.87 190.28,20.02 192.10,20.50 C193.92,20.98 196.82,22.45 197.90,23.00 C198.98,23.55 198.00,23.67 198.60,23.80 C199.20,23.93 200.15,23.32 201.50,23.80 C202.85,24.28 205.23,25.55 206.70,26.70 C208.17,27.85 209.22,29.73 210.30,30.70 C211.38,31.67 212.28,31.58 213.20,32.50 C214.12,33.42 215.18,34.98 215.80,36.20 C216.42,37.42 216.48,38.72 216.90,39.80 C217.32,40.88 217.82,41.48 218.30,42.70 C218.78,43.92 219.37,45.38 219.80,47.10 C220.23,48.82 220.78,51.05 220.90,53.00 C221.02,54.95 220.80,57.23 220.50,58.80 C220.20,60.37 220.43,61.92 219.10,62.40 C217.77,62.88 214.82,62.12 212.50,61.70 C210.18,61.28 207.63,60.38 205.20,59.90 C202.77,59.42 199.93,59.08 197.90,58.80 C195.87,58.52 194.40,58.62 193.00,58.20 C191.60,57.78 190.75,57.23 189.50,56.30 C188.25,55.37 186.78,53.88 185.50,52.60 C184.22,51.32 182.78,50.00 181.80,48.60 C180.82,47.20 180.02,45.67 179.60,44.20 C179.18,42.73 179.05,41.13 179.30,39.80 C179.55,38.47 180.32,37.42 181.10,36.20 C181.88,34.98 183.15,33.72 184.00,32.50 C184.85,31.28 186.03,30.15 186.20,28.90 C186.37,27.65 185.42,26.17 185.00,25.00 C184.58,23.83 183.37,22.72 183.70,21.90 Z" fill="#ffffff" stroke="#444" stroke-width="0.7"/><path d="M186.20,28.10 C186.93,28.60 189.38,29.63 190.60,31.10 C191.82,32.57 192.83,34.72 193.50,36.90 C194.17,39.08 194.42,42.98 194.60,44.20" fill="none" stroke="#222" stroke-width="1.3" stroke-linecap="round"/><path d="M182.60,38.40 C183.08,39.00 184.53,40.78 185.50,42.00 C186.47,43.22 187.92,45.08 188.40,45.70" fill="none" stroke="#222" stroke-width="1.3" stroke-linecap="round"/><path d="M199.40,24.50 C199.70,25.35 200.72,27.28 201.20,29.60 C201.68,31.92 202.12,36.93 202.30,38.40" fill="none" stroke="#222" stroke-width="1.3" stroke-linecap="round"/><path d="M209.80,40.40 C210.25,40.37 211.57,40.20 212.50,40.20 C213.43,40.20 214.92,40.37 215.40,40.40" fill="none" stroke="#222" stroke-width="1.3" stroke-linecap="round"/><path d="M207.40,47.10 C208.00,47.58 209.42,49.48 211.00,50.00 C212.58,50.52 215.92,50.17 216.90,50.20" fill="none" stroke="#222" stroke-width="1.3" stroke-linecap="round"/><path d="M195.70,50.80 C195.63,51.88 195.37,56.22 195.30,57.30" fill="none" stroke="#222" stroke-width="1.3" stroke-linecap="round"/><path d="M200.10,50.80 C200.58,51.52 202.40,53.77 203.00,55.10 C203.60,56.43 203.58,58.18 203.70,58.80" fill="none" stroke="#222" stroke-width="1.3" stroke-linecap="round"/><path d="M209.60,31.50 C209.87,31.92 210.93,33.58 211.20,34.00" fill="none" stroke="#222" stroke-width="1.3" stroke-linecap="round"/><path d="M204.80,26.80 C205.10,27.47 206.20,29.35 206.60,30.80 C207.00,32.25 207.10,34.72 207.20,35.50" fill="none" stroke="#222" stroke-width="1.3" stroke-linecap="round"/><path d="M213.50,34.80 C212.95,35.10 211.08,35.93 210.20,36.60 C209.32,37.27 208.53,38.43 208.20,38.80" fill="none" stroke="#222" stroke-width="1.3" stroke-linecap="round"/><path d="M134.40,112.90 C135.08,112.38 136.97,111.77 138.20,111.30 C139.43,110.83 140.68,110.78 141.80,110.10 C142.92,109.42 143.62,108.35 144.90,107.20 C146.18,106.05 148.15,104.17 149.50,103.20 C150.85,102.23 151.95,101.58 153.00,101.40 C154.05,101.22 155.23,101.47 155.80,102.10 C156.37,102.73 156.52,103.67 156.40,105.20 C156.28,106.73 155.48,109.43 155.10,111.30 C154.72,113.17 154.18,114.70 154.10,116.40 C154.02,118.10 154.52,120.05 154.60,121.50 C154.68,122.95 155.28,124.45 154.60,125.10 C153.92,125.75 151.35,126.00 150.50,125.40 C149.65,124.80 149.85,122.65 149.50,121.50 C149.15,120.35 148.83,119.00 148.40,118.50 C147.97,118.00 147.57,118.00 146.90,118.50 C146.23,119.00 145.08,120.57 144.40,121.50 C143.72,122.43 143.48,123.83 142.80,124.10 C142.12,124.37 140.85,123.53 140.30,123.10 C139.75,122.67 139.33,122.18 139.50,121.50 C139.67,120.82 140.75,119.93 141.30,119.00 C141.85,118.07 142.88,116.50 142.80,115.90 C142.72,115.30 141.73,115.35 140.80,115.40 C139.87,115.45 138.13,116.12 137.20,116.20 C136.27,116.28 135.72,116.20 135.20,115.90 C134.68,115.60 134.23,114.90 134.10,114.40 C133.97,113.90 133.72,113.42 134.40,112.90 Z" fill="#f5e350" stroke="#555" stroke-width="0.5"/><path d="M42.8,87.6 C37,91 31,95 28,99 C25.5,102.5 24.6,105 24.6,107.4 C24.6,110 25.5,112.5 28,116 C31,120 37,124 42.8,127.3 L44.8,124 L46,107 L44.8,90.8 Z" fill="#bcdcc4"/><path d="M42.8,87.6 C37,91 31,95 28,99 C25.5,102.5 24.6,105 24.6,107.4 C24.6,110 25.5,112.5 28,116 C31,120 37,124 42.8,127.3" fill="none" stroke="#333" stroke-width="0.8"/><path d="M44.2,90.9 C38,93.3 32.5,97 30.3,100 C28.3,103 27.3,105 27.3,107.4 C27.3,110 28.3,112 30.3,115 C32.5,118 38,121.5 44.2,123.9" fill="none" stroke="#333" stroke-width="0.7"/><path d="M30.5,96.8 L32.6,98.6 M27.3,102.8 L29.8,103.8 M27.3,111.8 L29.8,110.8 M30,118 L32.2,116.2" stroke="#333" stroke-width="0.9"/><circle cx="45.7" cy="107.1" r="13.5" fill="#bcdcc4" stroke="#333" stroke-width="0.8"/><circle cx="45.7" cy="107.1" r="12.0" fill="none" stroke="#333" stroke-width="0.5"/><rect x="59.2" y="106.2" width="2.8" height="2" fill="#bcdcc4" stroke="#333" stroke-width="0.4"/><g opacity="0.55"><path d="M61,107.4 C85,103 126,78 137.6,55.4" fill="none" stroke="#f23a2e" stroke-width="1.5" stroke-linecap="round"/><path d="M130.21,58.95 L137.60,55.40 L140.09,63.21" fill="none" stroke="#f23a2e" stroke-width="1.5" stroke-linecap="round" stroke-linejoin="miter"/><path d="M47.2,122.6 C88,113 135,90 153.9,68.2 C158.5,62.9 164,52 168.3,39.4" fill="none" stroke="#f23a2e" stroke-width="1.5" stroke-linecap="round"/><path d="M161.21,43.52 L168.30,39.40 L171.39,46.99" fill="none" stroke="#f23a2e" stroke-width="1.5" stroke-linecap="round" stroke-linejoin="miter"/><path d="M33,120 C45,128 100,126.5 131.6,114.1" fill="none" stroke="#f23a2e" stroke-width="1.5" stroke-linecap="round"/><path d="M123.95,111.14 L131.60,114.10 L127.60,121.26" fill="none" stroke="#f23a2e" stroke-width="1.5" stroke-linecap="round" stroke-linejoin="miter"/><path d="M158.7,101.3 C166,96 174,88 178.9,75.4" fill="none" stroke="#f23a2e" stroke-width="1.5" stroke-linecap="round"/><path d="M171.64,79.22 L178.90,75.40 L181.67,83.12" fill="none" stroke="#f23a2e" stroke-width="1.5" stroke-linecap="round" stroke-linejoin="miter"/></g></g><g transform="translate(285.30,736.50) scale(0.914)"><path d="M51.50,53.40 C51.17,51.90 51.98,49.98 53.00,48.50 C54.02,47.02 55.77,45.70 57.60,44.50 C59.43,43.30 61.92,42.08 64.00,41.30 C66.08,40.52 68.10,39.97 70.10,39.80 C72.10,39.63 74.53,40.00 76.00,40.30 C77.47,40.60 78.32,42.32 78.90,41.60 C79.48,40.88 78.82,37.93 79.50,36.00 C80.18,34.07 81.42,32.02 83.00,30.00 C84.58,27.98 86.50,25.65 89.00,23.90 C91.50,22.15 94.87,20.77 98.00,19.50 C101.13,18.23 104.13,17.55 107.80,16.30 C111.47,15.05 116.13,13.15 120.00,12.00 C123.87,10.85 126.20,9.98 131.00,9.40 C135.80,8.82 144.38,8.28 148.80,8.50 C153.22,8.72 155.17,9.90 157.50,10.70 C159.83,11.50 161.78,12.42 162.80,13.30 C163.82,14.18 163.75,14.97 163.60,16.00 C163.45,17.03 162.92,18.12 161.90,19.50 C160.88,20.88 158.82,22.78 157.50,24.30 C156.18,25.82 155.02,27.15 154.00,28.60 C152.98,30.05 151.98,31.53 151.40,33.00 C150.82,34.47 151.08,36.08 150.50,37.40 C149.92,38.72 148.77,40.02 147.90,40.90 C147.03,41.78 146.55,42.37 145.30,42.70 C144.05,43.03 142.53,43.02 140.40,42.90 C138.27,42.78 134.40,42.08 132.50,42.00 C130.60,41.92 130.38,41.52 129.00,42.40 C127.62,43.28 125.30,46.35 124.20,47.30 C123.10,48.25 122.33,47.67 122.40,48.10 C122.47,48.53 124.08,49.17 124.60,49.90 C125.12,50.63 125.42,50.60 125.50,52.50 C125.58,54.40 125.25,58.38 125.10,61.30 C124.95,64.22 124.82,67.97 124.60,70.00 C124.38,72.03 124.17,72.33 123.80,73.50 C123.43,74.67 122.48,75.97 122.40,77.00 C122.32,78.03 123.03,78.57 123.30,79.70 C123.57,80.83 125.88,83.42 124.00,83.80 C122.12,84.18 115.75,82.78 112.00,82.00 C108.25,81.22 105.55,80.22 101.50,79.10 C97.45,77.98 90.53,75.73 87.70,75.30 C84.87,74.87 85.33,76.28 84.50,76.50 C83.67,76.72 84.05,77.22 82.70,76.60 C81.35,75.98 78.85,74.23 76.40,72.80 C73.95,71.37 70.52,69.67 68.00,68.00 C65.48,66.33 63.47,64.55 61.30,62.80 C59.13,61.05 56.63,59.07 55.00,57.50 C53.37,55.93 51.83,54.90 51.50,53.40 Z" fill="#c6dcbe" stroke="#444" stroke-width="0.7"/><path d="M161.00,20.30 C162.32,19.42 163.78,19.07 165.40,19.00 C167.02,18.93 169.10,19.47 170.70,19.90 C172.30,20.33 173.55,21.23 175.00,21.60 C176.45,21.97 177.93,22.10 179.40,22.10 C180.87,22.10 182.97,21.20 183.80,21.60 C184.63,22.00 184.00,23.28 184.40,24.50 C184.80,25.72 186.27,27.57 186.20,28.90 C186.13,30.23 184.85,31.28 184.00,32.50 C183.15,33.72 181.88,34.98 181.10,36.20 C180.32,37.42 179.55,38.47 179.30,39.80 C179.05,41.13 179.23,42.58 179.60,44.20 C179.97,45.82 180.77,47.95 181.50,49.50 C182.23,51.05 183.00,52.17 184.00,53.50 C185.00,54.83 186.25,56.42 187.50,57.50 C188.75,58.58 190.00,59.38 191.50,60.00 C193.00,60.62 194.22,61.03 196.50,61.20 C198.78,61.37 202.53,60.82 205.20,61.00 C207.87,61.18 210.18,61.93 212.50,62.30 C214.82,62.67 217.43,62.67 219.10,63.20 C220.77,63.73 221.80,64.73 222.50,65.50 C223.20,66.27 223.27,66.17 223.30,67.80 C223.33,69.43 223.63,72.78 222.70,75.30 C221.77,77.82 220.63,80.80 217.70,82.90 C214.77,85.00 208.88,86.75 205.10,87.90 C201.32,89.05 198.18,89.52 195.00,89.80 C191.82,90.08 189.08,89.82 186.00,89.60 C182.92,89.38 178.98,89.00 176.50,88.50 C174.02,88.00 172.88,87.43 171.10,86.60 C169.32,85.77 167.20,84.60 165.80,83.50 C164.40,82.40 163.43,81.22 162.70,80.00 C161.97,78.78 161.47,77.42 161.40,76.20 C161.33,74.98 162.45,73.43 162.30,72.70 C162.15,71.97 161.08,72.25 160.50,71.80 C159.92,71.35 159.52,70.80 158.80,70.00 C158.08,69.20 157.08,68.17 156.20,67.00 C155.32,65.83 154.32,63.98 153.50,63.00 C152.68,62.02 151.37,61.60 151.30,61.10 C151.23,60.60 153.32,60.85 153.10,60.00 C152.88,59.15 150.88,57.25 150.00,56.00 C149.12,54.75 148.30,54.10 147.80,52.50 C147.30,50.90 147.28,48.08 147.00,46.40 C146.72,44.72 145.95,43.32 146.10,42.40 C146.25,41.48 147.17,41.73 147.90,40.90 C148.63,40.07 149.92,38.72 150.50,37.40 C151.08,36.08 150.82,34.47 151.40,33.00 C151.98,31.53 152.98,30.05 154.00,28.60 C155.02,27.15 156.33,25.68 157.50,24.30 C158.67,22.92 159.68,21.18 161.00,20.30 Z" fill="#ef6d31" stroke="#444" stroke-width="0.7"/><path d="M122.40,48.10 C122.33,47.67 123.10,48.25 124.20,47.30 C125.30,46.35 127.62,43.28 129.00,42.40 C130.38,41.52 130.60,41.92 132.50,42.00 C134.40,42.08 138.13,42.83 140.40,42.90 C142.67,42.97 145.00,41.82 146.10,42.40 C147.20,42.98 146.72,44.72 147.00,46.40 C147.28,48.08 147.30,50.90 147.80,52.50 C148.30,54.10 149.12,54.75 150.00,56.00 C150.88,57.25 152.88,59.15 153.10,60.00 C153.32,60.85 151.23,60.60 151.30,61.10 C151.37,61.60 152.68,62.02 153.50,63.00 C154.32,63.98 155.32,65.83 156.20,67.00 C157.08,68.17 158.37,68.92 158.80,70.00 C159.23,71.08 158.95,72.33 158.80,73.50 C158.65,74.67 158.78,75.68 157.90,77.00 C157.02,78.32 155.10,80.08 153.50,81.40 C151.90,82.72 150.33,83.87 148.30,84.90 C146.27,85.93 143.93,87.08 141.30,87.60 C138.67,88.12 135.05,88.00 132.50,88.00 C129.95,88.00 127.17,87.97 126.00,87.60 C124.83,87.23 125.00,86.62 125.50,85.80 C126.00,84.98 128.57,83.43 129.00,82.70 C129.43,81.97 129.05,81.90 128.10,81.40 C127.15,80.90 124.25,80.43 123.30,79.70 C122.35,78.97 122.32,78.03 122.40,77.00 C122.48,75.97 123.43,74.67 123.80,73.50 C124.17,72.33 124.38,72.03 124.60,70.00 C124.82,67.97 124.95,64.22 125.10,61.30 C125.25,58.38 125.58,54.40 125.50,52.50 C125.42,50.60 125.12,50.63 124.60,49.90 C124.08,49.17 122.47,48.53 122.40,48.10 Z" fill="#ece57c" stroke="#444" stroke-width="0.7"/><path d="M183.70,21.90 C184.03,21.08 185.60,20.33 187.00,20.10 C188.40,19.87 190.28,20.02 192.10,20.50 C193.92,20.98 196.82,22.45 197.90,23.00 C198.98,23.55 198.00,23.67 198.60,23.80 C199.20,23.93 200.15,23.32 201.50,23.80 C202.85,24.28 205.23,25.55 206.70,26.70 C208.17,27.85 209.22,29.73 210.30,30.70 C211.38,31.67 212.28,31.58 213.20,32.50 C214.12,33.42 215.18,34.98 215.80,36.20 C216.42,37.42 216.48,38.72 216.90,39.80 C217.32,40.88 217.82,41.48 218.30,42.70 C218.78,43.92 219.37,45.38 219.80,47.10 C220.23,48.82 220.78,51.05 220.90,53.00 C221.02,54.95 220.80,57.23 220.50,58.80 C220.20,60.37 220.43,61.92 219.10,62.40 C217.77,62.88 214.82,62.12 212.50,61.70 C210.18,61.28 207.63,60.38 205.20,59.90 C202.77,59.42 199.93,59.08 197.90,58.80 C195.87,58.52 194.40,58.62 193.00,58.20 C191.60,57.78 190.75,57.23 189.50,56.30 C188.25,55.37 186.78,53.88 185.50,52.60 C184.22,51.32 182.78,50.00 181.80,48.60 C180.82,47.20 180.02,45.67 179.60,44.20 C179.18,42.73 179.05,41.13 179.30,39.80 C179.55,38.47 180.32,37.42 181.10,36.20 C181.88,34.98 183.15,33.72 184.00,32.50 C184.85,31.28 186.03,30.15 186.20,28.90 C186.37,27.65 185.42,26.17 185.00,25.00 C184.58,23.83 183.37,22.72 183.70,21.90 Z" fill="#ffffff" stroke="#444" stroke-width="0.7"/><path d="M186.20,28.10 C186.93,28.60 189.38,29.63 190.60,31.10 C191.82,32.57 192.83,34.72 193.50,36.90 C194.17,39.08 194.42,42.98 194.60,44.20" fill="none" stroke="#222" stroke-width="1.3" stroke-linecap="round"/><path d="M182.60,38.40 C183.08,39.00 184.53,40.78 185.50,42.00 C186.47,43.22 187.92,45.08 188.40,45.70" fill="none" stroke="#222" stroke-width="1.3" stroke-linecap="round"/><path d="M199.40,24.50 C199.70,25.35 200.72,27.28 201.20,29.60 C201.68,31.92 202.12,36.93 202.30,38.40" fill="none" stroke="#222" stroke-width="1.3" stroke-linecap="round"/><path d="M209.80,40.40 C210.25,40.37 211.57,40.20 212.50,40.20 C213.43,40.20 214.92,40.37 215.40,40.40" fill="none" stroke="#222" stroke-width="1.3" stroke-linecap="round"/><path d="M207.40,47.10 C208.00,47.58 209.42,49.48 211.00,50.00 C212.58,50.52 215.92,50.17 216.90,50.20" fill="none" stroke="#222" stroke-width="1.3" stroke-linecap="round"/><path d="M195.70,50.80 C195.63,51.88 195.37,56.22 195.30,57.30" fill="none" stroke="#222" stroke-width="1.3" stroke-linecap="round"/><path d="M200.10,50.80 C200.58,51.52 202.40,53.77 203.00,55.10 C203.60,56.43 203.58,58.18 203.70,58.80" fill="none" stroke="#222" stroke-width="1.3" stroke-linecap="round"/><path d="M209.60,31.50 C209.87,31.92 210.93,33.58 211.20,34.00" fill="none" stroke="#222" stroke-width="1.3" stroke-linecap="round"/><path d="M204.80,26.80 C205.10,27.47 206.20,29.35 206.60,30.80 C207.00,32.25 207.10,34.72 207.20,35.50" fill="none" stroke="#222" stroke-width="1.3" stroke-linecap="round"/><path d="M213.50,34.80 C212.95,35.10 211.08,35.93 210.20,36.60 C209.32,37.27 208.53,38.43 208.20,38.80" fill="none" stroke="#222" stroke-width="1.3" stroke-linecap="round"/><path d="M134.40,112.90 C135.08,112.38 136.97,111.77 138.20,111.30 C139.43,110.83 140.68,110.78 141.80,110.10 C142.92,109.42 143.62,108.35 144.90,107.20 C146.18,106.05 148.15,104.17 149.50,103.20 C150.85,102.23 151.95,101.58 153.00,101.40 C154.05,101.22 155.23,101.47 155.80,102.10 C156.37,102.73 156.52,103.67 156.40,105.20 C156.28,106.73 155.48,109.43 155.10,111.30 C154.72,113.17 154.18,114.70 154.10,116.40 C154.02,118.10 154.52,120.05 154.60,121.50 C154.68,122.95 155.28,124.45 154.60,125.10 C153.92,125.75 151.35,126.00 150.50,125.40 C149.65,124.80 149.85,122.65 149.50,121.50 C149.15,120.35 148.83,119.00 148.40,118.50 C147.97,118.00 147.57,118.00 146.90,118.50 C146.23,119.00 145.08,120.57 144.40,121.50 C143.72,122.43 143.48,123.83 142.80,124.10 C142.12,124.37 140.85,123.53 140.30,123.10 C139.75,122.67 139.33,122.18 139.50,121.50 C139.67,120.82 140.75,119.93 141.30,119.00 C141.85,118.07 142.88,116.50 142.80,115.90 C142.72,115.30 141.73,115.35 140.80,115.40 C139.87,115.45 138.13,116.12 137.20,116.20 C136.27,116.28 135.72,116.20 135.20,115.90 C134.68,115.60 134.23,114.90 134.10,114.40 C133.97,113.90 133.72,113.42 134.40,112.90 Z" fill="#f59a3f" stroke="#555" stroke-width="0.5"/><path d="M42.8,87.6 C37,91 31,95 28,99 C25.5,102.5 24.6,105 24.6,107.4 C24.6,110 25.5,112.5 28,116 C31,120 37,124 42.8,127.3 L44.8,124 L46,107 L44.8,90.8 Z" fill="#bcdcc4"/><path d="M42.8,87.6 C37,91 31,95 28,99 C25.5,102.5 24.6,105 24.6,107.4 C24.6,110 25.5,112.5 28,116 C31,120 37,124 42.8,127.3" fill="none" stroke="#333" stroke-width="0.8"/><path d="M44.2,90.9 C38,93.3 32.5,97 30.3,100 C28.3,103 27.3,105 27.3,107.4 C27.3,110 28.3,112 30.3,115 C32.5,118 38,121.5 44.2,123.9" fill="none" stroke="#333" stroke-width="0.7"/><path d="M30.5,96.8 L32.6,98.6 M27.3,102.8 L29.8,103.8 M27.3,111.8 L29.8,110.8 M30,118 L32.2,116.2" stroke="#333" stroke-width="0.9"/><circle cx="45.7" cy="107.1" r="13.5" fill="#bcdcc4" stroke="#333" stroke-width="0.8"/><circle cx="45.7" cy="107.1" r="12.0" fill="none" stroke="#333" stroke-width="0.5"/><rect x="59.2" y="106.2" width="2.8" height="2" fill="#bcdcc4" stroke="#333" stroke-width="0.4"/><g opacity="0.55"><path d="M61,107.4 C85,103 126,78 137.6,55.4" fill="none" stroke="#f23a2e" stroke-width="1.5" stroke-linecap="round"/><path d="M130.21,58.95 L137.60,55.40 L140.09,63.21" fill="none" stroke="#f23a2e" stroke-width="1.5" stroke-linecap="round" stroke-linejoin="miter"/><path d="M47.2,122.6 C88,113 135,90 153.9,68.2 C158.5,62.9 164,52 168.3,39.4" fill="none" stroke="#f23a2e" stroke-width="1.5" stroke-linecap="round"/><path d="M161.21,43.52 L168.30,39.40 L171.39,46.99" fill="none" stroke="#f23a2e" stroke-width="1.5" stroke-linecap="round" stroke-linejoin="miter"/><path d="M33,120 C45,128 100,126.5 131.6,114.1" fill="none" stroke="#f23a2e" stroke-width="1.5" stroke-linecap="round"/><path d="M123.95,111.14 L131.60,114.10 L127.60,121.26" fill="none" stroke="#f23a2e" stroke-width="1.5" stroke-linecap="round" stroke-linejoin="miter"/><path d="M158.7,101.3 C166,96 174,88 178.9,75.4" fill="none" stroke="#f23a2e" stroke-width="1.5" stroke-linecap="round"/><path d="M171.64,79.22 L178.90,75.40 L181.67,83.12" fill="none" stroke="#f23a2e" stroke-width="1.5" stroke-linecap="round" stroke-linejoin="miter"/></g></g><g transform="translate(480.20,736.50) scale(0.914)"><path d="M51.50,53.40 C51.17,51.90 51.98,49.98 53.00,48.50 C54.02,47.02 55.77,45.70 57.60,44.50 C59.43,43.30 61.92,42.08 64.00,41.30 C66.08,40.52 68.10,39.97 70.10,39.80 C72.10,39.63 74.53,40.00 76.00,40.30 C77.47,40.60 78.32,42.32 78.90,41.60 C79.48,40.88 78.82,37.93 79.50,36.00 C80.18,34.07 81.42,32.02 83.00,30.00 C84.58,27.98 86.50,25.65 89.00,23.90 C91.50,22.15 94.87,20.77 98.00,19.50 C101.13,18.23 104.13,17.55 107.80,16.30 C111.47,15.05 116.13,13.15 120.00,12.00 C123.87,10.85 126.20,9.98 131.00,9.40 C135.80,8.82 144.38,8.28 148.80,8.50 C153.22,8.72 155.17,9.90 157.50,10.70 C159.83,11.50 161.78,12.42 162.80,13.30 C163.82,14.18 163.75,14.97 163.60,16.00 C163.45,17.03 162.92,18.12 161.90,19.50 C160.88,20.88 158.82,22.78 157.50,24.30 C156.18,25.82 155.02,27.15 154.00,28.60 C152.98,30.05 151.98,31.53 151.40,33.00 C150.82,34.47 151.08,36.08 150.50,37.40 C149.92,38.72 148.77,40.02 147.90,40.90 C147.03,41.78 146.55,42.37 145.30,42.70 C144.05,43.03 142.53,43.02 140.40,42.90 C138.27,42.78 134.40,42.08 132.50,42.00 C130.60,41.92 130.38,41.52 129.00,42.40 C127.62,43.28 125.30,46.35 124.20,47.30 C123.10,48.25 122.33,47.67 122.40,48.10 C122.47,48.53 124.08,49.17 124.60,49.90 C125.12,50.63 125.42,50.60 125.50,52.50 C125.58,54.40 125.25,58.38 125.10,61.30 C124.95,64.22 124.82,67.97 124.60,70.00 C124.38,72.03 124.17,72.33 123.80,73.50 C123.43,74.67 122.48,75.97 122.40,77.00 C122.32,78.03 123.03,78.57 123.30,79.70 C123.57,80.83 125.88,83.42 124.00,83.80 C122.12,84.18 115.75,82.78 112.00,82.00 C108.25,81.22 105.55,80.22 101.50,79.10 C97.45,77.98 90.53,75.73 87.70,75.30 C84.87,74.87 85.33,76.28 84.50,76.50 C83.67,76.72 84.05,77.22 82.70,76.60 C81.35,75.98 78.85,74.23 76.40,72.80 C73.95,71.37 70.52,69.67 68.00,68.00 C65.48,66.33 63.47,64.55 61.30,62.80 C59.13,61.05 56.63,59.07 55.00,57.50 C53.37,55.93 51.83,54.90 51.50,53.40 Z" fill="#acd8dd" stroke="#444" stroke-width="0.7"/><path d="M161.00,20.30 C162.32,19.42 163.78,19.07 165.40,19.00 C167.02,18.93 169.10,19.47 170.70,19.90 C172.30,20.33 173.55,21.23 175.00,21.60 C176.45,21.97 177.93,22.10 179.40,22.10 C180.87,22.10 182.97,21.20 183.80,21.60 C184.63,22.00 184.00,23.28 184.40,24.50 C184.80,25.72 186.27,27.57 186.20,28.90 C186.13,30.23 184.85,31.28 184.00,32.50 C183.15,33.72 181.88,34.98 181.10,36.20 C180.32,37.42 179.55,38.47 179.30,39.80 C179.05,41.13 179.23,42.58 179.60,44.20 C179.97,45.82 180.77,47.95 181.50,49.50 C182.23,51.05 183.00,52.17 184.00,53.50 C185.00,54.83 186.25,56.42 187.50,57.50 C188.75,58.58 190.00,59.38 191.50,60.00 C193.00,60.62 194.22,61.03 196.50,61.20 C198.78,61.37 202.53,60.82 205.20,61.00 C207.87,61.18 210.18,61.93 212.50,62.30 C214.82,62.67 217.43,62.67 219.10,63.20 C220.77,63.73 221.80,64.73 222.50,65.50 C223.20,66.27 223.27,66.17 223.30,67.80 C223.33,69.43 223.63,72.78 222.70,75.30 C221.77,77.82 220.63,80.80 217.70,82.90 C214.77,85.00 208.88,86.75 205.10,87.90 C201.32,89.05 198.18,89.52 195.00,89.80 C191.82,90.08 189.08,89.82 186.00,89.60 C182.92,89.38 178.98,89.00 176.50,88.50 C174.02,88.00 172.88,87.43 171.10,86.60 C169.32,85.77 167.20,84.60 165.80,83.50 C164.40,82.40 163.43,81.22 162.70,80.00 C161.97,78.78 161.47,77.42 161.40,76.20 C161.33,74.98 162.45,73.43 162.30,72.70 C162.15,71.97 161.08,72.25 160.50,71.80 C159.92,71.35 159.52,70.80 158.80,70.00 C158.08,69.20 157.08,68.17 156.20,67.00 C155.32,65.83 154.32,63.98 153.50,63.00 C152.68,62.02 151.37,61.60 151.30,61.10 C151.23,60.60 153.32,60.85 153.10,60.00 C152.88,59.15 150.88,57.25 150.00,56.00 C149.12,54.75 148.30,54.10 147.80,52.50 C147.30,50.90 147.28,48.08 147.00,46.40 C146.72,44.72 145.95,43.32 146.10,42.40 C146.25,41.48 147.17,41.73 147.90,40.90 C148.63,40.07 149.92,38.72 150.50,37.40 C151.08,36.08 150.82,34.47 151.40,33.00 C151.98,31.53 152.98,30.05 154.00,28.60 C155.02,27.15 156.33,25.68 157.50,24.30 C158.67,22.92 159.68,21.18 161.00,20.30 Z" fill="#f28c3a" stroke="#444" stroke-width="0.7"/><path d="M122.40,48.10 C122.33,47.67 123.10,48.25 124.20,47.30 C125.30,46.35 127.62,43.28 129.00,42.40 C130.38,41.52 130.60,41.92 132.50,42.00 C134.40,42.08 138.13,42.83 140.40,42.90 C142.67,42.97 145.00,41.82 146.10,42.40 C147.20,42.98 146.72,44.72 147.00,46.40 C147.28,48.08 147.30,50.90 147.80,52.50 C148.30,54.10 149.12,54.75 150.00,56.00 C150.88,57.25 152.88,59.15 153.10,60.00 C153.32,60.85 151.23,60.60 151.30,61.10 C151.37,61.60 152.68,62.02 153.50,63.00 C154.32,63.98 155.32,65.83 156.20,67.00 C157.08,68.17 158.37,68.92 158.80,70.00 C159.23,71.08 158.95,72.33 158.80,73.50 C158.65,74.67 158.78,75.68 157.90,77.00 C157.02,78.32 155.10,80.08 153.50,81.40 C151.90,82.72 150.33,83.87 148.30,84.90 C146.27,85.93 143.93,87.08 141.30,87.60 C138.67,88.12 135.05,88.00 132.50,88.00 C129.95,88.00 127.17,87.97 126.00,87.60 C124.83,87.23 125.00,86.62 125.50,85.80 C126.00,84.98 128.57,83.43 129.00,82.70 C129.43,81.97 129.05,81.90 128.10,81.40 C127.15,80.90 124.25,80.43 123.30,79.70 C122.35,78.97 122.32,78.03 122.40,77.00 C122.48,75.97 123.43,74.67 123.80,73.50 C124.17,72.33 124.38,72.03 124.60,70.00 C124.82,67.97 124.95,64.22 125.10,61.30 C125.25,58.38 125.58,54.40 125.50,52.50 C125.42,50.60 125.12,50.63 124.60,49.90 C124.08,49.17 122.47,48.53 122.40,48.10 Z" fill="#f7a747" stroke="#444" stroke-width="0.7"/><path d="M183.70,21.90 C184.03,21.08 185.60,20.33 187.00,20.10 C188.40,19.87 190.28,20.02 192.10,20.50 C193.92,20.98 196.82,22.45 197.90,23.00 C198.98,23.55 198.00,23.67 198.60,23.80 C199.20,23.93 200.15,23.32 201.50,23.80 C202.85,24.28 205.23,25.55 206.70,26.70 C208.17,27.85 209.22,29.73 210.30,30.70 C211.38,31.67 212.28,31.58 213.20,32.50 C214.12,33.42 215.18,34.98 215.80,36.20 C216.42,37.42 216.48,38.72 216.90,39.80 C217.32,40.88 217.82,41.48 218.30,42.70 C218.78,43.92 219.37,45.38 219.80,47.10 C220.23,48.82 220.78,51.05 220.90,53.00 C221.02,54.95 220.80,57.23 220.50,58.80 C220.20,60.37 220.43,61.92 219.10,62.40 C217.77,62.88 214.82,62.12 212.50,61.70 C210.18,61.28 207.63,60.38 205.20,59.90 C202.77,59.42 199.93,59.08 197.90,58.80 C195.87,58.52 194.40,58.62 193.00,58.20 C191.60,57.78 190.75,57.23 189.50,56.30 C188.25,55.37 186.78,53.88 185.50,52.60 C184.22,51.32 182.78,50.00 181.80,48.60 C180.82,47.20 180.02,45.67 179.60,44.20 C179.18,42.73 179.05,41.13 179.30,39.80 C179.55,38.47 180.32,37.42 181.10,36.20 C181.88,34.98 183.15,33.72 184.00,32.50 C184.85,31.28 186.03,30.15 186.20,28.90 C186.37,27.65 185.42,26.17 185.00,25.00 C184.58,23.83 183.37,22.72 183.70,21.90 Z" fill="#f5a646" stroke="#444" stroke-width="0.7"/><path d="M186.20,28.10 C186.93,28.60 189.38,29.63 190.60,31.10 C191.82,32.57 192.83,34.72 193.50,36.90 C194.17,39.08 194.42,42.98 194.60,44.20" fill="none" stroke="#222" stroke-width="1.3" stroke-linecap="round"/><path d="M182.60,38.40 C183.08,39.00 184.53,40.78 185.50,42.00 C186.47,43.22 187.92,45.08 188.40,45.70" fill="none" stroke="#222" stroke-width="1.3" stroke-linecap="round"/><path d="M199.40,24.50 C199.70,25.35 200.72,27.28 201.20,29.60 C201.68,31.92 202.12,36.93 202.30,38.40" fill="none" stroke="#222" stroke-width="1.3" stroke-linecap="round"/><path d="M209.80,40.40 C210.25,40.37 211.57,40.20 212.50,40.20 C213.43,40.20 214.92,40.37 215.40,40.40" fill="none" stroke="#222" stroke-width="1.3" stroke-linecap="round"/><path d="M207.40,47.10 C208.00,47.58 209.42,49.48 211.00,50.00 C212.58,50.52 215.92,50.17 216.90,50.20" fill="none" stroke="#222" stroke-width="1.3" stroke-linecap="round"/><path d="M195.70,50.80 C195.63,51.88 195.37,56.22 195.30,57.30" fill="none" stroke="#222" stroke-width="1.3" stroke-linecap="round"/><path d="M200.10,50.80 C200.58,51.52 202.40,53.77 203.00,55.10 C203.60,56.43 203.58,58.18 203.70,58.80" fill="none" stroke="#222" stroke-width="1.3" stroke-linecap="round"/><path d="M209.60,31.50 C209.87,31.92 210.93,33.58 211.20,34.00" fill="none" stroke="#222" stroke-width="1.3" stroke-linecap="round"/><path d="M204.80,26.80 C205.10,27.47 206.20,29.35 206.60,30.80 C207.00,32.25 207.10,34.72 207.20,35.50" fill="none" stroke="#222" stroke-width="1.3" stroke-linecap="round"/><path d="M213.50,34.80 C212.95,35.10 211.08,35.93 210.20,36.60 C209.32,37.27 208.53,38.43 208.20,38.80" fill="none" stroke="#222" stroke-width="1.3" stroke-linecap="round"/><path d="M134.40,112.90 C135.08,112.38 136.97,111.77 138.20,111.30 C139.43,110.83 140.68,110.78 141.80,110.10 C142.92,109.42 143.62,108.35 144.90,107.20 C146.18,106.05 148.15,104.17 149.50,103.20 C150.85,102.23 151.95,101.58 153.00,101.40 C154.05,101.22 155.23,101.47 155.80,102.10 C156.37,102.73 156.52,103.67 156.40,105.20 C156.28,106.73 155.48,109.43 155.10,111.30 C154.72,113.17 154.18,114.70 154.10,116.40 C154.02,118.10 154.52,120.05 154.60,121.50 C154.68,122.95 155.28,124.45 154.60,125.10 C153.92,125.75 151.35,126.00 150.50,125.40 C149.65,124.80 149.85,122.65 149.50,121.50 C149.15,120.35 148.83,119.00 148.40,118.50 C147.97,118.00 147.57,118.00 146.90,118.50 C146.23,119.00 145.08,120.57 144.40,121.50 C143.72,122.43 143.48,123.83 142.80,124.10 C142.12,124.37 140.85,123.53 140.30,123.10 C139.75,122.67 139.33,122.18 139.50,121.50 C139.67,120.82 140.75,119.93 141.30,119.00 C141.85,118.07 142.88,116.50 142.80,115.90 C142.72,115.30 141.73,115.35 140.80,115.40 C139.87,115.45 138.13,116.12 137.20,116.20 C136.27,116.28 135.72,116.20 135.20,115.90 C134.68,115.60 134.23,114.90 134.10,114.40 C133.97,113.90 133.72,113.42 134.40,112.90 Z" fill="#f1e75f" stroke="#555" stroke-width="0.5"/><path d="M42.8,87.6 C37,91 31,95 28,99 C25.5,102.5 24.6,105 24.6,107.4 C24.6,110 25.5,112.5 28,116 C31,120 37,124 42.8,127.3 L44.8,124 L46,107 L44.8,90.8 Z" fill="#b2d9c9"/><path d="M42.8,87.6 C37,91 31,95 28,99 C25.5,102.5 24.6,105 24.6,107.4 C24.6,110 25.5,112.5 28,116 C31,120 37,124 42.8,127.3" fill="none" stroke="#333" stroke-width="0.8"/><path d="M44.2,90.9 C38,93.3 32.5,97 30.3,100 C28.3,103 27.3,105 27.3,107.4 C27.3,110 28.3,112 30.3,115 C32.5,118 38,121.5 44.2,123.9" fill="none" stroke="#333" stroke-width="0.7"/><path d="M30.5,96.8 L32.6,98.6 M27.3,102.8 L29.8,103.8 M27.3,111.8 L29.8,110.8 M30,118 L32.2,116.2" stroke="#333" stroke-width="0.9"/><circle cx="45.7" cy="107.1" r="13.5" fill="#b2d9c9" stroke="#333" stroke-width="0.8"/><circle cx="45.7" cy="107.1" r="12.0" fill="none" stroke="#333" stroke-width="0.5"/><rect x="59.2" y="106.2" width="2.8" height="2" fill="#b2d9c9" stroke="#333" stroke-width="0.4"/><g opacity="0.55"><path d="M61,107.4 C85,103 126,78 137.6,55.4" fill="none" stroke="#f23a2e" stroke-width="1.5" stroke-linecap="round"/><path d="M130.21,58.95 L137.60,55.40 L140.09,63.21" fill="none" stroke="#f23a2e" stroke-width="1.5" stroke-linecap="round" stroke-linejoin="miter"/><path d="M47.2,122.6 C88,113 135,90 153.9,68.2 C158.5,62.9 164,52 168.3,39.4" fill="none" stroke="#f23a2e" stroke-width="1.5" stroke-linecap="round"/><path d="M161.21,43.52 L168.30,39.40 L171.39,46.99" fill="none" stroke="#f23a2e" stroke-width="1.5" stroke-linecap="round" stroke-linejoin="miter"/><path d="M33,120 C45,128 100,126.5 131.6,114.1" fill="none" stroke="#f23a2e" stroke-width="1.5" stroke-linecap="round"/><path d="M123.95,111.14 L131.60,114.10 L127.60,121.26" fill="none" stroke="#f23a2e" stroke-width="1.5" stroke-linecap="round" stroke-linejoin="miter"/><path d="M158.7,101.3 C166,96 174,88 178.9,75.4" fill="none" stroke="#f23a2e" stroke-width="1.5" stroke-linecap="round"/><path d="M171.64,79.22 L178.90,75.40 L181.67,83.12" fill="none" stroke="#f23a2e" stroke-width="1.5" stroke-linecap="round" stroke-linejoin="miter"/></g></g><text x="223.50" y="728.70" font-size="11.6" font-weight="bold" text-anchor="middle" fill="#111" >Day 2</text><text x="418.40" y="728.70" font-size="11.6" font-weight="bold" text-anchor="middle" fill="#111" >Day 3</text><text x="613.30" y="728.70" font-size="11.6" font-weight="bold" text-anchor="middle" fill="#111" >Day 4</text><text x="39.60" y="605.30" font-size="12.4" font-weight="bold" text-anchor="start" fill="#111" >Viral titers</text><defs><linearGradient id="gv" x1="0" y1="0" x2="0" y2="1"><stop offset="0" stop-color="#69303a"/><stop offset="0.15" stop-color="#7d3236"/><stop offset="0.32" stop-color="#cc4535"/><stop offset="0.5" stop-color="#e4813e"/><stop offset="0.62" stop-color="#ebb440"/><stop offset="0.74" stop-color="#eee74f"/><stop offset="0.87" stop-color="#cfe19a"/><stop offset="1" stop-color="#a8d7df"/></linearGradient><linearGradient id="gg" x1="0" y1="0" x2="0" y2="1"><stop offset="0" stop-color="#e8202f"/><stop offset="0.1" stop-color="#ea2e30"/><stop offset="0.22" stop-color="#ee5e33"/><stop offset="0.33" stop-color="#f39a3b"/><stop offset="0.42" stop-color="#f8c245"/><stop offset="0.5" stop-color="#f0e84f"/><stop offset="0.62" stop-color="#cfe0a0"/><stop offset="0.75" stop-color="#a5d2d8"/><stop offset="0.88" stop-color="#7ab8e0"/><stop offset="1" stop-color="#4a9fdb"/></linearGradient></defs><rect x="39.1" y="613.9" width="12.7" height="83.4" fill="url(#gv)"/><line x1="51.7" y1="616.40" x2="54.5" y2="616.40" stroke="#111" stroke-width="1"/><text x="56.00" y="619.70" font-size="9.2" font-weight="bold" text-anchor="start" fill="#111" >8</text><line x1="51.7" y1="626.12" x2="54.5" y2="626.12" stroke="#111" stroke-width="1"/><line x1="51.7" y1="635.85" x2="54.5" y2="635.85" stroke="#111" stroke-width="1"/><text x="56.00" y="639.15" font-size="9.2" font-weight="bold" text-anchor="start" fill="#111" >6</text><line x1="51.7" y1="645.58" x2="54.5" y2="645.58" stroke="#111" stroke-width="1"/><line x1="51.7" y1="655.30" x2="54.5" y2="655.30" stroke="#111" stroke-width="1"/><text x="56.00" y="658.60" font-size="9.2" font-weight="bold" text-anchor="start" fill="#111" >4</text><line x1="51.7" y1="665.02" x2="54.5" y2="665.02" stroke="#111" stroke-width="1"/><line x1="51.7" y1="674.75" x2="54.5" y2="674.75" stroke="#111" stroke-width="1"/><text x="56.00" y="678.05" font-size="9.2" font-weight="bold" text-anchor="start" fill="#111" >2</text><line x1="51.7" y1="684.48" x2="54.5" y2="684.48" stroke="#111" stroke-width="1"/><line x1="51.7" y1="694.20" x2="54.5" y2="694.20" stroke="#111" stroke-width="1"/><text x="56.00" y="697.50" font-size="9.2" font-weight="bold" text-anchor="start" fill="#111" >not</text><text x="56.00" y="705.80" font-size="9.2" font-weight="bold" text-anchor="start" fill="#111" >detected</text><text x="0.00" y="0.00" font-size="10" font-weight="bold" text-anchor="middle" fill="#111" transform="translate(33.3,650.7) rotate(-90)">log(PFU)</text><text x="39.60" y="738.00" font-size="12.4" font-weight="bold" text-anchor="start" fill="#111" >Gene drive</text><rect x="39.1" y="748.3" width="12.7" height="83" fill="url(#gg)"/><line x1="51.7" y1="751.00" x2="54.5" y2="751.00" stroke="#111" stroke-width="1"/><text x="56.00" y="754.30" font-size="9.2" font-weight="bold" text-anchor="start" fill="#111" >100%</text><line x1="51.7" y1="766.84" x2="54.5" y2="766.84" stroke="#111" stroke-width="1"/><text x="56.00" y="770.14" font-size="9.2" font-weight="bold" text-anchor="start" fill="#111" >80%</text><line x1="51.7" y1="782.68" x2="54.5" y2="782.68" stroke="#111" stroke-width="1"/><text x="56.00" y="785.98" font-size="9.2" font-weight="bold" text-anchor="start" fill="#111" >60%</text><line x1="51.7" y1="798.52" x2="54.5" y2="798.52" stroke="#111" stroke-width="1"/><text x="56.00" y="801.82" font-size="9.2" font-weight="bold" text-anchor="start" fill="#111" >40%</text><line x1="51.7" y1="814.36" x2="54.5" y2="814.36" stroke="#111" stroke-width="1"/><text x="56.00" y="817.66" font-size="9.2" font-weight="bold" text-anchor="start" fill="#111" >20%</text><line x1="51.7" y1="830.20" x2="54.5" y2="830.20" stroke="#111" stroke-width="1"/><text x="56.00" y="833.50" font-size="9.2" font-weight="bold" text-anchor="start" fill="#111" >0%</text><rect x="39.5" y="835.5" width="12.5" height="12" fill="#fff" stroke="#666" stroke-width="0.8"/><text x="56.20" y="843.70" font-size="9.5" font-weight="bold" text-anchor="start" fill="#111" >no data</text></svg></body></html>
